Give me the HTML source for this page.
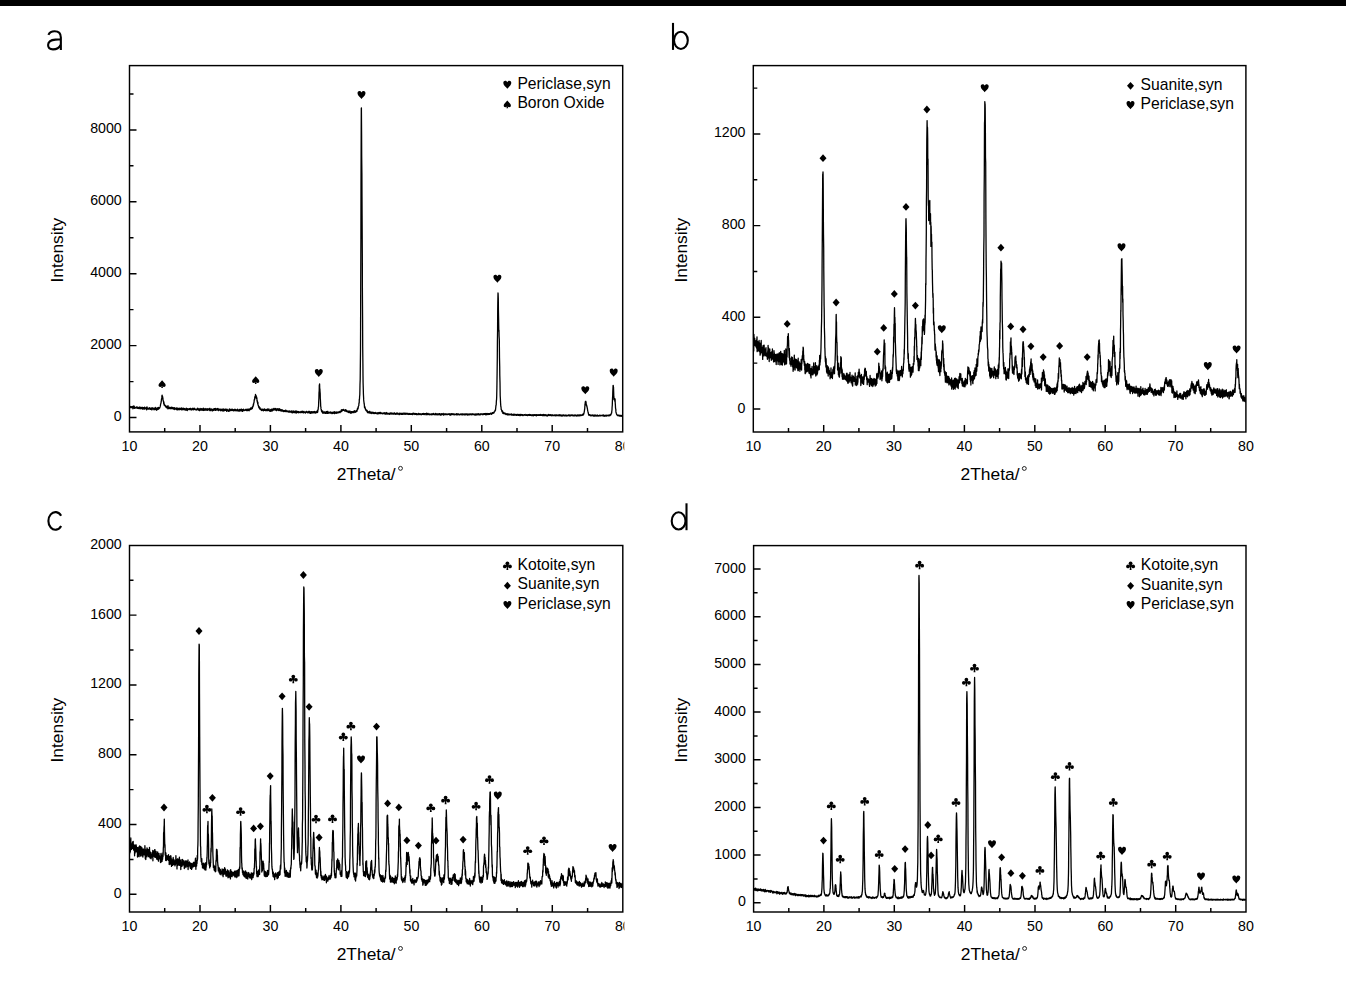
<!DOCTYPE html><html><head><meta charset="utf-8"><style>html,body{margin:0;padding:0;background:#fff;overflow:hidden}svg{display:block}text{font-family:'Liberation Sans', sans-serif;fill:#000}.t{font-size:14.2px}.ax{font-size:17.4px}.lg{font-size:15.7px}</style></head><body>
<svg width="1346" height="997" viewBox="0 0 1346 997">
<defs><path id="s_heart" d="M0,4.05C-0.9,2.6-4,0.6-4,-1.7C-4,-3.2-3.1,-4.05-2,-4.05C-1,-4.05-0.3,-3.4 0,-2.6C0.3,-3.4 1,-4.05 2,-4.05C3.1,-4.05 4,-3.2 4,-1.7C4,0.6 0.9,2.6 0,4.05Z"/><path id="s_spade" d="M0,-3.9L-3.1,-0.4C-3.9,0.5-3.8,2.8-2,2.8C-1.2,2.8-0.6,2.4-0.35,1.9L-0.9,3.9L0.9,3.9L0.35,1.9C0.6,2.4 1.2,2.8 2,2.8C3.8,2.8 3.9,0.5 3.1,-0.4Z"/><path id="s_diamond" d="M0,-3.9L3.5,0L0,3.9L-3.5,0Z"/><g id="s_club"><circle cx="0" cy="-2.4" r="1.85"/><circle cx="-2.6" cy="0.75" r="1.85"/><circle cx="2.6" cy="0.75" r="1.85"/><circle cx="0" cy="0.1" r="1.5"/><path d="M-0.4,0.5L0.4,0.5L0.95,4.25L-0.95,4.25Z"/></g></defs>
<rect x="0" y="0" width="1346" height="997" fill="#fff"/>
<rect x="0" y="0" width="1346" height="6" fill="#000"/>

<g fill="none" stroke="#000" stroke-width="2.1" stroke-linecap="butt">
<path d="M48.4,34.9C49.6,32.3 51.8,31.3 54.6,31.3C58.6,31.3 60.85,33.3 60.85,37.5L60.85,50.1M60.85,39.3L55.5,39.6C51,39.9 48.1,41.5 48.1,45.1C48.1,47.9 50.2,49.4 53,49.4C56.5,49.4 59.5,47.4 60.85,44.5"/>
<path d="M673,22.9V49.9"/><ellipse cx="680.9" cy="40.35" rx="6.9" ry="8.65"/>
<path d="M61.13,515.85A7,8.8 0 1 0 61.13,525.95"/>
<path d="M686.5,503.3V530.2"/><ellipse cx="678.6" cy="520.9" rx="6.9" ry="8.6"/>
</g>

<clipPath id="clipa"><rect x="129.5" y="65.6" width="493.2" height="366.3"/></clipPath>
<polyline clip-path="url(#clipa)" fill="none" stroke="#000" stroke-width="1.3" stroke-linejoin="round" points="129.5,406.8 129.6,406.5 129.8,406.8 129.9,407.8 130.1,406.4 130.2,406.7 130.3,407.4 130.5,406.7 130.6,406.8 130.8,406.9 130.9,407 131.1,406.7 131.2,407.5 131.3,407.2 131.5,407.4 131.6,406.7 131.8,407.1 131.9,407.3 132,407.6 132.2,407.3 132.3,407.2 132.5,407.3 132.6,406.4 132.7,406.6 132.9,408.8 133,408.4 133.2,407.3 133.3,407.5 133.4,407.1 133.6,407.1 133.7,406 133.9,408 134,407.5 134.2,406.1 134.3,406.9 134.4,406.9 134.6,407.7 134.7,408.4 134.9,407.3 135,407.3 135.1,408.1 135.3,407.8 135.4,407.5 135.6,408 135.7,407.5 135.8,407.4 136,407.5 136.1,407.8 136.3,407.1 136.4,407 136.5,407.3 136.7,408 136.8,407.1 137,407.9 137.1,407 137.3,408.2 137.4,407.1 137.5,407.6 137.7,408.4 137.8,407.8 138,407.6 138.1,407.5 138.2,408.3 138.4,408.3 138.5,407.6 138.7,408 138.8,407.6 138.9,407.3 139.1,408.7 139.2,407.6 139.4,407 139.5,408 139.6,408.3 139.8,407.4 139.9,407.7 140.1,407.3 140.2,408 140.4,408.7 140.5,407.9 140.6,408.1 140.8,407.4 140.9,407.8 141.1,408.9 141.2,408.6 141.3,407.4 141.5,407.6 141.6,408.3 141.8,408 141.9,407.7 142,407.7 142.2,407.5 142.3,407.9 142.5,408.1 142.6,408.2 142.7,407.4 142.9,409.4 143,408.2 143.2,408.1 143.3,408.9 143.5,407.9 143.6,408.5 143.7,407.6 143.9,408.2 144,407.8 144.2,407.5 144.3,408 144.4,408.7 144.6,409.1 144.7,407.2 144.9,408.3 145,408.6 145.1,408.2 145.3,408.4 145.4,407.8 145.6,408.3 145.7,408.3 145.8,408.7 146,408 146.1,408.9 146.3,407.9 146.4,407.5 146.6,409.2 146.7,409.8 146.8,408 147,406.9 147.1,409 147.3,409.1 147.4,408.1 147.5,408.9 147.7,408.7 147.8,408.6 148,408.1 148.1,408.7 148.2,408.3 148.4,408.6 148.5,409 148.7,408.7 148.8,409.1 148.9,408.5 149.1,409.2 149.2,409.2 149.4,407.7 149.5,408.6 149.7,408.6 149.8,408.3 149.9,408.8 150.1,408.7 150.2,408.4 150.4,408.5 150.5,409.3 150.6,408.2 150.8,409 150.9,409.3 151.1,409.2 151.2,408.9 151.3,407.8 151.5,409.4 151.6,408.6 151.8,409.9 151.9,408.7 152,408.2 152.2,408.9 152.3,409.1 152.5,408.6 152.6,408.4 152.8,408.4 152.9,407.7 153,408.7 153.2,409.1 153.3,408.9 153.5,408.8 153.6,408.8 153.7,408.8 153.9,408.7 154,409.8 154.2,408.4 154.3,409.2 154.4,409.5 154.6,408.5 154.7,408.1 154.9,408.6 155,408.8 155.1,409.4 155.3,407.4 155.4,408.4 155.6,409.5 155.7,409.3 155.9,408.8 156,409.7 156.1,408.8 156.3,409.1 156.4,408.2 156.6,408.3 156.7,410.3 156.8,408.8 157,409.7 157.1,408.2 157.3,408.7 157.4,408.5 157.5,409.4 157.7,407.7 157.8,407.6 158,409.3 158.1,408.4 158.2,409 158.4,408.6 158.5,409.2 158.7,407.3 158.8,408.9 159,408.4 159.1,407.9 159.2,408.4 159.4,408 159.5,408 159.7,407.6 159.8,407.9 159.9,407.2 160.1,406.7 160.2,406.4 160.4,405.6 160.5,405.3 160.6,404 160.8,404 160.9,403.1 161.1,402.6 161.2,401.6 161.3,401.2 161.5,398.8 161.6,399.2 161.8,397.9 161.9,396 162.1,395.2 162.2,396 162.3,397.7 162.5,396.1 162.6,396.8 162.8,398.9 162.9,397.8 163,399.8 163.2,400.9 163.3,400.7 163.5,401.6 163.6,401.9 163.7,403.8 163.9,401.9 164,404.1 164.2,405.1 164.3,404 164.4,404.9 164.6,404.7 164.7,405.4 164.9,405.4 165,405.4 165.2,406.2 165.3,405.4 165.4,406.3 165.6,406.7 165.7,406.2 165.9,406 166,406.6 166.1,407.1 166.3,406.2 166.4,407.8 166.6,407.4 166.7,406.8 166.8,407.7 167,406.9 167.1,407 167.3,406.5 167.4,407.7 167.5,407.6 167.7,407 167.8,408.8 168,405.7 168.1,407.8 168.3,407.9 168.4,406.9 168.5,407.5 168.7,408.6 168.8,407.2 169,407.1 169.1,407.9 169.2,407.9 169.4,407.4 169.5,408.3 169.7,407.5 169.8,407.7 169.9,408.3 170.1,408.7 170.2,408.1 170.4,408.5 170.5,407.4 170.6,407.9 170.8,407.6 170.9,408 171.1,407.9 171.2,408.6 171.4,407.7 171.5,407.1 171.6,408.4 171.8,408.5 171.9,408.3 172.1,408.5 172.2,408.7 172.3,408.2 172.5,408.5 172.6,407.5 172.8,408.3 172.9,408.2 173,407.8 173.2,408.6 173.3,407.6 173.5,408.8 173.6,408.9 173.7,408.7 173.9,408.5 174,409.3 174.2,408.5 174.3,409.5 174.5,407.7 174.6,408.6 174.7,408.9 174.9,409.1 175,408.8 175.2,408.7 175.3,409.2 175.4,409.1 175.6,408.7 175.7,408.9 175.9,408.1 176,408 176.1,408.7 176.3,408.4 176.4,409.4 176.6,408.3 176.7,408.7 176.8,408.4 177,407.8 177.1,410 177.3,408.6 177.4,409.4 177.6,408.4 177.7,409.5 177.8,409.1 178,408.7 178.1,408.5 178.3,408.8 178.4,409.3 178.5,409.1 178.7,408.3 178.8,408.8 179,409.8 179.1,408.4 179.2,408.6 179.4,408.4 179.5,409.1 179.7,408.4 179.8,409.5 179.9,408.6 180.1,409.2 180.2,408.5 180.4,408.4 180.5,409.3 180.7,409 180.8,408.9 180.9,408.3 181.1,408.6 181.2,409.7 181.4,408.7 181.5,408.6 181.6,407.8 181.8,409.9 181.9,409.3 182.1,408.3 182.2,409.8 182.3,409.7 182.5,408.7 182.6,408.5 182.8,409.4 182.9,408.8 183,409 183.2,408.2 183.3,409.1 183.5,408.5 183.6,409.6 183.8,409.2 183.9,409.1 184,408.5 184.2,408.8 184.3,409.5 184.5,408.7 184.6,408.7 184.7,409.2 184.9,409.3 185,409.2 185.2,410.1 185.3,409 185.4,409 185.6,409.6 185.7,408.8 185.9,409.9 186,409.5 186.1,409.4 186.3,408.1 186.4,410.1 186.6,408.9 186.7,408.7 186.9,409 187,408.6 187.1,409.8 187.3,410.5 187.4,408.8 187.6,409.9 187.7,409.4 187.8,409.9 188,408.7 188.1,408.8 188.3,409.6 188.4,408.8 188.5,409.2 188.7,409.3 188.8,409.2 189,409.4 189.1,408.9 189.2,409.1 189.4,409.5 189.5,408.7 189.7,409.6 189.8,409.1 190,409.1 190.1,408.5 190.2,409.6 190.4,408.4 190.5,409.2 190.7,409.4 190.8,409.7 190.9,409 191.1,409.3 191.2,409.9 191.4,410 191.5,409.6 191.6,409.7 191.8,408.8 191.9,408.6 192.1,408.9 192.2,409.2 192.3,409.6 192.5,409.3 192.6,408.9 192.8,408.2 192.9,408.9 193.1,409.5 193.2,409.4 193.3,409.6 193.5,409.8 193.6,409.5 193.8,409.3 193.9,408.4 194,409.4 194.2,408.7 194.3,408.4 194.5,409.4 194.6,408.5 194.7,409 194.9,409.6 195,409.3 195.2,409.4 195.3,409.5 195.4,409.5 195.6,409.3 195.7,409.2 195.9,409.9 196,409.4 196.2,410.2 196.3,409.3 196.4,409.1 196.6,409.3 196.7,409.3 196.9,409.1 197,409.8 197.1,409.6 197.3,409.2 197.4,408.9 197.6,409.2 197.7,408.1 197.8,409.5 198,408.9 198.1,408.8 198.3,409.5 198.4,409.9 198.5,410.1 198.7,409.4 198.8,408.8 199,409.3 199.1,409.4 199.3,409.7 199.4,409.1 199.5,410.6 199.7,409.3 199.8,409.4 200,410.2 200.1,408.3 200.2,410.2 200.4,410 200.5,410.1 200.7,408.9 200.8,409.9 200.9,409.1 201.1,409.1 201.2,409.3 201.4,410.2 201.5,409.8 201.6,408.6 201.8,410.2 201.9,409.9 202.1,409.6 202.2,409 202.4,409.3 202.5,409.1 202.6,410 202.8,409 202.9,409.2 203.1,410.3 203.2,408.6 203.3,408.2 203.5,409.9 203.6,409.4 203.8,408.7 203.9,410.3 204,410.5 204.2,410.2 204.3,409.8 204.5,409.8 204.6,409.2 204.7,409.3 204.9,410.2 205,409.2 205.2,408.5 205.3,408.8 205.5,408.9 205.6,409.5 205.7,409 205.9,410 206,409.1 206.2,409.5 206.3,408.9 206.4,409.2 206.6,410.1 206.7,409.4 206.9,408.8 207,410.1 207.1,409.8 207.3,409.9 207.4,410.3 207.6,409 207.7,408.8 207.8,409.1 208,409.4 208.1,409.5 208.3,409.4 208.4,409.9 208.6,409 208.7,408.9 208.8,409 209,409.8 209.1,409.5 209.3,409.6 209.4,408.5 209.5,409.4 209.7,410.5 209.8,409.3 210,408.5 210.1,409.1 210.2,409 210.4,409.5 210.5,410.6 210.7,410.5 210.8,410.2 210.9,409.6 211.1,409.3 211.2,409.1 211.4,409.7 211.5,409 211.7,409.7 211.8,409.9 211.9,409.1 212.1,410 212.2,410.9 212.4,410.1 212.5,409.5 212.6,410.9 212.8,409.7 212.9,409.7 213.1,410.3 213.2,410.3 213.3,409.8 213.5,409.8 213.6,408.9 213.8,409.4 213.9,410.4 214,410 214.2,409.2 214.3,408.6 214.5,409.4 214.6,409.4 214.8,408.6 214.9,409.6 215,409.8 215.2,410.4 215.3,409.9 215.5,408.4 215.6,410.4 215.7,409.6 215.9,410.4 216,409.6 216.2,409.1 216.3,409.8 216.4,409.2 216.6,409.2 216.7,409.4 216.9,408.7 217,409.2 217.1,409.8 217.3,410 217.4,410.1 217.6,409.4 217.7,409.8 217.9,408.3 218,408.7 218.1,409.8 218.3,409.9 218.4,408.8 218.6,410.7 218.7,409.9 218.8,409.2 219,410.2 219.1,410 219.3,409.9 219.4,409.4 219.5,409.6 219.7,409.5 219.8,409.4 220,409.7 220.1,409.1 220.2,410.1 220.4,410.5 220.5,410.7 220.7,410.6 220.8,410 221,409.2 221.1,409.7 221.2,410.1 221.4,410.3 221.5,410 221.7,410 221.8,410.1 221.9,410.5 222.1,410 222.2,409.2 222.4,410.9 222.5,409.9 222.6,410.9 222.8,409.7 222.9,410.2 223.1,410.9 223.2,409.8 223.3,408.9 223.5,409.8 223.6,409.2 223.8,409.9 223.9,411 224.1,409.6 224.2,410.1 224.3,410.6 224.5,409.4 224.6,409.7 224.8,410.1 224.9,409.4 225,410.3 225.2,409.5 225.3,410.4 225.5,409.6 225.6,410.4 225.7,409.1 225.9,409.7 226,409.1 226.2,410.3 226.3,410.1 226.4,409.5 226.6,411.3 226.7,410.5 226.9,409.4 227,409.7 227.2,409.4 227.3,410.1 227.4,409.6 227.6,410.3 227.7,410.6 227.9,410.8 228,410.2 228.1,410.2 228.3,410.3 228.4,411.3 228.6,411 228.7,410.2 228.8,409.8 229,410.2 229.1,410.4 229.3,411.2 229.4,408.9 229.5,410.5 229.7,409.1 229.8,409.1 230,409.8 230.1,410.3 230.3,409.9 230.4,410.6 230.5,409.8 230.7,410 230.8,409.7 231,409.5 231.1,409.1 231.2,410.2 231.4,409.4 231.5,410.4 231.7,410.5 231.8,410.3 231.9,410.5 232.1,409.5 232.2,409.5 232.4,409.3 232.5,410 232.6,409.9 232.8,410.3 232.9,410.6 233.1,409.8 233.2,409.9 233.4,410.6 233.5,409.7 233.6,410.9 233.8,410.1 233.9,410.3 234.1,410.3 234.2,410.6 234.3,409.5 234.5,409.7 234.6,409.4 234.8,410 234.9,410.7 235,410.2 235.2,410.7 235.3,409.8 235.5,409.4 235.6,409.9 235.7,410.4 235.9,410.2 236,409.9 236.2,410.8 236.3,410 236.5,410 236.6,410.3 236.7,410.3 236.9,410 237,410.5 237.2,410.5 237.3,409.7 237.4,410 237.6,409.2 237.7,410.6 237.9,411 238,409.6 238.1,409.6 238.3,410.5 238.4,410.8 238.6,410.1 238.7,411 238.8,410.3 239,411.2 239.1,410.2 239.3,411.2 239.4,410.2 239.6,409.3 239.7,410.2 239.8,409.7 240,410.4 240.1,410.6 240.3,410.9 240.4,409.6 240.5,410.1 240.7,409.3 240.8,410.7 241,410.2 241.1,410.1 241.2,409.4 241.4,409.2 241.5,410.4 241.7,410.7 241.8,411 241.9,409.4 242.1,410.1 242.2,410.4 242.4,410.1 242.5,411.4 242.7,411 242.8,409.6 242.9,409.9 243.1,410 243.2,410.6 243.4,409.8 243.5,409.2 243.6,410.7 243.8,410.1 243.9,410.3 244.1,409.9 244.2,410.1 244.3,410.1 244.5,410.5 244.6,410.1 244.8,410.4 244.9,410.1 245,410.1 245.2,409.7 245.3,410.3 245.5,410.2 245.6,409.5 245.8,410.1 245.9,410.1 246,409.5 246.2,409.8 246.3,409.9 246.5,409.9 246.6,410.6 246.7,409.7 246.9,409.2 247,409.6 247.2,410.7 247.3,409.8 247.4,410.4 247.6,410 247.7,409.8 247.9,410.5 248,409.1 248.1,409.9 248.3,409.4 248.4,409.5 248.6,409.1 248.7,409.1 248.9,410.5 249,409.7 249.1,410.8 249.3,409.9 249.4,409.3 249.6,409.1 249.7,408.9 249.8,409.8 250,409.4 250.1,409.4 250.3,408.8 250.4,408.5 250.5,409.5 250.7,407.8 250.8,409.2 251,409.3 251.1,408.7 251.2,408.5 251.4,408.6 251.5,409.1 251.7,407.8 251.8,408.4 252,407.4 252.1,407.3 252.2,408.6 252.4,408.2 252.5,407.9 252.7,406.9 252.8,406.6 252.9,406.1 253.1,406.4 253.2,405.1 253.4,404 253.5,405.3 253.6,403.9 253.8,403 253.9,402.7 254.1,402.1 254.2,399.9 254.4,399.6 254.5,399.2 254.6,399.8 254.8,396.7 254.9,397.6 255.1,397.9 255.2,397.2 255.3,396.9 255.5,394.3 255.6,395.8 255.8,395.8 255.9,397.8 256,395.4 256.2,397.3 256.3,397.7 256.5,396.7 256.6,398.5 256.7,397.6 256.9,398.1 257,401.1 257.2,400.4 257.3,402.2 257.5,401.7 257.6,401.7 257.7,404 257.9,402.3 258,404.4 258.2,405.5 258.3,405.3 258.4,405.2 258.6,407 258.7,406.5 258.9,407.7 259,406.5 259.1,407.4 259.3,408 259.4,407.4 259.6,408.9 259.7,408.6 259.8,407.5 260,408.8 260.1,408 260.3,408.8 260.4,409.4 260.6,409.2 260.7,409.1 260.8,409.5 261,409.8 261.1,409.8 261.3,410.2 261.4,409.4 261.5,409.3 261.7,409.1 261.8,410.5 262,409.2 262.1,409.6 262.2,410.4 262.4,409.6 262.5,409.3 262.7,409.4 262.8,409.3 262.9,409.2 263.1,409.3 263.2,409.8 263.4,410.9 263.5,410.2 263.7,409.6 263.8,410.1 263.9,409.5 264.1,409.4 264.2,409.8 264.4,408.9 264.5,410.4 264.6,409.4 264.8,410.2 264.9,410.3 265.1,409.6 265.2,410.3 265.3,409.5 265.5,410.6 265.6,409.9 265.8,410.4 265.9,410.1 266,410.2 266.2,410.6 266.3,409.6 266.5,410.6 266.6,410.5 266.8,409.5 266.9,409.5 267,409.6 267.2,409.8 267.3,408.8 267.5,410.6 267.6,410.4 267.7,410.5 267.9,409.5 268,409.9 268.2,409.4 268.3,409.5 268.4,410.1 268.6,410.5 268.7,410.5 268.9,408.9 269,409.5 269.1,409.7 269.3,410.2 269.4,410.1 269.6,410.2 269.7,410.2 269.9,411.3 270,410.1 270.1,410.2 270.3,409.9 270.4,409.9 270.6,409.6 270.7,410 270.8,409.6 271,411.3 271.1,410.5 271.3,409.1 271.4,410.6 271.5,410.1 271.7,409.6 271.8,410.4 272,409.5 272.1,410.6 272.2,410.9 272.4,410.6 272.5,410.7 272.7,409.8 272.8,410 273,409.6 273.1,410.3 273.2,408.4 273.4,409.7 273.5,409.7 273.7,409.4 273.8,409.7 273.9,409.9 274.1,409.5 274.2,409 274.4,409.1 274.5,409 274.6,409.7 274.8,409.8 274.9,408.3 275.1,409.5 275.2,409.1 275.3,408.9 275.5,408.5 275.6,410 275.8,409.5 275.9,409.5 276.1,409.4 276.2,410.5 276.3,409.2 276.5,410.6 276.6,409 276.8,408.9 276.9,408.9 277,409.9 277.2,408.7 277.3,409.7 277.5,409.9 277.6,409.8 277.7,409.8 277.9,409.2 278,408.9 278.2,410.5 278.3,409.7 278.4,409 278.6,409.4 278.7,409.3 278.9,410.4 279,409.1 279.2,410.5 279.3,409.6 279.4,409.1 279.6,408.8 279.7,409.6 279.9,409.5 280,410.3 280.1,410.3 280.3,409.5 280.4,410.1 280.6,410.2 280.7,410.9 280.8,410.2 281,410 281.1,410.7 281.3,410.6 281.4,409.6 281.5,410.4 281.7,410.6 281.8,411.1 282,410.9 282.1,410.7 282.3,409.9 282.4,411 282.5,409.8 282.7,411.2 282.8,410.9 283,410.4 283.1,410.9 283.2,411.2 283.4,410.9 283.5,410.7 283.7,411.7 283.8,411.1 283.9,411 284.1,411.2 284.2,410.6 284.4,411.3 284.5,411.2 284.6,411 284.8,410.7 284.9,411.2 285.1,410.4 285.2,411.6 285.4,410.5 285.5,411.6 285.6,411.3 285.8,411 285.9,410.2 286.1,410.8 286.2,411.4 286.3,410.6 286.5,411.4 286.6,411.7 286.8,411.1 286.9,411.3 287,410.9 287.2,411.6 287.3,411.2 287.5,411.1 287.6,411.3 287.7,411.4 287.9,411.8 288,411 288.2,411.4 288.3,411.2 288.5,411.7 288.6,411.5 288.7,412 288.9,411.5 289,411.2 289.2,411.5 289.3,411.2 289.4,411.4 289.6,411 289.7,411.7 289.9,412.4 290,411.4 290.1,411.7 290.3,412.1 290.4,411.4 290.6,411.6 290.7,411.5 290.8,411.9 291,411.6 291.1,411.6 291.3,411 291.4,412.1 291.6,411.8 291.7,411.6 291.8,412.6 292,412.5 292.1,410.9 292.3,412.6 292.4,411.6 292.5,412.2 292.7,412.2 292.8,412.8 293,412.3 293.1,411.6 293.2,412.5 293.4,411.7 293.5,411.8 293.7,411 293.8,412.2 293.9,411.4 294.1,411.6 294.2,412.1 294.4,412.7 294.5,411.3 294.7,412.6 294.8,412.2 294.9,411.6 295.1,411.5 295.2,412.4 295.4,412 295.5,412.1 295.6,411.5 295.8,410.9 295.9,412.9 296.1,411.6 296.2,413.2 296.3,412 296.5,412.6 296.6,411.2 296.8,412 296.9,412.4 297,412.3 297.2,412.3 297.3,412 297.5,412.2 297.6,411.8 297.8,411.4 297.9,411.8 298,412.6 298.2,412.8 298.3,412.4 298.5,411.6 298.6,412.3 298.7,412.4 298.9,412.1 299,412.7 299.2,412.6 299.3,411.9 299.4,412.3 299.6,412.3 299.7,412 299.9,412.4 300,412.4 300.1,412.3 300.3,411.9 300.4,412.1 300.6,412.7 300.7,412.3 300.9,411.9 301,411.3 301.1,412.7 301.3,412 301.4,412.3 301.6,411.8 301.7,412 301.8,411.5 302,412 302.1,412.4 302.3,412.4 302.4,412 302.5,412 302.7,411.1 302.8,411.5 303,412.7 303.1,412.1 303.2,412.8 303.4,412.9 303.5,411.9 303.7,412 303.8,412.7 304,411.5 304.1,412.7 304.2,412.7 304.4,411.9 304.5,412.1 304.7,412.3 304.8,412.3 304.9,412.1 305.1,412.3 305.2,412.3 305.4,413.1 305.5,412.8 305.6,412 305.8,412.6 305.9,412 306.1,411.7 306.2,412.4 306.3,412.1 306.5,411.4 306.6,412 306.8,411.5 306.9,411.6 307.1,412 307.2,412.3 307.3,412.7 307.5,412.8 307.6,412.1 307.8,412.1 307.9,412.4 308,411.9 308.2,412.6 308.3,411.8 308.5,412.3 308.6,412.3 308.7,412.3 308.9,412.4 309,411.2 309.2,413 309.3,412.2 309.4,411.8 309.6,412 309.7,412.5 309.9,411.6 310,412.8 310.2,412.9 310.3,412.1 310.4,413 310.6,413.4 310.7,412 310.9,412 311,412 311.1,412.5 311.3,412.3 311.4,412.8 311.6,411.6 311.7,412 311.8,412 312,413.2 312.1,412 312.3,411.7 312.4,411.8 312.5,412 312.7,412.3 312.8,412.5 313,412.1 313.1,412.2 313.3,412.2 313.4,412.4 313.5,411.6 313.7,412.8 313.8,412.3 314,412.5 314.1,411.8 314.2,411.7 314.4,411.7 314.5,411.9 314.7,412.9 314.8,411.3 314.9,412 315.1,412.3 315.2,412.2 315.4,412.3 315.5,412 315.6,412 315.8,412.3 315.9,413.2 316.1,412.1 316.2,411.8 316.4,411.8 316.5,412 316.6,411.7 316.8,411.4 316.9,412 317.1,411 317.2,412.5 317.3,412.1 317.5,411.8 317.6,412.3 317.8,411.4 317.9,410 318,409.5 318.2,409.4 318.3,407.4 318.5,406.7 318.6,405 318.7,401.5 318.9,398 319,392.9 319.2,390.8 319.3,384.9 319.5,385 319.6,384 319.7,388.2 319.9,389.1 320,391.2 320.2,393.5 320.3,398.7 320.4,399.6 320.6,403.4 320.7,406.4 320.9,407 321,408.9 321.1,409.2 321.3,409.3 321.4,410.5 321.6,411.4 321.7,411.5 321.8,411.2 322,411.5 322.1,412.1 322.3,412.1 322.4,411.6 322.6,410.9 322.7,413.2 322.8,411.8 323,412.2 323.1,411.8 323.3,411.8 323.4,412.2 323.5,412.7 323.7,412.9 323.8,413.1 324,411.8 324.1,412.5 324.2,412.6 324.4,412.5 324.5,413 324.7,412.3 324.8,411.9 324.9,412 325.1,413.1 325.2,411.9 325.4,412.8 325.5,413.3 325.7,413 325.8,412.9 325.9,412.5 326.1,413 326.2,413.2 326.4,412.7 326.5,411.7 326.6,412.8 326.8,412.4 326.9,412.5 327.1,411.5 327.2,413.4 327.3,412.1 327.5,413.1 327.6,412.8 327.8,412.6 327.9,411.5 328,412.9 328.2,413.4 328.3,412.1 328.5,413 328.6,412.7 328.8,412.6 328.9,412.6 329,412.7 329.2,412.5 329.3,412.5 329.5,412.3 329.6,412.8 329.7,413 329.9,413.1 330,412.4 330.2,412.7 330.3,412.4 330.4,412.4 330.6,411.9 330.7,412.6 330.9,412.3 331,413.2 331.1,413.1 331.3,412.8 331.4,413.2 331.6,412.4 331.7,413.2 331.9,412.6 332,413.7 332.1,413.1 332.3,412.8 332.4,412.8 332.6,413.4 332.7,412.6 332.8,412.2 333,412.4 333.1,412.9 333.3,412.9 333.4,413.1 333.5,412.4 333.7,412 333.8,412.9 334,413.4 334.1,412.6 334.2,412.3 334.4,413.7 334.5,412.6 334.7,411.7 334.8,412.3 335,412.4 335.1,412.4 335.2,412.2 335.4,413 335.5,413 335.7,412.4 335.8,412.9 335.9,412.5 336.1,413.4 336.2,412.2 336.4,412.2 336.5,412.5 336.6,412.5 336.8,411.8 336.9,413 337.1,412.9 337.2,412.9 337.3,412.6 337.5,412.9 337.6,412.4 337.8,412.7 337.9,413 338.1,413 338.2,411.8 338.3,412.3 338.5,412.4 338.6,412.2 338.8,412.2 338.9,411.8 339,411.9 339.2,412.3 339.3,412.4 339.5,412.5 339.6,412.5 339.7,411.3 339.9,412.2 340,412.7 340.2,412.1 340.3,412 340.4,411.4 340.6,411.9 340.7,411.2 340.9,411.2 341,410.7 341.2,410.2 341.3,409.9 341.4,410.4 341.6,411.6 341.7,411.1 341.9,410.7 342,409.7 342.1,410.3 342.3,410 342.4,410.6 342.6,410.2 342.7,410 342.8,410.6 343,409.9 343.1,409.7 343.3,410.3 343.4,409.6 343.5,409.3 343.7,410.1 343.8,410.1 344,410.2 344.1,410.4 344.3,410 344.4,410.3 344.5,410.3 344.7,410.6 344.8,411 345,410.8 345.1,410.2 345.2,411 345.4,410.8 345.5,409.7 345.7,410 345.8,411 345.9,410.4 346.1,411.1 346.2,410.1 346.4,411.3 346.5,411 346.6,410.4 346.8,411.6 346.9,410.6 347.1,411.7 347.2,411.3 347.4,411.6 347.5,411.6 347.6,411.5 347.8,411.7 347.9,412.2 348.1,411.3 348.2,411.5 348.3,411.2 348.5,411.3 348.6,412.5 348.8,411.4 348.9,411.4 349,412.3 349.2,411.6 349.3,411.4 349.5,412.3 349.6,412.7 349.7,412.3 349.9,411 350,412.1 350.2,412.7 350.3,412.3 350.5,412.6 350.6,412.4 350.7,412.2 350.9,413.3 351,412.1 351.2,411.6 351.3,412.3 351.4,412.4 351.6,411.7 351.7,412.8 351.9,412.7 352,412.8 352.1,412.2 352.3,412 352.4,412.2 352.6,411.9 352.7,411.7 352.8,411.9 353,412.4 353.1,412.2 353.3,411.5 353.4,412.5 353.6,412.1 353.7,412.1 353.8,412 354,412.4 354.1,412.5 354.3,410.7 354.4,411.3 354.5,412.1 354.7,411.7 354.8,411.3 355,411.7 355.1,411.2 355.2,411.8 355.4,411.6 355.5,411.4 355.7,411.5 355.8,412.3 355.9,411.1 356.1,410.9 356.2,410.6 356.4,411.3 356.5,410.5 356.7,410.4 356.8,411.3 356.9,411.3 357.1,409.8 357.2,410.3 357.4,409.1 357.5,408.2 357.6,409.4 357.8,409.2 357.9,408.5 358.1,407.7 358.2,408.3 358.3,406.4 358.5,406 358.6,405.6 358.8,405.6 358.9,403.8 359,402.8 359.2,403.1 359.3,399.2 359.5,399.3 359.6,396.6 359.8,394.7 359.9,390.3 360,384.5 360.2,379.4 360.3,369.4 360.5,350.5 360.6,326.1 360.7,288.5 360.9,239.2 361,184.1 361.2,129 361.3,108.3 361.4,107.9 361.6,135.6 361.7,156.6 361.9,173.4 362,196.8 362.1,216 362.3,253.7 362.4,290.9 362.6,321.4 362.7,346.7 362.9,364.1 363,375.9 363.1,383.1 363.3,389.5 363.4,393.8 363.6,397.5 363.7,399.9 363.8,401 364,402.4 364.1,403.5 364.3,404.4 364.4,405.6 364.5,407.5 364.7,407.6 364.8,407.9 365,406.9 365.1,408.6 365.2,408.3 365.4,408.2 365.5,409.2 365.7,409.8 365.8,410 366,410.6 366.1,410.1 366.2,409.9 366.4,410.3 366.5,410.4 366.7,410.6 366.8,410.1 366.9,411.5 367.1,411.2 367.2,411 367.4,410.9 367.5,412.7 367.6,411.9 367.8,411.8 367.9,412.2 368.1,411.5 368.2,411.8 368.3,412.1 368.5,412.7 368.6,412.7 368.8,412.6 368.9,412 369.1,412.7 369.2,413.2 369.3,412.9 369.5,412.6 369.6,411.7 369.8,411.3 369.9,412.6 370,412.1 370.2,411.9 370.3,412 370.5,412.6 370.6,413.1 370.7,412.8 370.9,413.4 371,412.6 371.2,412.4 371.3,413.5 371.4,412.7 371.6,412.6 371.7,412.2 371.9,412.2 372,412.5 372.2,413.1 372.3,413 372.4,412.4 372.6,413.1 372.7,412.9 372.9,412.3 373,412.9 373.1,413.5 373.3,413.1 373.4,412.7 373.6,413 373.7,412.5 373.8,412.5 374,413.3 374.1,413.2 374.3,413.1 374.4,413.5 374.5,412.9 374.7,413.1 374.8,412.7 375,413.3 375.1,413.4 375.3,412.4 375.4,413.4 375.5,413.3 375.7,413.4 375.8,413.2 376,413.5 376.1,413.2 376.2,413.4 376.4,413.3 376.5,413 376.7,412.9 376.8,413 376.9,413.5 377.1,413 377.2,413.2 377.4,413.2 377.5,413.9 377.7,413 377.8,413.3 377.9,412.6 378.1,413 378.2,413.7 378.4,413.8 378.5,412.8 378.6,413.6 378.8,413 378.9,413.4 379.1,412.5 379.2,413.3 379.3,412.7 379.5,412.8 379.6,413.5 379.8,413.4 379.9,412.7 380,413.3 380.2,413.7 380.3,412.9 380.5,412.3 380.6,413.3 380.8,412.8 380.9,413.4 381,412.8 381.2,413.4 381.3,412.8 381.5,413.1 381.6,413.4 381.7,413.3 381.9,413.6 382,413.8 382.2,413.8 382.3,413.4 382.4,413.8 382.6,413.2 382.7,413.2 382.9,413.2 383,413.6 383.1,413.4 383.3,413.4 383.4,412.9 383.6,413.7 383.7,413.6 383.9,413.5 384,413.5 384.1,413.7 384.3,413.7 384.4,413 384.6,413.7 384.7,413.1 384.8,412.7 385,413 385.1,414.1 385.3,413.2 385.4,413.3 385.5,413.3 385.7,414.1 385.8,413.2 386,413.9 386.1,413 386.2,413.1 386.4,412.5 386.5,413.6 386.7,414.1 386.8,413.1 387,413.2 387.1,413.7 387.2,413 387.4,413.3 387.5,414 387.7,413.7 387.8,413.7 387.9,413.6 388.1,413.5 388.2,413.8 388.4,413.6 388.5,413.3 388.6,413.6 388.8,413.6 388.9,413.7 389.1,413.6 389.2,414.3 389.3,413.5 389.5,414 389.6,413.5 389.8,414.1 389.9,413.2 390.1,413.5 390.2,414.1 390.3,413.5 390.5,413.9 390.6,412.9 390.8,413.4 390.9,413.9 391,413.5 391.2,413.6 391.3,413.2 391.5,413.5 391.6,413.4 391.7,414 391.9,413.3 392,412.8 392.2,413.4 392.3,413.6 392.4,413.6 392.6,414 392.7,413.6 392.9,414 393,413.6 393.2,413.8 393.3,414 393.4,413.4 393.6,414.2 393.7,413.7 393.9,414.2 394,413 394.1,412.9 394.3,413.4 394.4,413 394.6,413.5 394.7,413.5 394.8,413.8 395,414 395.1,413.6 395.3,413.9 395.4,413.9 395.5,413.4 395.7,413.7 395.8,414.3 396,413.8 396.1,414 396.3,413.8 396.4,414.1 396.5,413.3 396.7,413 396.8,414.1 397,413.5 397.1,413.5 397.2,414.1 397.4,413.7 397.5,413.2 397.7,413.4 397.8,413.1 397.9,414.2 398.1,414 398.2,413.6 398.4,413.6 398.5,413.7 398.6,413.9 398.8,413.9 398.9,414 399.1,413.6 399.2,414.7 399.4,413.2 399.5,414 399.6,414.3 399.8,413.6 399.9,414.3 400.1,413.7 400.2,413.9 400.3,413.6 400.5,413.5 400.6,413.3 400.8,414 400.9,413.9 401,413.8 401.2,414.3 401.3,413.6 401.5,413.8 401.6,414.3 401.7,413.4 401.9,413.3 402,414.3 402.2,413.6 402.3,413.4 402.5,413.5 402.6,414.2 402.7,414.4 402.9,413.9 403,414 403.2,413.9 403.3,413.9 403.4,413.7 403.6,414.1 403.7,413.9 403.9,412.9 404,413.9 404.1,413.6 404.3,413.8 404.4,413.8 404.6,414.2 404.7,413.7 404.8,413.9 405,413.6 405.1,413.2 405.3,413.8 405.4,413.6 405.6,414.3 405.7,413.9 405.8,413.4 406,413.9 406.1,414.1 406.3,413.8 406.4,414 406.5,414 406.7,414.1 406.8,413.2 407,414.2 407.1,414.1 407.2,414.1 407.4,413.5 407.5,414 407.7,413.5 407.8,413.9 407.9,414 408.1,414.5 408.2,413.5 408.4,413.8 408.5,413.8 408.7,414 408.8,414.1 408.9,414.4 409.1,413.6 409.2,413.9 409.4,414.1 409.5,414.2 409.6,413.9 409.8,414 409.9,413.4 410.1,413.7 410.2,414.2 410.3,414.4 410.5,414.1 410.6,414.3 410.8,414 410.9,413.9 411,413.8 411.2,413.9 411.3,414.1 411.5,413.8 411.6,414.3 411.8,414 411.9,413.7 412,413.9 412.2,414.5 412.3,414.4 412.5,414.6 412.6,413.4 412.7,414.6 412.9,414.1 413,413.4 413.2,413.6 413.3,413.6 413.4,414.2 413.6,413.8 413.7,413.1 413.9,414 414,413.9 414.1,414.1 414.3,414 414.4,413.9 414.6,413.5 414.7,414.4 414.9,414.5 415,414 415.1,414 415.3,413.5 415.4,413.8 415.6,414.3 415.7,413.8 415.8,413.7 416,413.9 416.1,414.2 416.3,413.8 416.4,414.2 416.5,414.7 416.7,413.6 416.8,414.5 417,414.2 417.1,414.2 417.2,414.2 417.4,414.2 417.5,414.6 417.7,413.9 417.8,414.1 418,414.1 418.1,413.7 418.2,413.7 418.4,413.6 418.5,413.4 418.7,413.9 418.8,414.6 418.9,414 419.1,414.1 419.2,414.1 419.4,414.3 419.5,414.4 419.6,413.8 419.8,413.7 419.9,414.5 420.1,413.9 420.2,414.1 420.3,414.2 420.5,413.8 420.6,414.1 420.8,414.3 420.9,414.1 421.1,414.8 421.2,414.3 421.3,414.2 421.5,414.6 421.6,414 421.8,414 421.9,414.3 422,414.2 422.2,413.9 422.3,413.7 422.5,414.4 422.6,414 422.7,413.7 422.9,414.1 423,414.4 423.2,414.4 423.3,414.2 423.4,414.5 423.6,413.4 423.7,414.3 423.9,414 424,414.1 424.2,413.9 424.3,414.3 424.4,414.6 424.6,413.6 424.7,414.2 424.9,414.1 425,414.1 425.1,413.7 425.3,413.9 425.4,413.7 425.6,413.8 425.7,414.1 425.8,414 426,414.4 426.1,414.8 426.3,414.2 426.4,414.5 426.5,413.2 426.7,413.6 426.8,413.7 427,414.3 427.1,413.4 427.3,414.7 427.4,414.6 427.5,414.4 427.7,414.5 427.8,414.1 428,414.1 428.1,413.5 428.2,413.8 428.4,413.7 428.5,414 428.7,414.2 428.8,414.4 428.9,414.7 429.1,414.5 429.2,414.3 429.4,413.9 429.5,414.8 429.6,414.6 429.8,414.1 429.9,414.5 430.1,414.1 430.2,414.3 430.4,414.4 430.5,414.6 430.6,414.2 430.8,414.4 430.9,414.4 431.1,414.4 431.2,414.1 431.3,414.1 431.5,414.8 431.6,414.2 431.8,414 431.9,413.8 432,413.9 432.2,414.1 432.3,414.6 432.5,414.5 432.6,413.9 432.7,414.4 432.9,413.8 433,413.7 433.2,414.6 433.3,414 433.5,414.2 433.6,413.5 433.7,413.9 433.9,414.4 434,414.1 434.2,414.5 434.3,414.3 434.4,414.1 434.6,414.2 434.7,414.1 434.9,414.5 435,414.8 435.1,414.3 435.3,414.5 435.4,414.4 435.6,413.5 435.7,413.8 435.8,414.3 436,414.7 436.1,414.7 436.3,414.1 436.4,413.8 436.6,414.3 436.7,414.2 436.8,414.1 437,413.9 437.1,414.9 437.3,414.2 437.4,414.1 437.5,413.9 437.7,414.1 437.8,414.6 438,414.4 438.1,414.8 438.2,414.2 438.4,414.2 438.5,414.1 438.7,414.6 438.8,414.6 438.9,413.7 439.1,414.2 439.2,413.6 439.4,414.1 439.5,414.7 439.7,414 439.8,413.8 439.9,414.4 440.1,414.9 440.2,414 440.4,414.3 440.5,414.1 440.6,415.1 440.8,414.1 440.9,415.1 441.1,414.5 441.2,413.9 441.3,414.9 441.5,414.9 441.6,414.4 441.8,413.7 441.9,413.7 442,414.5 442.2,413.9 442.3,414.1 442.5,414.2 442.6,414.1 442.8,414.5 442.9,414 443,413.9 443.2,413.4 443.3,414 443.5,415.1 443.6,414.7 443.7,414.2 443.9,414.2 444,414.9 444.2,414.3 444.3,414.4 444.4,414.3 444.6,414.3 444.7,414 444.9,413.8 445,414 445.1,414.7 445.3,414.6 445.4,414.5 445.6,414.3 445.7,414.4 445.9,414.4 446,414.6 446.1,414 446.3,414 446.4,414 446.6,414.3 446.7,414.1 446.8,414.6 447,414.6 447.1,414.5 447.3,414.1 447.4,414.3 447.5,414.7 447.7,414.3 447.8,414.1 448,414.2 448.1,414.5 448.2,414.3 448.4,414.4 448.5,414.4 448.7,414.3 448.8,414 449,413.7 449.1,413.8 449.2,414.1 449.4,414.4 449.5,414.4 449.7,414.4 449.8,413.9 449.9,415.2 450.1,414.2 450.2,415 450.4,414.3 450.5,413.8 450.6,414.6 450.8,415.1 450.9,413.9 451.1,413.8 451.2,414.1 451.3,413.9 451.5,414.6 451.6,413.9 451.8,413.7 451.9,414.1 452.1,414.2 452.2,413.9 452.3,413.9 452.5,414.6 452.6,413.8 452.8,414.1 452.9,414.3 453,413.9 453.2,414 453.3,414.1 453.5,414.5 453.6,414 453.7,414.7 453.9,414.4 454,414.9 454.2,414.9 454.3,414.2 454.4,414.3 454.6,414.3 454.7,414.1 454.9,414.2 455,414.6 455.2,414.3 455.3,414.3 455.4,414.5 455.6,414.4 455.7,414.4 455.9,414.5 456,414.4 456.1,414.2 456.3,413.6 456.4,414.6 456.6,414.1 456.7,414.8 456.8,413.8 457,414.4 457.1,414.3 457.3,413.9 457.4,414 457.5,414.8 457.7,414.1 457.8,414.4 458,414.1 458.1,414.3 458.3,414.1 458.4,414.2 458.5,414.4 458.7,413.9 458.8,414.8 459,414.5 459.1,414.7 459.2,414.4 459.4,414.5 459.5,414.4 459.7,414.5 459.8,414.5 459.9,414.9 460.1,414.3 460.2,414.2 460.4,414.5 460.5,414.6 460.6,414.5 460.8,413.8 460.9,414.3 461.1,414.2 461.2,414.4 461.4,414.5 461.5,414.6 461.6,413.8 461.8,414.9 461.9,414.2 462.1,414.3 462.2,414.4 462.3,414.9 462.5,414.8 462.6,414 462.8,414.6 462.9,414 463,414.1 463.2,414.1 463.3,414.1 463.5,414.7 463.6,414.5 463.7,414.1 463.9,414.8 464,413.8 464.2,414.5 464.3,414.4 464.5,414.7 464.6,414.2 464.7,414.6 464.9,414.4 465,414.7 465.2,413.9 465.3,414.9 465.4,414.2 465.6,414.3 465.7,414.2 465.9,414.7 466,414 466.1,414 466.3,414.3 466.4,414.2 466.6,414.4 466.7,414.1 466.8,414.6 467,414.2 467.1,414.2 467.3,414.8 467.4,415.2 467.6,414.4 467.7,414.4 467.8,413.9 468,414.3 468.1,414.5 468.3,414.8 468.4,414.4 468.5,414.5 468.7,414.7 468.8,414.4 469,414 469.1,414.3 469.2,414.7 469.4,414.2 469.5,414.7 469.7,414.9 469.8,414.2 469.9,414.5 470.1,414 470.2,414.2 470.4,414.6 470.5,414.3 470.7,413.9 470.8,414.4 470.9,414.7 471.1,414.6 471.2,414.6 471.4,414.7 471.5,414.8 471.6,414.2 471.8,414 471.9,414.5 472.1,414.1 472.2,414 472.3,413.8 472.5,414.4 472.6,414.5 472.8,414.2 472.9,414.3 473,414.2 473.2,413.9 473.3,414.5 473.5,414.3 473.6,414.7 473.8,414.4 473.9,414.6 474,414.6 474.2,414.4 474.3,414.5 474.5,414.2 474.6,414.1 474.7,414.8 474.9,414 475,415.1 475.2,414.3 475.3,414.1 475.4,414.6 475.6,414.4 475.7,414.6 475.9,414 476,415.2 476.1,414.7 476.3,415 476.4,414.3 476.6,413.9 476.7,413.9 476.9,414.1 477,414.2 477.1,414.6 477.3,413.9 477.4,414.1 477.6,414.6 477.7,414.8 477.8,414.5 478,414 478.1,413.9 478.3,413.8 478.4,414.6 478.5,414.4 478.7,413.9 478.8,414.2 479,414.1 479.1,414.8 479.2,414.4 479.4,414.3 479.5,414.4 479.7,414.5 479.8,414.9 480,413.8 480.1,414.3 480.2,414.8 480.4,413.9 480.5,414.3 480.7,414.1 480.8,414.4 480.9,414.6 481.1,414.6 481.2,414.2 481.4,414 481.5,414.1 481.6,414.1 481.8,413.9 481.9,414.2 482.1,413.9 482.2,413.9 482.3,414.2 482.5,414.3 482.6,414.4 482.8,414.7 482.9,414.8 483.1,413.8 483.2,414.3 483.3,414.5 483.5,413.7 483.6,413.9 483.8,414.2 483.9,413.9 484,414.3 484.2,414.1 484.3,413.6 484.5,413.9 484.6,414.3 484.7,414 484.9,413.8 485,414.3 485.2,414.4 485.3,413.6 485.4,414.3 485.6,414.7 485.7,414.2 485.9,413.4 486,414 486.2,413.9 486.3,414.9 486.4,414.4 486.6,413.7 486.7,414.3 486.9,413.7 487,414 487.1,414 487.3,413.5 487.4,414.3 487.6,414.3 487.7,414.1 487.8,414 488,414.7 488.1,413.6 488.3,414 488.4,414.1 488.5,413.8 488.7,414.2 488.8,413.6 489,414 489.1,413.7 489.3,414.3 489.4,414.1 489.5,413.8 489.7,414.3 489.8,414.1 490,413.9 490.1,413.5 490.2,413.6 490.4,413.5 490.5,413.7 490.7,413.4 490.8,413.2 490.9,413.7 491.1,413.5 491.2,413.4 491.4,414.4 491.5,413.6 491.6,413.4 491.8,413.2 491.9,413.6 492.1,413 492.2,413.6 492.4,413.4 492.5,412.6 492.6,413.7 492.8,413.1 492.9,413.1 493.1,413 493.2,413.1 493.3,412.5 493.5,413.1 493.6,413.1 493.8,412.2 493.9,412.8 494,412 494.2,412 494.3,412.1 494.5,411.8 494.6,411.4 494.7,410.9 494.9,411.1 495,410.6 495.2,410.9 495.3,409.8 495.5,410.2 495.6,408.7 495.7,408.2 495.9,405.9 496,405.3 496.2,405 496.3,402.6 496.4,400.9 496.6,399.1 496.7,396.2 496.9,387.2 497,380.2 497.1,373.2 497.3,357.3 497.4,342.1 497.6,328.7 497.7,310.1 497.8,302.5 498,293 498.1,293.6 498.3,299.1 498.4,309.4 498.6,318.6 498.7,324.8 498.8,331.2 499,330.2 499.1,336.3 499.3,339.3 499.4,348.1 499.5,357.7 499.7,366.2 499.8,375.4 500,382.2 500.1,389 500.2,395.7 500.4,398.7 500.5,401.9 500.7,404.7 500.8,406.4 501,406.8 501.1,408.2 501.2,409.4 501.4,409.3 501.5,409.7 501.7,410.2 501.8,411.2 501.9,411.2 502.1,410.6 502.2,411.9 502.4,411.9 502.5,410.9 502.6,412 502.8,412.5 502.9,413.3 503.1,412.5 503.2,413.3 503.3,412.9 503.5,413.3 503.6,413.7 503.8,412.5 503.9,413.3 504.1,413 504.2,413.1 504.3,413.7 504.5,413.5 504.6,413.7 504.8,413.3 504.9,413.5 505,413.9 505.2,413.2 505.3,413.6 505.5,413.7 505.6,414.2 505.7,413.8 505.9,414.5 506,413.9 506.2,414.4 506.3,414 506.4,414.2 506.6,414 506.7,414 506.9,414.2 507,414.2 507.2,414.7 507.3,414.9 507.4,413.8 507.6,414.1 507.7,414.8 507.9,413.7 508,414.6 508.1,414.2 508.3,414.2 508.4,414.3 508.6,414.2 508.7,414.9 508.8,414.4 509,414.5 509.1,414.4 509.3,414.6 509.4,414.7 509.5,414.7 509.7,414.2 509.8,414.8 510,414.4 510.1,414.4 510.3,414.6 510.4,414.4 510.5,414.4 510.7,414.7 510.8,414.5 511,414 511.1,414.9 511.2,414.7 511.4,414.9 511.5,414 511.7,415.1 511.8,414.6 511.9,414.3 512.1,414.9 512.2,414.7 512.4,414.9 512.5,415.1 512.6,414.7 512.8,414.5 512.9,414.8 513.1,414.6 513.2,414.5 513.4,414.3 513.5,415.1 513.6,414.5 513.8,414.9 513.9,415.3 514.1,415 514.2,414.5 514.3,414.6 514.5,415.1 514.6,414.2 514.8,414.6 514.9,414.8 515,414.9 515.2,414.6 515.3,414.9 515.5,414.4 515.6,414.7 515.7,414.6 515.9,414.9 516,415.3 516.2,414.6 516.3,415.1 516.5,414.8 516.6,414.8 516.7,415.1 516.9,414.5 517,415.3 517.2,414.4 517.3,415 517.4,414.5 517.6,414.4 517.7,415.1 517.9,415.1 518,414.6 518.1,414.8 518.3,414.8 518.4,415.4 518.6,415.4 518.7,414.7 518.8,414.4 519,415.1 519.1,415.1 519.3,414.8 519.4,414.7 519.6,414.7 519.7,415 519.8,415.5 520,414.4 520.1,415 520.3,414.5 520.4,415.5 520.5,414.8 520.7,415.1 520.8,415.2 521,414.6 521.1,414.5 521.2,415.1 521.4,414.7 521.5,415.2 521.7,415.1 521.8,415 521.9,415 522.1,414.7 522.2,415.3 522.4,414.6 522.5,414.6 522.7,415 522.8,415.3 522.9,415.7 523.1,415 523.2,415.2 523.4,414.9 523.5,415.3 523.6,415 523.8,415 523.9,415 524.1,414.9 524.2,414.9 524.3,414.7 524.5,415.2 524.6,414.8 524.8,414.9 524.9,415.1 525,415.3 525.2,414.5 525.3,414.9 525.5,415.1 525.6,415 525.8,415 525.9,415.1 526,415.4 526.2,414.9 526.3,415 526.5,415.1 526.6,414.7 526.7,415.4 526.9,415.3 527,415 527.2,414.8 527.3,414.8 527.4,414.8 527.6,415.7 527.7,414.9 527.9,414.9 528,414.8 528.1,415.2 528.3,414.9 528.4,414.7 528.6,414.6 528.7,415 528.9,415.4 529,415 529.1,414.8 529.3,414.9 529.4,414.5 529.6,415.1 529.7,415.3 529.8,415.2 530,414.9 530.1,415.3 530.3,415.4 530.4,415.3 530.5,414.7 530.7,415 530.8,415.2 531,414.8 531.1,414.9 531.2,415.3 531.4,414.8 531.5,415 531.7,415.7 531.8,415.4 532,415 532.1,414.9 532.2,415.2 532.4,415.4 532.5,415 532.7,415.6 532.8,414.9 532.9,415.1 533.1,415.1 533.2,415.3 533.4,414.8 533.5,415.8 533.6,415.3 533.8,414.9 533.9,415.3 534.1,414.7 534.2,415 534.3,415.3 534.5,414.8 534.6,415.1 534.8,414.9 534.9,415.3 535.1,415.3 535.2,414.9 535.3,415.1 535.5,415.3 535.6,415.4 535.8,414.9 535.9,414.6 536,415.4 536.2,414.9 536.3,415.9 536.5,415.5 536.6,414.9 536.7,414.7 536.9,415.1 537,415 537.2,415 537.3,414.8 537.4,415.4 537.6,414.9 537.7,415.3 537.9,415.2 538,415.1 538.2,415.2 538.3,415.4 538.4,415.2 538.6,415.4 538.7,414.7 538.9,414.9 539,415.3 539.1,414.7 539.3,414.8 539.4,415 539.6,415.3 539.7,415.1 539.8,415 540,414.8 540.1,415.2 540.3,415.3 540.4,414.5 540.5,414.8 540.7,415.1 540.8,415.4 541,415 541.1,414.8 541.3,415 541.4,414.9 541.5,415.2 541.7,414.8 541.8,415.3 542,415.3 542.1,415.3 542.2,415.4 542.4,414.6 542.5,415.7 542.7,415.1 542.8,415.5 542.9,415.5 543.1,415.2 543.2,415.6 543.4,415.2 543.5,414.5 543.6,415.2 543.8,415.1 543.9,415.4 544.1,415.1 544.2,415.6 544.4,415.2 544.5,415.2 544.6,414.6 544.8,415.2 544.9,415.3 545.1,415.4 545.2,415.6 545.3,415 545.5,414.8 545.6,415.3 545.8,415 545.9,415.3 546,415.1 546.2,415.1 546.3,415.6 546.5,415.5 546.6,415 546.7,415.8 546.9,415.2 547,415.3 547.2,415.5 547.3,415.2 547.5,415.2 547.6,415.1 547.7,416 547.9,414.8 548,415.4 548.2,415 548.3,415.3 548.4,415.4 548.6,415.3 548.7,414.5 548.9,414.8 549,415.4 549.1,415.2 549.3,414.9 549.4,415.1 549.6,415.2 549.7,415.3 549.8,415.6 550,415.1 550.1,415 550.3,414.6 550.4,415.4 550.6,415.1 550.7,415.3 550.8,414.9 551,415.3 551.1,415.5 551.3,415.8 551.4,415.1 551.5,415.2 551.7,415 551.8,415.5 552,414.6 552.1,415.5 552.2,415.2 552.4,415.2 552.5,415 552.7,415.4 552.8,415.6 552.9,415.6 553.1,415.1 553.2,415.3 553.4,415.2 553.5,415.5 553.7,415.3 553.8,415.3 553.9,415.1 554.1,415.7 554.2,415.5 554.4,414.8 554.5,415.4 554.6,415.3 554.8,415.4 554.9,415.7 555.1,415.6 555.2,415.2 555.3,415.5 555.5,414.8 555.6,415.8 555.8,415.9 555.9,415.4 556,415.7 556.2,415 556.3,415.5 556.5,415.2 556.6,415.7 556.8,415.2 556.9,415.2 557,415 557.2,415.3 557.3,415.2 557.5,415.3 557.6,415.1 557.7,415.5 557.9,415.2 558,415.5 558.2,415.2 558.3,415.4 558.4,415.5 558.6,415.6 558.7,415 558.9,415.8 559,415.8 559.1,415.2 559.3,415.7 559.4,415.5 559.6,415.5 559.7,414.7 559.9,415.6 560,415.6 560.1,415.5 560.3,415.3 560.4,415.2 560.6,415.8 560.7,415.3 560.8,414.8 561,415.9 561.1,415.2 561.3,415.2 561.4,415.4 561.5,415.4 561.7,416 561.8,415.1 562,415.5 562.1,415.5 562.2,415.1 562.4,416 562.5,415.4 562.7,415.2 562.8,415.2 563,415.2 563.1,414.8 563.2,415.3 563.4,415.1 563.5,415.2 563.7,415.8 563.8,415.6 563.9,414.8 564.1,415.5 564.2,415.4 564.4,415.8 564.5,415.5 564.6,415.8 564.8,415.6 564.9,415.3 565.1,415.7 565.2,415.6 565.3,415.1 565.5,415.3 565.6,415.3 565.8,415.2 565.9,415.6 566.1,415.5 566.2,416 566.3,415.2 566.5,415.5 566.6,415.4 566.8,415.7 566.9,415.3 567,415.3 567.2,415.4 567.3,415.9 567.5,415.7 567.6,415.5 567.7,415.7 567.9,415.3 568,415.2 568.2,415.7 568.3,415.5 568.4,415.6 568.6,415.2 568.7,415.2 568.9,414.8 569,415.5 569.2,415.7 569.3,415.3 569.4,415.5 569.6,415.4 569.7,415.1 569.9,415.5 570,415.3 570.1,416 570.3,415.2 570.4,415.4 570.6,415.5 570.7,415.6 570.8,415.1 571,415.6 571.1,415.1 571.3,415.6 571.4,415.5 571.5,415.4 571.7,414.9 571.8,415.4 572,415.4 572.1,415.5 572.3,415.6 572.4,415.6 572.5,415 572.7,415.1 572.8,415.7 573,415.4 573.1,415.8 573.2,415.2 573.4,415.3 573.5,415.4 573.7,415.7 573.8,415.3 573.9,415.3 574.1,415.5 574.2,415.3 574.4,415.8 574.5,415.6 574.6,415.7 574.8,415.5 574.9,415 575.1,415.5 575.2,415.2 575.4,415.5 575.5,415.6 575.6,415.2 575.8,415.3 575.9,415.1 576.1,415.2 576.2,415.7 576.3,416.2 576.5,415.4 576.6,415.8 576.8,415.9 576.9,415.9 577,415.6 577.2,415.5 577.3,415.5 577.5,414.9 577.6,415.8 577.7,415.5 577.9,415.8 578,415.7 578.2,415.4 578.3,415.3 578.5,415.8 578.6,415.1 578.7,415.7 578.9,415.2 579,415.4 579.2,415.2 579.3,415.3 579.4,415.5 579.6,415.3 579.7,415.8 579.9,415.8 580,415.5 580.1,415 580.3,415.6 580.4,415.5 580.6,414.9 580.7,415.3 580.8,415.3 581,415.6 581.1,415.3 581.3,415.1 581.4,415.3 581.6,415 581.7,415.1 581.8,414.9 582,414.9 582.1,415.2 582.3,414.8 582.4,414.5 582.5,414.9 582.7,415.3 582.8,414.8 583,414.9 583.1,413.9 583.2,414.3 583.4,414.8 583.5,414.3 583.7,413.5 583.8,414.1 583.9,413.4 584.1,412.6 584.2,411.9 584.4,411.2 584.5,409.8 584.7,409.3 584.8,407.4 584.9,405.9 585.1,404.2 585.2,402.9 585.4,401.6 585.5,401.3 585.6,401.4 585.8,401.3 585.9,401.7 586.1,402.6 586.2,404.9 586.3,404.6 586.5,404.8 586.6,405.9 586.8,405.7 586.9,406.4 587,406.5 587.2,408.3 587.3,407.9 587.5,409.3 587.6,410.3 587.8,411 587.9,411.2 588,411.9 588.2,412.8 588.3,413.1 588.5,414 588.6,414.6 588.7,415 588.9,414.6 589,414.8 589.2,414.8 589.3,414.9 589.4,414.6 589.6,415.3 589.7,415.4 589.9,414.6 590,415 590.1,415.3 590.3,415.9 590.4,415.5 590.6,415.4 590.7,415.4 590.9,415.3 591,415.5 591.1,415.1 591.3,415.8 591.4,415.5 591.6,415.6 591.7,415.3 591.8,415.4 592,415.3 592.1,415.5 592.3,414.8 592.4,415.3 592.5,415.7 592.7,415.5 592.8,415.7 593,415.4 593.1,415.3 593.2,415.5 593.4,415.6 593.5,415.8 593.7,415.2 593.8,415.3 594,416.3 594.1,415.6 594.2,415.8 594.4,415.7 594.5,415.2 594.7,415.9 594.8,415.9 594.9,415 595.1,415.8 595.2,415.7 595.4,415.3 595.5,415.8 595.6,415.6 595.8,415.6 595.9,415.3 596.1,416.1 596.2,415.9 596.3,415.7 596.5,415.4 596.6,415.8 596.8,415.5 596.9,415.8 597.1,415.8 597.2,415.3 597.3,415.7 597.5,415 597.6,415.6 597.8,415.4 597.9,415.5 598,416.1 598.2,416.1 598.3,415.6 598.5,416 598.6,415.8 598.7,415.8 598.9,415.9 599,415.4 599.2,415.5 599.3,415.6 599.4,415.5 599.6,415.9 599.7,415.5 599.9,415.9 600,415.3 600.2,415.9 600.3,415.8 600.4,415.4 600.6,415.5 600.7,415.9 600.9,415.5 601,415.7 601.1,415.7 601.3,415.5 601.4,415.5 601.6,415.4 601.7,415.6 601.8,415.6 602,415.7 602.1,415.3 602.3,415.9 602.4,415.2 602.5,415.1 602.7,415.1 602.8,415.7 603,415.2 603.1,415.4 603.3,415.4 603.4,415 603.5,415.6 603.7,415.5 603.8,416 604,416.2 604.1,415.6 604.2,415.6 604.4,415.5 604.5,415.6 604.7,416.2 604.8,415.6 604.9,415.4 605.1,415.3 605.2,415.9 605.4,415.9 605.5,415.8 605.6,415.8 605.8,416.1 605.9,415.8 606.1,415.2 606.2,415.9 606.4,416.1 606.5,415.7 606.6,415.7 606.8,415.4 606.9,415.8 607.1,415.6 607.2,415.8 607.3,415.8 607.5,415.4 607.6,415.5 607.8,415.5 607.9,415.4 608,415.7 608.2,415.5 608.3,415.4 608.5,415.1 608.6,415.9 608.7,415.5 608.9,415.2 609,415.5 609.2,415.3 609.3,415.1 609.5,415.1 609.6,415.7 609.7,415.5 609.9,415.8 610,414.8 610.2,414.9 610.3,414.5 610.4,414.8 610.6,415 610.7,414.2 610.9,414.8 611,414.2 611.1,414.1 611.3,413.4 611.4,413 611.6,413 611.7,412.5 611.8,411.1 612,410 612.1,407.3 612.3,405.1 612.4,401.3 612.6,396.7 612.7,395.7 612.8,391.6 613,387.3 613.1,385.3 613.3,385.8 613.4,388.7 613.5,387 613.7,392.5 613.8,396.4 614,399.6 614.1,397.8 614.2,399.3 614.4,399.4 614.5,399.8 614.7,398.6 614.8,398.9 614.9,401.4 615.1,398.9 615.2,402.6 615.4,405.2 615.5,407.6 615.7,409.2 615.8,409.1 615.9,411.4 616.1,413 616.2,412.8 616.4,413.5 616.5,413.8 616.6,414.3 616.8,414.6 616.9,414.6 617.1,414.9 617.2,415.3 617.3,415.3 617.5,415.1 617.6,415.6 617.8,415.2 617.9,415.3 618,415.1 618.2,415.3 618.3,415.5 618.5,415.5 618.6,415.3 618.8,415.2 618.9,415.8 619,415.9 619.2,415.8 619.3,416.2 619.5,415.8 619.6,415.4 619.7,415.4 619.9,415.2 620,415.6 620.2,415.6 620.3,415.8 620.4,415.8 620.6,415.6 620.7,415.5 620.9,415.6 621,416.3 621.1,415.6 621.3,415.8 621.4,415.9 621.6,415.7 621.7,415.6 621.9,415.8 622,416 622.1,415.2 622.3,416 622.4,415.7 622.6,415.5 622.7,416"/>
<rect x="129.5" y="65.6" width="493.2" height="366.3" fill="none" stroke="#000" stroke-width="1.45"/>
<path d="M129.5,417.5h7M129.5,345.6h7M129.5,273.7h7M129.5,201.8h7M129.5,129.9h7M129.5,381.6h4M129.5,309.6h4M129.5,237.8h4M129.5,165.8h4M129.5,93.9h4M164.7,431.9v-4M200.0,431.9v-7M235.2,431.9v-4M270.4,431.9v-7M305.6,431.9v-4M340.9,431.9v-7M376.1,431.9v-4M411.3,431.9v-7M446.6,431.9v-4M481.8,431.9v-7M517.0,431.9v-4M552.2,431.9v-7M587.5,431.9v-4" stroke="#000" stroke-width="1.45" fill="none"/>
<text x="121.7" y="421.0" text-anchor="end" class="t">0</text>
<text x="121.7" y="349.1" text-anchor="end" class="t">2000</text>
<text x="121.7" y="277.2" text-anchor="end" class="t">4000</text>
<text x="121.7" y="205.3" text-anchor="end" class="t">6000</text>
<text x="121.7" y="133.4" text-anchor="end" class="t">8000</text>
<clipPath id="clipal"><rect x="0" y="0" width="624.3" height="997"/></clipPath>
<g clip-path="url(#clipal)"><text x="129.5" y="450.8" text-anchor="middle" class="t">10</text><text x="200.0" y="450.8" text-anchor="middle" class="t">20</text><text x="270.4" y="450.8" text-anchor="middle" class="t">30</text><text x="340.9" y="450.8" text-anchor="middle" class="t">40</text><text x="411.3" y="450.8" text-anchor="middle" class="t">50</text><text x="481.8" y="450.8" text-anchor="middle" class="t">60</text><text x="552.2" y="450.8" text-anchor="middle" class="t">70</text><text x="622.7" y="450.8" text-anchor="middle" class="t">80</text></g>
<text x="336.7" y="479.9" class="ax">2Theta/</text>
<circle cx="400.5" cy="468.35" r="1.95" fill="none" stroke="#000" stroke-width="0.85"/>
<text transform="translate(63.0,250.2) rotate(-90)" text-anchor="middle" class="ax">Intensity</text>
<use href="#s_heart" x="507.3" y="84.8"/>
<text x="517.4" y="88.8" class="lg">Periclase,syn</text>
<use href="#s_spade" x="507.3" y="104.4"/>
<text x="517.4" y="108.4" class="lg">Boron Oxide</text>
<use href="#s_spade" x="162.1" y="384.2"/>
<use href="#s_spade" x="255.7" y="380.2"/>
<use href="#s_heart" x="318.8" y="373.0"/>
<use href="#s_heart" x="361.5" y="95.0"/>
<use href="#s_heart" x="497.4" y="278.7"/>
<use href="#s_heart" x="585.3" y="390.2"/>
<use href="#s_heart" x="613.7" y="372.6"/>
<clipPath id="clipb"><rect x="753.3" y="65.6" width="492.6" height="366.4"/></clipPath>
<polyline clip-path="url(#clipb)" fill="none" stroke="#000" stroke-width="1.3" stroke-linejoin="round" points="753.3,340.3 753.4,343.2 753.6,342.8 753.7,350.9 753.9,334.3 754,337 754.1,342.9 754.3,338.7 754.4,340.8 754.6,344.1 754.7,338.3 754.8,343.5 755,343.7 755.1,345.6 755.3,340.9 755.4,343.2 755.6,340.8 755.7,345.5 755.8,342.8 756,346.9 756.1,340.4 756.3,343.1 756.4,342.7 756.5,342.6 756.7,348.2 756.8,341.5 757,336.8 757.1,351.1 757.2,351.6 757.4,350.9 757.5,342.1 757.7,345 757.8,341.6 757.9,343.1 758.1,345.2 758.2,345.1 758.4,347 758.5,343.2 758.6,350.9 758.8,348.4 758.9,346.1 759.1,340.4 759.2,350.2 759.4,351.5 759.5,349.7 759.6,344.1 759.8,348.8 759.9,343.1 760.1,355.2 760.2,344.1 760.3,344.6 760.5,353.9 760.6,348.2 760.8,344.3 760.9,348.7 761,345.4 761.2,340.5 761.3,348.4 761.5,350.5 761.6,352.5 761.7,347.3 761.9,350.6 762,350.6 762.2,350.5 762.3,347.8 762.4,354.2 762.6,356 762.7,359.4 762.9,346.2 763,350.5 763.2,345.3 763.3,351 763.4,353.7 763.6,349.4 763.7,351.5 763.9,355.9 764,354.7 764.1,345.1 764.3,350.4 764.4,350.2 764.6,352.8 764.7,354.4 764.8,348.8 765,352.5 765.1,355 765.3,352.8 765.4,355.7 765.5,351.8 765.7,348.6 765.8,355.7 766,347.7 766.1,355.3 766.2,352.4 766.4,356.1 766.5,353.9 766.7,353.1 766.8,354.9 767,355.9 767.1,355.9 767.2,356.5 767.4,359.3 767.5,354.7 767.7,352.4 767.8,350.7 767.9,351.7 768.1,345.3 768.2,353 768.4,355.8 768.5,347.7 768.6,358.1 768.8,351 768.9,357.9 769.1,353.3 769.2,361.6 769.3,351.5 769.5,355.3 769.6,358.3 769.8,349 769.9,352.3 770,354.9 770.2,357.7 770.3,355.3 770.5,355.8 770.6,352.8 770.8,352.6 770.9,357.8 771,357.4 771.2,357.4 771.3,360.3 771.5,357.8 771.6,356.1 771.7,353.4 771.9,351.3 772,358.7 772.2,354.1 772.3,357.6 772.4,348.9 772.6,356.3 772.7,354.5 772.9,359.5 773,359.1 773.1,355.7 773.3,357.8 773.4,355.3 773.6,361.9 773.7,354.3 773.8,359.7 774,350.7 774.1,357.7 774.3,353 774.4,361.6 774.6,355.4 774.7,360 774.8,358.6 775,356.9 775.1,358.1 775.3,356.1 775.4,354.5 775.5,354.9 775.7,357.5 775.8,361.9 776,360 776.1,357.9 776.2,364.6 776.4,354.7 776.5,358.2 776.7,358.2 776.8,354.1 776.9,355.1 777.1,356.7 777.2,360.9 777.4,356.4 777.5,356.3 777.6,360.6 777.8,354 777.9,355.9 778.1,364.4 778.2,357.2 778.4,362 778.5,353.8 778.6,354.9 778.8,361.5 778.9,360.8 779.1,357.4 779.2,358.6 779.3,352.6 779.5,355.3 779.6,358.8 779.8,355.9 779.9,364.9 780,356.9 780.2,355 780.3,358.6 780.5,360.4 780.6,356.1 780.7,351.3 780.9,357.3 781,361.9 781.2,353.1 781.3,364.5 781.4,356.4 781.6,360.1 781.7,355 781.9,361 782,353.6 782.2,357.2 782.3,364.1 782.4,365 782.6,359.3 782.7,353.8 782.9,357.8 783,358.1 783.1,359.1 783.3,355.8 783.4,357 783.6,357.4 783.7,361.7 783.8,354.3 784,353.7 784.1,362.8 784.3,350.5 784.4,355.9 784.5,360 784.7,364.8 784.8,356.1 785,356.4 785.1,360.3 785.2,364.3 785.4,354.3 785.5,360 785.7,359.5 785.8,348.9 786,350.3 786.1,354 786.2,358.6 786.4,354.3 786.5,363.9 786.7,354.8 786.8,356.8 786.9,357.3 787.1,356.6 787.2,346.7 787.4,345.6 787.5,342.3 787.6,336.5 787.8,340.4 787.9,339.9 788.1,341.3 788.2,336 788.3,333.6 788.5,340.1 788.6,340.3 788.8,350.5 788.9,350.6 789,354.1 789.2,357.8 789.3,348.4 789.5,353.3 789.6,359.9 789.8,360.7 789.9,358.9 790,364 790.2,358.1 790.3,364.2 790.5,361.4 790.6,363.9 790.7,362.3 790.9,365.3 791,366.3 791.2,364.4 791.3,363.6 791.4,362.5 791.6,361.4 791.7,356.8 791.9,359.2 792,362.9 792.1,359.8 792.3,364.5 792.4,357.6 792.6,360.7 792.7,367 792.8,360.2 793,360.1 793.1,371.3 793.3,365.4 793.4,364.6 793.6,369.4 793.7,366.6 793.8,366.3 794,361.7 794.1,362.5 794.3,355.1 794.4,364.8 794.5,359.9 794.7,363.5 794.8,362.9 795,367.6 795.1,370.1 795.2,366.5 795.4,361.6 795.5,359.1 795.7,362.3 795.8,362.7 795.9,367 796.1,359.5 796.2,360.2 796.4,366.2 796.5,364.7 796.6,367.8 796.8,360 796.9,363.5 797.1,365.1 797.2,363.6 797.4,363.5 797.5,366.3 797.6,369 797.8,369.2 797.9,370.7 798.1,363.7 798.2,358.2 798.3,370.7 798.5,364.9 798.6,364.1 798.8,368.5 798.9,364.8 799,369 799.2,361.8 799.3,367.5 799.5,365.3 799.6,363.5 799.7,367 799.9,371.3 800,367.4 800.2,363.3 800.3,366 800.4,365 800.6,369.1 800.7,365.2 800.9,363.3 801,365.4 801.2,359.4 801.3,365.9 801.4,368.4 801.6,370 801.7,360.7 801.9,364.1 802,360 802.1,360.8 802.3,355.8 802.4,355.6 802.6,359.5 802.7,355.5 802.8,350.9 803,357.6 803.1,347.1 803.3,347.9 803.4,349.5 803.5,355.1 803.7,355.1 803.8,361.8 804,359.6 804.1,363.3 804.2,362.4 804.4,365.4 804.5,363.8 804.7,361.6 804.8,370 805,363.5 805.1,372.9 805.2,373.7 805.4,367.6 805.5,367.4 805.7,366.2 805.8,372.8 805.9,368 806.1,367.6 806.2,364.2 806.4,368.5 806.5,366.7 806.6,371.4 806.8,369.1 806.9,369.9 807.1,366.5 807.2,371.7 807.3,371.3 807.5,367.1 807.6,363.5 807.8,367.9 807.9,368.2 808,370.2 808.2,365.9 808.3,367.7 808.5,364.1 808.6,368.4 808.8,372.3 808.9,371.2 809,372.6 809.2,373.4 809.3,365.9 809.5,367.3 809.6,373.5 809.7,364.5 809.9,369.2 810,372.8 810.2,368.8 810.3,370.2 810.4,372.4 810.6,375.9 810.7,370.1 810.9,369.3 811,377.9 811.1,368.6 811.3,368.5 811.4,371.7 811.6,370 811.7,371.2 811.8,372.9 812,371.5 812.1,366.5 812.3,374.8 812.4,369.8 812.6,370 812.7,372.7 812.8,371.9 813,374.7 813.1,373.1 813.3,370.6 813.4,369.7 813.5,373.3 813.7,362.9 813.8,372.3 814,370.3 814.1,371.3 814.2,371.8 814.4,366.8 814.5,372 814.7,366.6 814.8,367.2 814.9,373.7 815.1,367.5 815.2,372.4 815.4,362.7 815.5,371.6 815.6,373.2 815.8,376 815.9,374.2 816.1,372 816.2,373.2 816.4,373.8 816.5,372.1 816.6,370.6 816.8,365.6 816.9,374.9 817.1,371.4 817.2,372.5 817.3,374 817.5,373.2 817.6,371.9 817.8,366.9 817.9,369.5 818,370.3 818.2,366.6 818.3,367.4 818.5,368.6 818.6,366.5 818.7,369.9 818.9,365 819,365.1 819.2,367.4 819.3,369.5 819.4,360.2 819.6,364.1 819.7,355.3 819.9,365 820,359.2 820.2,362.3 820.3,358.8 820.4,355.3 820.6,359.1 820.7,354.5 820.9,350.8 821,347.6 821.1,341.4 821.3,334 821.4,327.6 821.6,321 821.7,312.7 821.8,303.1 822,285 822.1,265.1 822.3,236.7 822.4,221.1 822.5,206.1 822.7,175.2 822.8,174.7 823,172 823.1,174.3 823.2,183.2 823.4,222.1 823.5,234.4 823.7,247.8 823.8,271.2 824,291.7 824.1,305.3 824.2,309 824.4,327.8 824.5,331.2 824.7,337.6 824.8,347.6 824.9,348.3 825.1,354.8 825.2,357.9 825.4,361.8 825.5,356.7 825.6,362.4 825.8,364.2 825.9,367.1 826.1,358.6 826.2,362.9 826.3,366.4 826.5,368.8 826.6,372 826.8,366.9 826.9,367.4 827,373 827.2,365.6 827.3,367.2 827.5,372.7 827.6,371.8 827.8,371.7 827.9,370.2 828,371.3 828.2,376 828.3,367 828.5,370.6 828.6,368 828.7,368.2 828.9,372.6 829,371.2 829.2,370.2 829.3,370.2 829.4,373 829.6,374.4 829.7,372.6 829.9,375.1 830,374.5 830.1,378.8 830.3,372.8 830.4,376.1 830.6,374.8 830.7,373.4 830.8,372.4 831,367.9 831.1,372.8 831.3,377.4 831.4,373 831.6,375.1 831.7,372.3 831.8,375.4 832,375.5 832.1,374.9 832.3,375.2 832.4,378.6 832.5,375.2 832.7,373.3 832.8,369.7 833,373.9 833.1,374 833.2,371.1 833.4,371 833.5,367.7 833.7,370.4 833.8,371.9 833.9,367.5 834.1,366.4 834.2,371.8 834.4,369.1 834.5,373.7 834.6,368.4 834.8,368.4 834.9,364 835.1,362 835.2,357.2 835.4,352.4 835.5,344.6 835.6,339.4 835.8,336.1 835.9,333.2 836.1,317.5 836.2,314.3 836.3,323.3 836.5,321.8 836.6,335.8 836.8,341.8 836.9,342.9 837,342.3 837.2,356.9 837.3,360.5 837.5,355.9 837.6,370.1 837.7,364.2 837.9,366.4 838,369.8 838.2,369.6 838.3,363.2 838.4,374.8 838.6,372.8 838.7,372.9 838.9,374.4 839,376.4 839.2,367.9 839.3,371.8 839.4,377.2 839.6,373.7 839.7,369.9 839.9,369 840,373.5 840.1,368.1 840.3,365.5 840.4,363.6 840.6,362.4 840.7,368.8 840.8,356.7 841,362.6 841.1,358.6 841.3,357.6 841.4,367.9 841.5,372.7 841.7,367.9 841.8,372.3 842,374.1 842.1,376.6 842.2,369.6 842.4,376.1 842.5,379.2 842.7,376.9 842.8,379.1 843,375.7 843.1,377.4 843.2,379.3 843.4,375 843.5,378.5 843.7,374.9 843.8,373.5 843.9,378 844.1,378.9 844.2,376.7 844.4,374.9 844.5,377.3 844.6,377 844.8,377.5 844.9,376.7 845.1,375.9 845.2,379.5 845.3,379 845.5,377.6 845.6,379.6 845.8,377.5 845.9,376.4 846,378 846.2,379.6 846.3,380.1 846.5,373.4 846.6,375.7 846.8,381.1 846.9,380.4 847,373.2 847.2,374.2 847.3,377.9 847.5,375.2 847.6,382.3 847.7,378.4 847.9,376.4 848,383.4 848.2,380.5 848.3,376.4 848.4,375.5 848.6,380.1 848.7,377.8 848.9,374.4 849,379.6 849.1,382.2 849.3,378.9 849.4,379.8 849.6,375.3 849.7,378.4 849.8,380.9 850,372.5 850.1,380.2 850.3,377.6 850.4,377.1 850.6,376.9 850.7,378.5 850.8,377.5 851,379.2 851.1,382.8 851.3,379.6 851.4,379.6 851.5,379.6 851.7,378.8 851.8,380.8 852,375.7 852.1,375.1 852.2,385 852.4,379.2 852.5,381.1 852.7,386.1 852.8,378.2 852.9,381 853.1,380.3 853.2,381.1 853.4,376.6 853.5,376.2 853.6,378.7 853.8,377.6 853.9,379.8 854.1,379.1 854.2,381.4 854.4,379.4 854.5,381.4 854.6,378.6 854.8,377.4 854.9,378.8 855.1,376.5 855.2,372.8 855.3,385 855.5,379.5 855.6,381.1 855.8,380.8 855.9,383.1 856,379.4 856.2,380.2 856.3,381.2 856.5,380.1 856.6,381 856.7,385.5 856.9,376.5 857,380 857.2,381.6 857.3,378.1 857.4,380.4 857.6,384.2 857.7,375.7 857.9,382.2 858,377.8 858.2,376.3 858.3,372.4 858.4,372.2 858.6,374.4 858.7,376.6 858.9,375.3 859,370.9 859.1,369.1 859.3,373 859.4,376.8 859.6,372.7 859.7,377.2 859.8,377.9 860,378.1 860.1,376.3 860.3,377.6 860.4,376.1 860.5,375.6 860.7,377.9 860.8,385.5 861,384 861.1,379.3 861.2,380 861.4,374.3 861.5,380 861.7,380.4 861.8,377.6 862,377.3 862.1,380.6 862.2,378.8 862.4,382.9 862.5,382.4 862.7,376.8 862.8,383.5 862.9,377.4 863.1,377.9 863.2,377.5 863.4,377 863.5,377.6 863.6,384.4 863.8,381 863.9,379.4 864.1,374.7 864.2,379.5 864.3,377.4 864.5,375.4 864.6,369.5 864.8,376.3 864.9,375 865,368.2 865.2,375.9 865.3,368.3 865.5,370.9 865.6,374.9 865.8,372.3 865.9,375.1 866,372.9 866.2,373.5 866.3,371.5 866.5,376.7 866.6,377.2 866.7,379.7 866.9,378.9 867,376.6 867.2,384.7 867.3,378.3 867.4,381.7 867.6,380.3 867.7,379.8 867.9,378.7 868,380.3 868.1,382.1 868.3,380.4 868.4,381.2 868.6,381.8 868.7,380.9 868.8,379.3 869,381.2 869.1,381.2 869.3,384.9 869.4,382 869.6,386.4 869.7,380 869.8,384.1 870,378.6 870.1,375.4 870.3,382.9 870.4,378.6 870.5,380.9 870.7,383.4 870.8,384.1 871,380.6 871.1,378.5 871.2,381.2 871.4,385.8 871.5,384.6 871.7,382.6 871.8,378.7 871.9,381.4 872.1,381.3 872.2,379.1 872.4,382.6 872.5,382.3 872.6,382.5 872.8,386.5 872.9,380.9 873.1,381 873.2,379.6 873.4,385 873.5,384 873.6,379.6 873.8,381.1 873.9,378.5 874.1,384 874.2,381.4 874.3,383.5 874.5,381 874.6,383 874.8,380.4 874.9,378.9 875,379.9 875.2,386.1 875.3,379.1 875.5,380.3 875.6,384 875.7,383.5 875.9,381.1 876,379.6 876.2,382.1 876.3,385 876.4,380 876.6,380.1 876.7,374.1 876.9,383.4 877,373.3 877.2,375 877.3,378.3 877.4,374.2 877.6,377.7 877.7,374.5 877.9,378.2 878,374.9 878.1,376.7 878.3,377 878.4,371.7 878.6,371.4 878.7,366.4 878.8,363.2 879,367 879.1,366.3 879.3,366.3 879.4,372.8 879.5,368 879.7,370 879.8,371.5 880,375.9 880.1,379.5 880.3,375.6 880.4,374.9 880.5,372.8 880.7,373.9 880.8,373.4 881,376.7 881.1,374.7 881.2,378.5 881.4,376.3 881.5,375.4 881.7,370.8 881.8,377 881.9,380.8 882.1,373.3 882.2,378.7 882.4,376.1 882.5,376 882.6,376.6 882.8,368.8 882.9,369 883.1,370.3 883.2,365.2 883.3,363.2 883.5,355.5 883.6,354.4 883.8,351.2 883.9,346.9 884.1,343.5 884.2,339.8 884.3,345.4 884.5,344.4 884.6,345.8 884.8,343.1 884.9,352.9 885,368.8 885.2,365.5 885.3,368.2 885.5,368.6 885.6,367 885.7,371.1 885.9,380.9 886,374.5 886.2,375.8 886.3,375.5 886.4,373.4 886.6,380.3 886.7,374.7 886.9,382.3 887,377.9 887.1,377.2 887.3,372.2 887.4,380.2 887.6,382.9 887.7,376.7 887.9,380.3 888,374.4 888.1,380.5 888.3,380.9 888.4,375.3 888.6,378.3 888.7,375.9 888.8,382.3 889,374.1 889.1,380 889.3,376.2 889.4,380.9 889.5,382.3 889.7,378.8 889.8,377.5 890,373.7 890.1,376.8 890.2,375.7 890.4,375.7 890.5,370.3 890.7,379.3 890.8,373.5 890.9,377.1 891.1,375.7 891.2,377.6 891.4,372.6 891.5,378.9 891.7,378.7 891.8,375.1 891.9,377.2 892.1,371.2 892.2,369.7 892.4,373.5 892.5,367.7 892.6,370.5 892.8,366.6 892.9,363.9 893.1,354.7 893.2,357.2 893.3,356 893.5,351 893.6,337 893.8,342.2 893.9,330.7 894,324.1 894.2,328.5 894.3,315.9 894.5,307.7 894.6,312.2 894.7,320.2 894.9,317.3 895,323.6 895.2,323.4 895.3,341.1 895.5,345.5 895.6,349.2 895.7,354.5 895.9,357.7 896,361.7 896.2,366.3 896.3,371.2 896.4,369.7 896.6,373.5 896.7,373.6 896.9,372.9 897,370.6 897.1,370.1 897.3,376.1 897.4,372.6 897.6,371.5 897.7,374.2 897.8,378.9 898,380.5 898.1,372.4 898.3,372.2 898.4,374.1 898.5,377.9 898.7,371 898.8,371.7 899,375.2 899.1,375.7 899.3,380.6 899.4,373 899.5,379.6 899.7,373.1 899.8,373 900,374.7 900.1,370.4 900.2,375.7 900.4,373 900.5,372.3 900.7,373.7 900.8,375.5 900.9,370.6 901.1,372.8 901.2,374.3 901.4,374 901.5,372.9 901.6,366.5 901.8,372.5 901.9,373.2 902.1,375.2 902.2,375.3 902.3,376.9 902.5,370.2 902.6,370.2 902.8,372.8 902.9,373.6 903.1,369.3 903.2,369.1 903.3,370.6 903.5,364.3 903.6,363.4 903.8,362.4 903.9,357.6 904,359.8 904.2,349.5 904.3,353.9 904.5,342.9 904.6,335.8 904.7,331.2 904.9,318.5 905,314.2 905.2,301.9 905.3,279.7 905.4,266.5 905.6,242.8 905.7,232.9 905.9,220.1 906,218.7 906.1,221.7 906.3,229.3 906.4,242.8 906.6,256.6 906.7,257.2 906.9,293.3 907,299.1 907.1,306.3 907.3,320.2 907.4,325.4 907.6,336.7 907.7,349.8 907.8,351 908,358.6 908.1,353.2 908.3,354.1 908.4,362.3 908.5,360.6 908.7,365 908.8,369.3 909,366.9 909.1,371.2 909.2,368.6 909.4,366.7 909.5,365.6 909.7,364.3 909.8,369.6 909.9,368.1 910.1,367.8 910.2,367.6 910.4,377.2 910.5,372 910.7,367.3 910.8,373.2 910.9,369.1 911.1,367.4 911.2,375.6 911.4,370.4 911.5,369.1 911.6,369.7 911.8,374.3 911.9,368.5 912.1,371.1 912.2,366.7 912.3,367.7 912.5,370.4 912.6,367.9 912.8,370.2 912.9,369.9 913,372.1 913.2,367.4 913.3,363.4 913.5,364.6 913.6,364 913.7,364.6 913.9,362.6 914,356.3 914.2,361.6 914.3,346.1 914.5,350.3 914.6,337.9 914.7,337.2 914.9,338.9 915,329.4 915.2,327 915.3,322.5 915.4,318.4 915.6,323.4 915.7,324.1 915.9,324.8 916,331.6 916.1,330.2 916.3,332.2 916.4,336.4 916.6,340.8 916.7,347 916.8,346.1 917,359.5 917.1,356.1 917.3,358 917.4,355.5 917.5,357.7 917.7,358.4 917.8,361.9 918,359.5 918.1,366.3 918.3,363.2 918.4,370.5 918.5,358.3 918.7,358.8 918.8,365.9 919,366.7 919.1,370.6 919.2,368.7 919.4,363.1 919.5,363.8 919.7,367.9 919.8,364.4 919.9,364.6 920.1,360.4 920.2,359.1 920.4,361.7 920.5,359.9 920.6,359.5 920.8,365.7 920.9,356.9 921.1,356.4 921.2,352 921.3,359.4 921.5,347.8 921.6,350.4 921.8,344 921.9,336.9 922.1,344 922.2,339.7 922.3,326.3 922.5,332.3 922.6,329.1 922.8,320.7 922.9,323.7 923,319.6 923.2,322.6 923.3,325.4 923.5,322.6 923.6,319 923.7,330.3 923.9,324.7 924,326.9 924.2,331.3 924.3,329.4 924.4,334.4 924.6,331.6 924.7,325.7 924.9,324.5 925,315.1 925.1,322.9 925.3,313.4 925.4,309.1 925.6,299.4 925.7,283.4 925.9,285.1 926,260.2 926.1,252.6 926.3,232.2 926.4,201.7 926.6,187 926.7,156.3 926.8,139.6 927,126.8 927.1,120.6 927.3,130.9 927.4,127 927.5,127.6 927.7,138.3 927.8,164.3 928,158.9 928.1,174.8 928.2,199 928.4,205.4 928.5,200.9 928.7,220.6 928.8,216.4 928.9,213.3 929.1,214.5 929.2,214.3 929.4,211.2 929.5,219.1 929.7,217.1 929.8,200.4 929.9,224.2 930.1,218.9 930.2,216.6 930.4,223.6 930.5,213.7 930.6,223.9 930.8,222.4 930.9,246.4 931.1,226 931.2,229.3 931.3,244.2 931.5,234.2 931.6,243.6 931.8,243 931.9,242.1 932,257.6 932.2,269.7 932.3,269.8 932.5,282.8 932.6,286.2 932.7,292 932.9,297.5 933,293.5 933.2,300.3 933.3,313.3 933.5,307.9 933.6,324.8 933.7,323.6 933.9,324.6 934,321.9 934.2,326.8 934.3,330.7 934.4,329.7 934.6,334.5 934.7,334.2 934.9,344.8 935,350.1 935.1,346.9 935.3,343.8 935.4,347.6 935.6,346.7 935.7,348.7 935.8,350.7 936,350.8 936.1,357.3 936.3,351.9 936.4,360.2 936.5,358 936.7,363.2 936.8,357.4 937,365.1 937.1,355.8 937.3,365.6 937.4,360.9 937.5,362.7 937.7,365.7 937.8,359.2 938,365.1 938.1,359.5 938.2,367.9 938.4,367.5 938.5,371.7 938.7,363.9 938.8,363.1 938.9,365.6 939.1,367.1 939.2,369.7 939.4,359.8 939.5,365 939.6,373.2 939.8,368.6 939.9,375.6 940.1,363 940.2,361.8 940.3,363.4 940.5,368 940.6,369.5 940.8,371.7 940.9,365.2 941.1,368.5 941.2,366.3 941.3,365.8 941.5,363 941.6,356.6 941.8,351.1 941.9,353.3 942,350.5 942.2,351.7 942.3,349.9 942.5,348.3 942.6,340.9 942.7,344.6 942.9,343.7 943,348.2 943.2,354.1 943.3,360.2 943.4,360.3 943.6,366.8 943.7,358.3 943.9,366.1 944,369.9 944.1,364.3 944.3,372.6 944.4,370.8 944.6,373.7 944.7,372.9 944.9,375.5 945,373.5 945.1,371.3 945.3,379.2 945.4,382.2 945.6,372.6 945.7,376.2 945.8,374.5 946,377.9 946.1,373.2 946.3,372.7 946.4,381 946.5,376.2 946.7,379.9 946.8,382.7 947,379.4 947.1,377.3 947.2,382.6 947.4,382.6 947.5,376.1 947.7,379.4 947.8,378.6 947.9,382.8 948.1,381.7 948.2,379.8 948.4,379.8 948.5,380.1 948.7,376.5 948.8,380.3 948.9,384.9 949.1,383.3 949.2,381.4 949.4,378.1 949.5,383.2 949.6,382.6 949.8,381.8 949.9,383.6 950.1,384.1 950.2,382.7 950.3,379.7 950.5,381.1 950.6,383.1 950.8,381.5 950.9,385.8 951,380.2 951.2,380.9 951.3,382.1 951.5,387 951.6,378 951.7,389.1 951.9,385.6 952,385.5 952.2,381.5 952.3,387 952.5,382.8 952.6,383.8 952.7,384.2 952.9,381.4 953,380.1 953.2,382.6 953.3,384.3 953.4,389.3 953.6,380.1 953.7,384.5 953.9,388.3 954,383.4 954.1,380.2 954.3,384.1 954.4,386.7 954.6,378.3 954.7,382.3 954.8,383 955,381.3 955.1,389.1 955.3,384 955.4,384.2 955.5,378.2 955.7,385.2 955.8,385.1 956,387.2 956.1,385.8 956.3,384.2 956.4,383.1 956.5,384.2 956.7,378.8 956.8,382.4 957,382.1 957.1,380.2 957.2,382 957.4,384.8 957.5,387.3 957.7,382.5 957.8,385.4 957.9,380 958.1,385 958.2,388.5 958.4,382.7 958.5,379.9 958.6,382.9 958.8,381.6 958.9,381.2 959.1,376.7 959.2,379.8 959.3,380 959.5,380.8 959.6,382.8 959.8,373.6 959.9,373.5 960.1,378.7 960.2,373.8 960.3,374.4 960.5,376.5 960.6,376.5 960.8,374 960.9,380 961,378.8 961.2,378.3 961.3,378.8 961.5,380.1 961.6,379.6 961.7,379.4 961.9,383.6 962,381.5 962.2,383.4 962.3,378.5 962.4,386 962.6,383.3 962.7,381 962.9,383.6 963,383.8 963.1,384.4 963.3,382.3 963.4,386 963.6,383.3 963.7,383.3 963.9,386.7 964,382.4 964.1,384.2 964.3,382.3 964.4,380.8 964.6,382.1 964.7,385.8 964.8,382 965,386.8 965.1,384.6 965.3,378.5 965.4,382.6 965.5,378.6 965.7,382.8 965.8,382.2 966,384.9 966.1,379.6 966.2,382.3 966.4,380 966.5,380.2 966.7,379.6 966.8,379.8 966.9,380.3 967.1,379.6 967.2,380.8 967.4,383.8 967.5,375.8 967.7,370.3 967.8,371.8 967.9,366.8 968.1,370.9 968.2,374 968.4,373.2 968.5,367.5 968.6,368.5 968.8,370.3 968.9,367.9 969.1,373.4 969.2,370.1 969.3,373.4 969.5,373.1 969.6,371.2 969.8,375.9 969.9,372.5 970,373.4 970.2,379.7 970.3,371.8 970.5,381.7 970.6,379 970.7,377 970.9,385.1 971,376.4 971.2,376.2 971.3,379.5 971.5,378.5 971.6,378.6 971.7,379.7 971.9,376.2 972,380 972.2,379 972.3,377.8 972.4,376.4 972.6,375.6 972.7,382.3 972.9,383.7 973,378.4 973.1,378 973.3,380.6 973.4,376.6 973.6,375.5 973.7,375.9 973.8,372.2 974,379.3 974.1,376.1 974.3,370.5 974.4,373.6 974.5,378.4 974.7,374.3 974.8,371.1 975,368 975.1,371.7 975.3,369.7 975.4,375.9 975.5,372.8 975.7,367.9 975.8,373.8 976,370.5 976.1,375.3 976.2,364.3 976.4,368.6 976.5,365.6 976.7,371.3 976.8,369.9 976.9,358.9 977.1,364.9 977.2,364.6 977.4,360.1 977.5,358.8 977.6,366.3 977.8,361.8 977.9,357 978.1,355.9 978.2,353.4 978.3,354.9 978.5,353.1 978.6,349.9 978.8,351.9 978.9,351.1 979.1,348.6 979.2,345.1 979.3,344.3 979.5,344.3 979.6,342.1 979.8,340 979.9,337.3 980,335.9 980.2,341.6 980.3,331.3 980.5,341.1 980.6,331.2 980.7,335.8 980.9,329.6 981,327 981.2,339 981.3,327.9 981.4,328.8 981.6,331.5 981.7,327.4 981.9,330.6 982,327.3 982.1,331.6 982.3,322.4 982.4,321.8 982.6,319.2 982.7,322.9 982.9,308 983,302.5 983.1,306.4 983.3,300.3 983.4,290.5 983.6,272.2 983.7,254.9 983.8,247.6 984,235.5 984.1,195.6 984.3,174.2 984.4,147.9 984.5,123.1 984.7,120.2 984.8,101.6 985,103.8 985.1,104 985.2,108 985.4,132.9 985.5,157.6 985.7,162.5 985.8,189.5 985.9,219 986.1,251.2 986.2,265.4 986.4,277.4 986.5,290.8 986.7,309.2 986.8,315.4 986.9,329.1 987.1,335.4 987.2,337.3 987.4,345.3 987.5,347.7 987.6,348.3 987.8,350.1 987.9,358.5 988.1,359.3 988.2,364.6 988.3,365.9 988.5,361.9 988.6,365.7 988.8,371 988.9,364.4 989,369.5 989.2,368.6 989.3,367 989.5,367.7 989.6,369.7 989.7,376 989.9,368.8 990,372.7 990.2,375.5 990.3,378.2 990.5,368.1 990.6,371.9 990.7,372.3 990.9,371.1 991,373.3 991.2,377.5 991.3,371.5 991.4,370.7 991.6,372.3 991.7,369.5 991.9,368.5 992,376.3 992.1,375.3 992.3,371.5 992.4,373.5 992.6,373.3 992.7,371.1 992.8,371.5 993,374.7 993.1,372.9 993.3,375 993.4,373.2 993.5,375.6 993.7,377.8 993.8,373.3 994,373.4 994.1,369 994.3,367 994.4,371.7 994.5,370.5 994.7,374 994.8,375 995,373.4 995.1,373.7 995.2,372.3 995.4,373.1 995.5,368.9 995.7,374.4 995.8,378.7 995.9,373.7 996.1,376 996.2,373.6 996.4,370.9 996.5,375.9 996.6,374.2 996.8,372.4 996.9,376.4 997.1,372.9 997.2,371.7 997.3,370.6 997.5,369.4 997.6,370.6 997.8,370.7 997.9,375.4 998.1,378.4 998.2,372.9 998.3,365 998.5,368 998.6,374.2 998.8,367.1 998.9,363 999,368.1 999.2,357.5 999.3,360.1 999.5,348.3 999.6,346.9 999.7,330.5 999.9,339 1000,323.4 1000.2,321.5 1000.3,297.8 1000.4,290.9 1000.6,274.9 1000.7,268.9 1000.9,268.4 1001,261.1 1001.1,263.9 1001.3,265.1 1001.4,262.6 1001.6,263.5 1001.7,272.3 1001.9,283 1002,298.4 1002.1,303.2 1002.3,319.6 1002.4,324 1002.6,329.6 1002.7,341 1002.8,348.1 1003,352.9 1003.1,353.4 1003.3,359.9 1003.4,366.3 1003.5,365.1 1003.7,369 1003.8,362.4 1004,368.2 1004.1,373.7 1004.2,369.3 1004.4,368.7 1004.5,370.3 1004.7,373 1004.8,372 1004.9,372 1005.1,370.3 1005.2,372.5 1005.4,367.4 1005.5,374.6 1005.7,370 1005.8,374.4 1005.9,379.4 1006.1,378.1 1006.2,380 1006.4,379.8 1006.5,371.8 1006.6,377 1006.8,373.6 1006.9,377.8 1007.1,375.3 1007.2,378.2 1007.3,372.9 1007.5,376 1007.6,376.4 1007.8,375.6 1007.9,368.9 1008,373.6 1008.2,372.3 1008.3,377.9 1008.5,375.9 1008.6,372.8 1008.7,378.5 1008.9,368.7 1009,370.9 1009.2,370.7 1009.3,369.9 1009.5,368.4 1009.6,367.3 1009.7,358.8 1009.9,358.3 1010,353.1 1010.2,355 1010.3,353.6 1010.4,342 1010.6,349 1010.7,344.9 1010.9,339.1 1011,337.9 1011.1,348.3 1011.3,345.8 1011.4,346.6 1011.6,349.5 1011.7,354.8 1011.8,352.2 1012,359.3 1012.1,361.1 1012.3,370.2 1012.4,365.6 1012.5,373.1 1012.7,366.6 1012.8,368.6 1013,372.5 1013.1,371.3 1013.3,372 1013.4,373.1 1013.5,371.8 1013.7,373.2 1013.8,374 1014,374.5 1014.1,366.7 1014.2,370.1 1014.4,369.6 1014.5,366 1014.7,367.8 1014.8,365.9 1014.9,360.6 1015.1,357.4 1015.2,356.8 1015.4,362.8 1015.5,356.9 1015.6,357.2 1015.8,356 1015.9,361.4 1016.1,363 1016.2,361.2 1016.3,365.2 1016.5,367.4 1016.6,366 1016.8,364.7 1016.9,368.8 1017.1,367.5 1017.2,374.9 1017.3,371.2 1017.5,374.2 1017.6,377.4 1017.8,376.7 1017.9,378.4 1018,377.1 1018.2,378.8 1018.3,373.7 1018.5,378.2 1018.6,381.2 1018.7,378.1 1018.9,376.6 1019,378.6 1019.2,375.5 1019.3,380.2 1019.4,380.1 1019.6,373.5 1019.7,377.8 1019.9,376.3 1020,376.3 1020.1,376 1020.3,377.3 1020.4,377.7 1020.6,374.1 1020.7,378 1020.9,376 1021,374 1021.1,376.3 1021.3,378.8 1021.4,372.3 1021.6,369.2 1021.7,370.1 1021.8,374 1022,364.8 1022.1,357.9 1022.3,366.1 1022.4,366.5 1022.5,354.9 1022.7,350.2 1022.8,344.5 1023,341.9 1023.1,343.4 1023.2,341.6 1023.4,343.2 1023.5,345.4 1023.7,347.8 1023.8,350.3 1023.9,349.7 1024.1,353.6 1024.2,359.4 1024.4,357.5 1024.5,366.2 1024.7,367.3 1024.8,368.5 1024.9,376.4 1025.1,373.6 1025.2,371.6 1025.4,372.9 1025.5,379.2 1025.6,379 1025.8,380.2 1025.9,378.4 1026.1,378.4 1026.2,382.6 1026.3,378 1026.5,378.8 1026.6,379.3 1026.8,381 1026.9,379.8 1027,383.9 1027.2,378.8 1027.3,378.9 1027.5,379.6 1027.6,382.3 1027.7,375.9 1027.9,376 1028,383.5 1028.2,377.4 1028.3,377.7 1028.5,384.4 1028.6,375.9 1028.7,375 1028.9,374.3 1029,375.1 1029.2,376.6 1029.3,375.4 1029.4,371.7 1029.6,368.9 1029.7,372.6 1029.9,370.9 1030,367 1030.1,374.4 1030.3,365.6 1030.4,366.7 1030.6,371.9 1030.7,362 1030.8,366.7 1031,361 1031.1,359 1031.3,367.4 1031.4,367.5 1031.5,364.3 1031.7,370.3 1031.8,363.5 1032,366.1 1032.1,364.7 1032.3,374.2 1032.4,369.3 1032.5,369.8 1032.7,377.3 1032.8,370.9 1033,378.2 1033.1,375 1033.2,379.9 1033.4,375.2 1033.5,373.7 1033.7,378.7 1033.8,379.5 1033.9,376.9 1034.1,381.9 1034.2,381.1 1034.4,379.7 1034.5,381.1 1034.6,378.7 1034.8,380 1034.9,378.6 1035.1,383.4 1035.2,381 1035.3,385.7 1035.5,381.9 1035.6,380.1 1035.8,378.9 1035.9,387.4 1036.1,385.1 1036.2,383.2 1036.3,386.9 1036.5,383.8 1036.6,383.9 1036.8,386.3 1036.9,386.6 1037,387.5 1037.2,384.8 1037.3,382.7 1037.5,385 1037.6,380 1037.7,389.1 1037.9,387.2 1038,384.4 1038.2,388.5 1038.3,385.3 1038.4,384.3 1038.6,385.7 1038.7,386.7 1038.9,384.1 1039,385.3 1039.1,384.6 1039.3,385 1039.4,387.7 1039.6,388.7 1039.7,387.1 1039.9,385.8 1040,386.6 1040.1,384 1040.3,385.5 1040.4,383.8 1040.6,385.6 1040.7,387.3 1040.8,383.6 1041,384.1 1041.1,386.9 1041.3,385.5 1041.4,378.2 1041.5,390.1 1041.7,380.4 1041.8,382.2 1042,381.8 1042.1,381.4 1042.2,381 1042.4,372.5 1042.5,378.7 1042.7,377.2 1042.8,373.2 1042.9,373.3 1043.1,374.1 1043.2,373.9 1043.4,376.6 1043.5,369.8 1043.7,376.1 1043.8,380.4 1043.9,371.3 1044.1,372.9 1044.2,375 1044.4,378.3 1044.5,374.8 1044.6,381.9 1044.8,385.7 1044.9,380.8 1045.1,380.2 1045.2,381.6 1045.3,379 1045.5,382.7 1045.6,385.8 1045.8,386.3 1045.9,384.3 1046,386.9 1046.2,387.4 1046.3,391.4 1046.5,388.4 1046.6,390.8 1046.7,387.7 1046.9,388.1 1047,387 1047.2,384.9 1047.3,389.2 1047.5,385.9 1047.6,391.5 1047.7,388.9 1047.9,387.3 1048,385.3 1048.2,391.8 1048.3,390.1 1048.4,389.4 1048.6,389.9 1048.7,391.8 1048.9,393.3 1049,392.5 1049.1,390.2 1049.3,392.8 1049.4,386.5 1049.6,387.6 1049.7,394.2 1049.8,391.3 1050,387.6 1050.1,387.4 1050.3,388.1 1050.4,393.4 1050.5,391.3 1050.7,388 1050.8,390.4 1051,391.6 1051.1,389.6 1051.3,388.7 1051.4,390.4 1051.5,390.2 1051.7,388.6 1051.8,391.9 1052,392.7 1052.1,389.2 1052.2,393.3 1052.4,389.8 1052.5,392.3 1052.7,389.1 1052.8,393.2 1052.9,388.5 1053.1,390.2 1053.2,391.4 1053.4,392.5 1053.5,391 1053.6,392.6 1053.8,393.1 1053.9,388.4 1054.1,389.4 1054.2,388 1054.3,393.3 1054.5,394.4 1054.6,393.6 1054.8,389 1054.9,388.6 1055.1,394 1055.2,387.9 1055.3,390.9 1055.5,392.3 1055.6,389.9 1055.8,388.4 1055.9,389.9 1056,389.6 1056.2,390.9 1056.3,391.9 1056.5,389.4 1056.6,391.9 1056.7,386.7 1056.9,389.6 1057,384.4 1057.2,390.4 1057.3,383 1057.4,387.6 1057.6,386.9 1057.7,383.2 1057.9,380.6 1058,381.7 1058.1,381.1 1058.3,373.3 1058.4,375.4 1058.6,378.2 1058.7,373.5 1058.9,365.6 1059,367.4 1059.1,363.7 1059.3,357.9 1059.4,364.8 1059.6,360.5 1059.7,363.4 1059.8,361.1 1060,359.7 1060.1,366.5 1060.3,362.7 1060.4,363.9 1060.5,362.6 1060.7,369.4 1060.8,373.2 1061,370.1 1061.1,376.4 1061.2,374.5 1061.4,375.2 1061.5,380.7 1061.7,380.1 1061.8,383.7 1061.9,388.7 1062.1,386.8 1062.2,389.1 1062.4,384.8 1062.5,387.9 1062.7,386.3 1062.8,386.6 1062.9,384.4 1063.1,387.9 1063.2,388.3 1063.4,386.6 1063.5,384.3 1063.6,388.3 1063.8,387.5 1063.9,388.8 1064.1,390 1064.2,392 1064.3,388.9 1064.5,389.4 1064.6,389.5 1064.8,384.7 1064.9,389.8 1065,388.4 1065.2,390 1065.3,386.8 1065.5,390 1065.6,385.4 1065.7,390 1065.9,387.8 1066,387.4 1066.2,390.1 1066.3,387.8 1066.5,389.5 1066.6,391.3 1066.7,391.2 1066.9,389.1 1067,386.1 1067.2,390.9 1067.3,388.7 1067.4,391.6 1067.6,389.4 1067.7,392.7 1067.9,391.6 1068,390 1068.1,391.6 1068.3,390.6 1068.4,388 1068.6,390.4 1068.7,391.6 1068.8,392.7 1069,391.3 1069.1,387.8 1069.3,390.4 1069.4,390.5 1069.5,388.7 1069.7,388.5 1069.8,388.2 1070,391 1070.1,392.2 1070.3,393.7 1070.4,391.7 1070.5,391.1 1070.7,388.8 1070.8,389.6 1071,391.5 1071.1,388.5 1071.2,392.9 1071.4,392.5 1071.5,392.8 1071.7,392.6 1071.8,390.9 1071.9,392.1 1072.1,391.9 1072.2,387.5 1072.4,393.4 1072.5,392.5 1072.6,390.8 1072.8,389.4 1072.9,389.3 1073.1,390.8 1073.2,391 1073.3,390.8 1073.5,388.7 1073.6,392.2 1073.8,395.1 1073.9,389.8 1074.1,392.6 1074.2,390.3 1074.3,387.3 1074.5,389.9 1074.6,386.3 1074.8,393.4 1074.9,389.6 1075,389.3 1075.2,388.3 1075.3,391.6 1075.5,389.7 1075.6,389.7 1075.7,389.8 1075.9,392.8 1076,393.5 1076.2,388.8 1076.3,389.1 1076.4,389.8 1076.6,388.5 1076.7,387.5 1076.9,392.2 1077,388.1 1077.1,386.6 1077.3,387.5 1077.4,388.4 1077.6,388.1 1077.7,392.6 1077.9,390.6 1078,387.4 1078.1,386.4 1078.3,388.5 1078.4,390.4 1078.6,389.7 1078.7,387.6 1078.8,385.1 1079,387.6 1079.1,390.4 1079.3,387.9 1079.4,388.3 1079.5,384.1 1079.7,387.9 1079.8,389 1080,389.2 1080.1,391.6 1080.2,391.2 1080.4,390 1080.5,390.6 1080.7,388.5 1080.8,388.6 1080.9,386.8 1081.1,385.5 1081.2,388.4 1081.4,389.1 1081.5,392.6 1081.7,387.7 1081.8,387.1 1081.9,390.1 1082.1,389.2 1082.2,389.8 1082.4,385.9 1082.5,386.8 1082.6,385.5 1082.8,390.7 1082.9,382.4 1083.1,389.7 1083.2,390 1083.3,387.3 1083.5,388.8 1083.6,383.4 1083.8,388.2 1083.9,388.7 1084,384.8 1084.2,384.1 1084.3,388.5 1084.5,387.4 1084.6,386.9 1084.7,386.2 1084.9,381.5 1085,382.1 1085.2,382.1 1085.3,381.1 1085.5,383.5 1085.6,380.8 1085.7,382.5 1085.9,383.4 1086,376.5 1086.2,384.5 1086.3,379 1086.4,379.7 1086.6,381.8 1086.7,377.4 1086.9,375.4 1087,373.6 1087.1,376.6 1087.3,371.7 1087.4,372.7 1087.6,371.2 1087.7,379 1087.8,375 1088,375.8 1088.1,372.9 1088.3,377.1 1088.4,377.1 1088.5,379.5 1088.7,380.3 1088.8,380.4 1089,376.1 1089.1,382.2 1089.3,386.4 1089.4,380.1 1089.5,382.7 1089.7,380.8 1089.8,381.4 1090,384 1090.1,384.7 1090.2,385.4 1090.4,384.4 1090.5,386.6 1090.7,384.5 1090.8,382 1090.9,387 1091.1,387 1091.2,387.2 1091.4,384.4 1091.5,384.4 1091.6,382.7 1091.8,384.4 1091.9,385.8 1092.1,385.1 1092.2,389.2 1092.3,384.9 1092.5,385.8 1092.6,381.4 1092.8,383 1092.9,388 1093.1,387.4 1093.2,384.1 1093.3,390.8 1093.5,388.1 1093.6,385.1 1093.8,384.4 1093.9,385.4 1094,383.1 1094.2,386.3 1094.3,385.4 1094.5,385.9 1094.6,387.9 1094.7,385.1 1094.9,386.4 1095,384.8 1095.2,390.9 1095.3,384.3 1095.4,385.7 1095.6,385.6 1095.7,383.8 1095.9,384.7 1096,380.9 1096.1,379.7 1096.3,380.1 1096.4,379.2 1096.6,380 1096.7,380 1096.9,382.3 1097,378.7 1097.1,372.9 1097.3,372.2 1097.4,373.6 1097.6,369.4 1097.7,363.6 1097.8,364.2 1098,354.8 1098.1,359.2 1098.3,350 1098.4,346.7 1098.5,345.6 1098.7,342.9 1098.8,340.7 1099,351.3 1099.1,341.2 1099.2,339.8 1099.4,344.1 1099.5,343.1 1099.7,353.6 1099.8,351.7 1099.9,352.7 1100.1,357.5 1100.2,355.5 1100.4,360.8 1100.5,366.8 1100.7,365.4 1100.8,367.9 1100.9,373.7 1101.1,372.6 1101.2,374.9 1101.4,376.3 1101.5,381.7 1101.6,376.1 1101.8,378.5 1101.9,380.9 1102.1,380.5 1102.2,381 1102.3,383 1102.5,384 1102.6,382.6 1102.8,384.5 1102.9,384.4 1103,386.2 1103.2,384.2 1103.3,381.2 1103.5,383.2 1103.6,383.7 1103.7,384.6 1103.9,385 1104,387.6 1104.2,380.1 1104.3,385.8 1104.5,387.6 1104.6,383.1 1104.7,383.4 1104.9,385.3 1105,387.5 1105.2,387.3 1105.3,380.2 1105.4,384.1 1105.6,385.4 1105.7,379.2 1105.9,384.9 1106,385.7 1106.1,382 1106.3,382.2 1106.4,379 1106.6,386.4 1106.7,381.5 1106.8,386 1107,380.1 1107.1,382.4 1107.3,381.1 1107.4,381 1107.5,375.8 1107.7,372.5 1107.8,375.8 1108,374.8 1108.1,373.9 1108.3,369.3 1108.4,372.3 1108.5,359.7 1108.7,367.2 1108.8,360.3 1109,364.8 1109.1,369.6 1109.2,370.5 1109.4,367.3 1109.5,368.8 1109.7,368 1109.8,371.4 1109.9,361.5 1110.1,363 1110.2,375.8 1110.4,369.9 1110.5,368.7 1110.6,374 1110.8,374.3 1110.9,370.9 1111.1,372.7 1111.2,377.5 1111.3,370.2 1111.5,374.4 1111.6,366.5 1111.8,373.3 1111.9,375.6 1112.1,366.1 1112.2,359.8 1112.3,359 1112.5,356.8 1112.6,357 1112.8,346.6 1112.9,353.6 1113,340.5 1113.2,346.2 1113.3,342.6 1113.5,345.4 1113.6,344.4 1113.7,336.1 1113.9,348.1 1114,344.5 1114.2,350.2 1114.3,345.3 1114.4,356.5 1114.6,354.1 1114.7,353.7 1114.9,352.1 1115,366.6 1115.1,368.2 1115.3,368 1115.4,365.6 1115.6,375 1115.7,371.3 1115.9,376.8 1116,379.1 1116.1,381.5 1116.3,377.5 1116.4,375.8 1116.6,379.2 1116.7,384.9 1116.8,381 1117,377.1 1117.1,377.4 1117.3,379 1117.4,375.8 1117.5,382.9 1117.7,382.6 1117.8,372.7 1118,377 1118.1,378.9 1118.2,379.2 1118.4,384.2 1118.5,374.4 1118.7,381.7 1118.8,380.6 1118.9,374.2 1119.1,368.4 1119.2,372.6 1119.4,368.6 1119.5,369.1 1119.7,364.2 1119.8,368.2 1119.9,352 1120.1,358.7 1120.2,348.2 1120.4,352.5 1120.5,330.1 1120.6,327.1 1120.8,310 1120.9,311.4 1121.1,290.8 1121.2,285.3 1121.3,274.2 1121.5,259.3 1121.6,269.3 1121.8,261.1 1121.9,258.6 1122,265.6 1122.2,275.1 1122.3,283.9 1122.5,294.9 1122.6,286.2 1122.7,302.2 1122.9,299 1123,314.2 1123.2,321 1123.3,329.4 1123.5,334.7 1123.6,346 1123.7,349.6 1123.9,357.3 1124,357.9 1124.2,362.5 1124.3,365.1 1124.4,371.7 1124.6,370.3 1124.7,373 1124.9,373.1 1125,376 1125.1,380 1125.3,376.5 1125.4,381.2 1125.6,379.5 1125.7,386.3 1125.8,380.3 1126,380.6 1126.1,385.1 1126.3,381.8 1126.4,384.6 1126.6,380.8 1126.7,382.9 1126.8,387.9 1127,385.7 1127.1,389.7 1127.3,386.5 1127.4,384.7 1127.5,384.3 1127.7,386.7 1127.8,387.2 1128,386.5 1128.1,388.5 1128.2,386.5 1128.4,384.9 1128.5,387.1 1128.7,385.8 1128.8,389.6 1128.9,389.1 1129.1,387.4 1129.2,383.8 1129.4,386.1 1129.5,384.7 1129.6,388.5 1129.8,386 1129.9,392.5 1130.1,387.7 1130.2,393.5 1130.4,386.4 1130.5,388.1 1130.6,386.7 1130.8,388.4 1130.9,390.5 1131.1,391.1 1131.2,389.1 1131.3,386.4 1131.5,388.3 1131.6,390.9 1131.8,391 1131.9,391.4 1132,390.4 1132.2,390.2 1132.3,391.1 1132.5,390.1 1132.6,393.5 1132.7,387 1132.9,389.8 1133,387.2 1133.2,389.8 1133.3,390.9 1133.4,390.3 1133.6,390.1 1133.7,392 1133.9,391.5 1134,386.8 1134.2,388.8 1134.3,391.9 1134.4,389.8 1134.6,392.6 1134.7,388.1 1134.9,393.1 1135,389.2 1135.1,391 1135.3,391 1135.4,392.8 1135.6,391.7 1135.7,392.8 1135.8,393 1136,390.3 1136.1,386.2 1136.3,392 1136.4,389.3 1136.5,391.4 1136.7,392.9 1136.8,388.7 1137,390.2 1137.1,389.2 1137.2,391.3 1137.4,391.2 1137.5,393.2 1137.7,392.1 1137.8,388.2 1138,396.2 1138.1,390.9 1138.2,388.7 1138.4,390.1 1138.5,389.9 1138.7,392.2 1138.8,389.4 1138.9,389.4 1139.1,391.8 1139.2,388.4 1139.4,392.7 1139.5,396.7 1139.6,391.8 1139.8,392 1139.9,393.4 1140.1,392.7 1140.2,392.8 1140.3,395.4 1140.5,389.3 1140.6,391.8 1140.8,386.7 1140.9,391.8 1141,391 1141.2,394.8 1141.3,389.8 1141.5,394 1141.6,390.7 1141.8,389.9 1141.9,390.3 1142,393.5 1142.2,393.4 1142.3,390.3 1142.5,389.4 1142.6,388.9 1142.7,391.9 1142.9,392 1143,388.2 1143.2,393 1143.3,390.3 1143.4,392.4 1143.6,394.6 1143.7,394 1143.9,390.9 1144,391.4 1144.1,390.8 1144.3,392.5 1144.4,392.8 1144.6,391.2 1144.7,392.1 1144.8,395 1145,392.6 1145.1,388.4 1145.3,393.3 1145.4,390.6 1145.6,391.9 1145.7,390.2 1145.8,393.4 1146,394.2 1146.1,390.7 1146.3,393 1146.4,391.6 1146.5,392.1 1146.7,389.5 1146.8,390.9 1147,391.1 1147.1,393.2 1147.2,394.4 1147.4,392.8 1147.5,389.3 1147.7,389.4 1147.8,389.5 1147.9,391.4 1148.1,392.5 1148.2,387.9 1148.4,389.7 1148.5,388.8 1148.6,391.7 1148.8,390.9 1148.9,387.9 1149.1,387.5 1149.2,391.1 1149.4,388.2 1149.5,391.3 1149.6,386.1 1149.8,387.2 1149.9,383.8 1150.1,385.5 1150.2,390.2 1150.3,388.5 1150.5,390 1150.6,388.8 1150.8,387.6 1150.9,389.4 1151,389.4 1151.2,392.5 1151.3,388.7 1151.5,390.1 1151.6,389 1151.7,388.3 1151.9,390.5 1152,389.3 1152.2,392.1 1152.3,389 1152.4,391.1 1152.6,392.4 1152.7,391.7 1152.9,394.2 1153,392.7 1153.2,392.3 1153.3,391.5 1153.4,391.7 1153.6,392.9 1153.7,392 1153.9,395.9 1154,391.5 1154.1,390.6 1154.3,390.2 1154.4,389.6 1154.6,392.2 1154.7,392 1154.8,392.8 1155,392.8 1155.1,391.6 1155.3,389.2 1155.4,395.2 1155.5,392.9 1155.7,391.4 1155.8,393.9 1156,391.1 1156.1,394.6 1156.2,392.6 1156.4,395.2 1156.5,391.4 1156.7,393.5 1156.8,390.7 1157,392.6 1157.1,393.9 1157.2,392.8 1157.4,391.7 1157.5,392 1157.7,392.5 1157.8,392.7 1157.9,392 1158.1,390.3 1158.2,393.1 1158.4,391.1 1158.5,394.6 1158.6,390.2 1158.8,391.3 1158.9,392.7 1159.1,392.6 1159.2,395.3 1159.3,391.8 1159.5,392.4 1159.6,394.7 1159.8,392.8 1159.9,390.7 1160,391.5 1160.2,391.3 1160.3,392.9 1160.5,390.1 1160.6,391.8 1160.8,390 1160.9,387.3 1161,395.6 1161.2,392.6 1161.3,391.5 1161.5,393 1161.6,389.4 1161.7,392.1 1161.9,388 1162,389.7 1162.2,390.3 1162.3,391 1162.4,389.2 1162.6,389.7 1162.7,387.6 1162.9,389.5 1163,388 1163.1,389.1 1163.3,388.9 1163.4,392.6 1163.6,388.9 1163.7,387.7 1163.8,390.6 1164,390.6 1164.1,387.7 1164.3,385.8 1164.4,389.7 1164.6,384.4 1164.7,382.2 1164.8,384.3 1165,382.4 1165.1,381.1 1165.3,383.2 1165.4,379.5 1165.5,379.4 1165.7,383.3 1165.8,378.6 1166,377.6 1166.1,382.6 1166.2,377.7 1166.4,380.8 1166.5,383.8 1166.7,383.3 1166.8,383.2 1166.9,380 1167.1,382.9 1167.2,383.1 1167.4,385.6 1167.5,382.9 1167.6,386.3 1167.8,385.3 1167.9,382.5 1168.1,382.7 1168.2,385.6 1168.4,384.6 1168.5,383.3 1168.6,384.5 1168.8,381.5 1168.9,381 1169.1,384.1 1169.2,386.6 1169.3,383.7 1169.5,379.9 1169.6,380.1 1169.8,379.8 1169.9,379.9 1170,383.9 1170.2,382 1170.3,380.2 1170.5,382.4 1170.6,381.2 1170.7,386.1 1170.9,386.9 1171,379.7 1171.2,383 1171.3,383.9 1171.4,382.4 1171.6,381.2 1171.7,380.9 1171.9,392.6 1172,387 1172.2,386.1 1172.3,392.9 1172.4,393 1172.6,390 1172.7,386.2 1172.9,388.5 1173,386.4 1173.1,390.5 1173.3,389.2 1173.4,388.6 1173.6,391 1173.7,392.1 1173.8,392.1 1174,397.6 1174.1,392.1 1174.3,396.4 1174.4,394.6 1174.5,391.8 1174.7,392.5 1174.8,397.2 1175,392.6 1175.1,392.3 1175.2,393.4 1175.4,392.6 1175.5,393 1175.7,397.3 1175.8,394.6 1176,394.9 1176.1,396.6 1176.2,394.6 1176.4,396.1 1176.5,394.8 1176.7,396.4 1176.8,393 1176.9,391 1177.1,396.1 1177.2,395.1 1177.4,395.1 1177.5,394.5 1177.6,395.7 1177.8,399.4 1177.9,394.9 1178.1,395.8 1178.2,397.6 1178.3,396.1 1178.5,396.7 1178.6,395.5 1178.8,396.5 1178.9,396.5 1179,395.9 1179.2,395.7 1179.3,396.1 1179.5,394.2 1179.6,395.8 1179.8,397.6 1179.9,393.3 1180,396.1 1180.2,393.6 1180.3,398.1 1180.5,395.4 1180.6,393.4 1180.7,394.2 1180.9,396.2 1181,397.3 1181.2,397.4 1181.3,396.6 1181.4,398 1181.6,397.6 1181.7,398 1181.9,398 1182,395.8 1182.1,399.2 1182.3,395.9 1182.4,394.9 1182.6,397.7 1182.7,397.6 1182.8,395.9 1183,396 1183.1,394.2 1183.3,399.3 1183.4,395.8 1183.6,393.2 1183.7,395.4 1183.8,392.4 1184,391.6 1184.1,396.3 1184.3,392.6 1184.4,394.3 1184.5,395.2 1184.7,395.6 1184.8,395.4 1185,396.6 1185.1,395.2 1185.2,393.1 1185.4,392.5 1185.5,395.4 1185.7,393.6 1185.8,393.7 1185.9,398.8 1186.1,393.1 1186.2,396.6 1186.4,396.4 1186.5,392.7 1186.6,391.1 1186.8,396.2 1186.9,395.7 1187.1,395.7 1187.2,394.9 1187.4,394.6 1187.5,395.3 1187.6,396.8 1187.8,390.3 1187.9,394.5 1188.1,394.9 1188.2,391.7 1188.3,394 1188.5,391.2 1188.6,391.6 1188.8,391.1 1188.9,393.7 1189,391.5 1189.2,395.6 1189.3,395.1 1189.5,392.1 1189.6,392.6 1189.7,389 1189.9,391.9 1190,394.6 1190.2,390.4 1190.3,390.7 1190.4,389.1 1190.6,391.4 1190.7,390 1190.9,387.4 1191,385.2 1191.2,385.2 1191.3,383.7 1191.4,388.2 1191.6,384.8 1191.7,383.5 1191.9,381.5 1192,383.2 1192.1,384.5 1192.3,384.4 1192.4,384.6 1192.6,388 1192.7,384.8 1192.8,383.3 1193,383.8 1193.1,390.1 1193.3,386.1 1193.4,389.9 1193.5,384.5 1193.7,386.2 1193.8,386.3 1194,389.7 1194.1,392.8 1194.2,391.2 1194.4,390 1194.5,392.7 1194.7,391.8 1194.8,386.1 1195,392.6 1195.1,388.7 1195.2,393.7 1195.4,389.2 1195.5,387.8 1195.7,388.4 1195.8,386.4 1195.9,384.8 1196.1,391.3 1196.2,387.2 1196.4,386 1196.5,385.6 1196.6,382.3 1196.8,384.7 1196.9,381.9 1197.1,381.5 1197.2,383.5 1197.3,382.3 1197.5,385.3 1197.6,382.8 1197.8,383.2 1197.9,384.3 1198,385.3 1198.2,382.2 1198.3,385.1 1198.5,379.8 1198.6,382.4 1198.8,384 1198.9,387.5 1199,384.6 1199.2,386.8 1199.3,387.4 1199.5,390.5 1199.6,387.3 1199.7,388.5 1199.9,390.4 1200,391.2 1200.2,390.7 1200.3,393.1 1200.4,391.8 1200.6,388.1 1200.7,392.4 1200.9,386.6 1201,394.1 1201.1,389.4 1201.3,389.5 1201.4,389.4 1201.6,390.7 1201.7,395.1 1201.8,389.7 1202,389.9 1202.1,392 1202.3,396.7 1202.4,390 1202.6,394 1202.7,392.7 1202.8,389.8 1203,389.6 1203.1,391.5 1203.3,393.4 1203.4,388.9 1203.5,390 1203.7,392.6 1203.8,394.2 1204,391.7 1204.1,394.9 1204.2,388.8 1204.4,391.2 1204.5,392.9 1204.7,391.4 1204.8,395.4 1204.9,392.2 1205.1,393.3 1205.2,395.1 1205.4,393.1 1205.5,391.1 1205.6,394.5 1205.8,391.8 1205.9,394.2 1206.1,390.6 1206.2,394.3 1206.4,388.8 1206.5,388.4 1206.6,387.5 1206.8,384.7 1206.9,387.5 1207.1,386.9 1207.2,384.9 1207.3,386.5 1207.5,389.1 1207.6,386.8 1207.8,386.3 1207.9,382.5 1208,384.5 1208.2,384 1208.3,382 1208.5,383.3 1208.6,379.4 1208.7,384.7 1208.9,387.2 1209,382.3 1209.2,386.6 1209.3,386.1 1209.4,384.1 1209.6,386.4 1209.7,385.8 1209.9,389.3 1210,389.2 1210.2,387.7 1210.3,390.7 1210.4,390.9 1210.6,390.6 1210.7,387.6 1210.9,388.2 1211,391 1211.1,391.6 1211.3,393.3 1211.4,389.5 1211.6,391.4 1211.7,390.4 1211.8,395.1 1212,390.8 1212.1,392.1 1212.3,391 1212.4,390.4 1212.5,392.4 1212.7,393.1 1212.8,391 1213,394.6 1213.1,389.3 1213.2,391.3 1213.4,393.9 1213.5,388.9 1213.7,389.3 1213.8,387.9 1214,388.7 1214.1,389.6 1214.2,390.6 1214.4,392.7 1214.5,389.1 1214.7,389.6 1214.8,391.8 1214.9,389.9 1215.1,393.1 1215.2,389.2 1215.4,391.1 1215.5,391 1215.6,393 1215.8,389.8 1215.9,391.5 1216.1,393.1 1216.2,391.4 1216.3,392.7 1216.5,390.4 1216.6,395.6 1216.8,395 1216.9,389 1217,393.9 1217.2,392.1 1217.3,393.9 1217.5,392.8 1217.6,388.6 1217.8,397.1 1217.9,392.3 1218,393.3 1218.2,393.4 1218.3,394.9 1218.5,395.3 1218.6,390.9 1218.7,392.6 1218.9,395.8 1219,393.5 1219.2,396.1 1219.3,388.9 1219.4,392.9 1219.6,397 1219.7,391.9 1219.9,392.5 1220,393.1 1220.1,393.3 1220.3,394.7 1220.4,394 1220.6,397.5 1220.7,391.3 1220.8,390 1221,392.8 1221.1,392.6 1221.3,396.3 1221.4,394.5 1221.6,396.4 1221.7,396.2 1221.8,392.8 1222,391.1 1222.1,393.9 1222.3,389.2 1222.4,392.3 1222.5,398 1222.7,394.6 1222.8,391.4 1223,393.5 1223.1,391.9 1223.2,397 1223.4,391.5 1223.5,396.1 1223.7,393.2 1223.8,389.9 1223.9,393.7 1224.1,394.3 1224.2,392.5 1224.4,395.4 1224.5,395.7 1224.6,392.1 1224.8,396.7 1224.9,396.2 1225.1,390.6 1225.2,396.2 1225.4,393.1 1225.5,391.9 1225.6,394 1225.8,395.9 1225.9,392.4 1226.1,395.7 1226.2,390 1226.3,389.8 1226.5,395.9 1226.6,392.9 1226.8,395.3 1226.9,393.3 1227,394.4 1227.2,395.8 1227.3,393 1227.5,397 1227.6,393.4 1227.7,394.3 1227.9,395.4 1228,392.3 1228.2,393.9 1228.3,394.6 1228.4,394.3 1228.6,394.4 1228.7,392.2 1228.9,394.5 1229,398.8 1229.2,398.8 1229.3,395.9 1229.4,396.3 1229.6,394.5 1229.7,396.5 1229.9,395.4 1230,391.5 1230.1,396.4 1230.3,392.3 1230.4,394.1 1230.6,391.4 1230.7,392.1 1230.8,393.7 1231,391.7 1231.1,393.3 1231.3,395.8 1231.4,392.7 1231.5,392.7 1231.7,393.8 1231.8,393 1232,394.3 1232.1,392.8 1232.2,393.9 1232.4,396.2 1232.5,393.7 1232.7,390.1 1232.8,391.5 1233,390.1 1233.1,392.8 1233.2,393.5 1233.4,394.7 1233.5,392.1 1233.7,390.3 1233.8,390.5 1233.9,390.4 1234.1,392.6 1234.2,391 1234.4,392.4 1234.5,388.7 1234.6,388.5 1234.8,390.5 1234.9,388 1235.1,392.3 1235.2,384.5 1235.3,386.6 1235.5,383.9 1235.6,379.5 1235.8,377.1 1235.9,378.4 1236,369.5 1236.2,365.5 1236.3,364.5 1236.5,362.7 1236.6,364.9 1236.8,359.7 1236.9,366.9 1237,368.2 1237.2,365.2 1237.3,366.2 1237.5,371 1237.6,364.3 1237.7,375.1 1237.9,377.7 1238,373.6 1238.2,368.5 1238.3,372 1238.4,374.3 1238.6,376.3 1238.7,376.7 1238.9,379.1 1239,381.5 1239.1,383.7 1239.3,388.8 1239.4,384.3 1239.6,388.8 1239.7,388.2 1239.8,389 1240,388.9 1240.1,393.3 1240.3,390.8 1240.4,391.4 1240.6,393.8 1240.7,394.1 1240.8,394.2 1241,396.6 1241.1,395.9 1241.3,397.4 1241.4,393.7 1241.5,397.3 1241.7,398.1 1241.8,396.2 1242,395.8 1242.1,397.6 1242.2,398.7 1242.4,396.7 1242.5,396.1 1242.7,400.3 1242.8,396.4 1242.9,400.9 1243.1,397.2 1243.2,399 1243.4,398.9 1243.5,397.5 1243.6,396.6 1243.8,395.7 1243.9,396.9 1244.1,398.1 1244.2,401.2 1244.4,399.9 1244.5,399.3 1244.6,400.4 1244.8,398.8 1244.9,400.1 1245.1,397.2 1245.2,400.1 1245.3,401.8 1245.5,400.7 1245.6,401.1 1245.8,399.1 1245.9,398.2"/>
<rect x="753.3" y="65.6" width="492.6" height="366.4" fill="none" stroke="#000" stroke-width="1.45"/>
<path d="M753.3,409.0h7M753.3,317.3h7M753.3,225.6h7M753.3,133.9h7M753.3,363.1h4M753.3,271.4h4M753.3,179.8h4M753.3,88.1h4M788.5,432.0v-4M823.7,432.0v-7M858.9,432.0v-4M894.0,432.0v-7M929.2,432.0v-4M964.4,432.0v-7M999.6,432.0v-4M1034.8,432.0v-7M1070.0,432.0v-4M1105.2,432.0v-7M1140.3,432.0v-4M1175.5,432.0v-7M1210.7,432.0v-4" stroke="#000" stroke-width="1.45" fill="none"/>
<text x="745.5" y="412.5" text-anchor="end" class="t">0</text>
<text x="745.5" y="320.8" text-anchor="end" class="t">400</text>
<text x="745.5" y="229.1" text-anchor="end" class="t">800</text>
<text x="745.5" y="137.4" text-anchor="end" class="t">1200</text>
<text x="753.3" y="450.9" text-anchor="middle" class="t">10</text>
<text x="823.7" y="450.9" text-anchor="middle" class="t">20</text>
<text x="894.0" y="450.9" text-anchor="middle" class="t">30</text>
<text x="964.4" y="450.9" text-anchor="middle" class="t">40</text>
<text x="1034.8" y="450.9" text-anchor="middle" class="t">50</text>
<text x="1105.2" y="450.9" text-anchor="middle" class="t">60</text>
<text x="1175.5" y="450.9" text-anchor="middle" class="t">70</text>
<text x="1245.9" y="450.9" text-anchor="middle" class="t">80</text>
<text x="960.5" y="480.0" class="ax">2Theta/</text>
<circle cx="1024.3" cy="468.45" r="1.95" fill="none" stroke="#000" stroke-width="0.85"/>
<text transform="translate(686.8,250.2) rotate(-90)" text-anchor="middle" class="ax">Intensity</text>
<use href="#s_diamond" x="1130.5" y="85.8"/>
<text x="1140.6" y="89.5" class="lg">Suanite,syn</text>
<use href="#s_heart" x="1130.5" y="105.1"/>
<text x="1140.6" y="109.2" class="lg">Periclase,syn</text>
<use href="#s_diamond" x="787.2" y="323.9"/>
<use href="#s_diamond" x="823.0" y="158.2"/>
<use href="#s_diamond" x="836.1" y="302.5"/>
<use href="#s_diamond" x="877.3" y="351.7"/>
<use href="#s_diamond" x="883.7" y="327.9"/>
<use href="#s_diamond" x="894.3" y="293.9"/>
<use href="#s_diamond" x="906.0" y="206.9"/>
<use href="#s_diamond" x="915.4" y="305.6"/>
<use href="#s_diamond" x="926.9" y="109.5"/>
<use href="#s_heart" x="941.8" y="329.2"/>
<use href="#s_heart" x="984.7" y="88.2"/>
<use href="#s_diamond" x="1000.9" y="247.7"/>
<use href="#s_diamond" x="1010.7" y="326.4"/>
<use href="#s_diamond" x="1023.0" y="329.3"/>
<use href="#s_diamond" x="1030.9" y="346.3"/>
<use href="#s_diamond" x="1043.2" y="357.1"/>
<use href="#s_diamond" x="1059.6" y="345.9"/>
<use href="#s_diamond" x="1087.2" y="357.1"/>
<use href="#s_heart" x="1121.5" y="247.4"/>
<use href="#s_heart" x="1207.8" y="366.1"/>
<use href="#s_heart" x="1236.6" y="349.5"/>
<clipPath id="clipc"><rect x="129.5" y="545.5" width="493.3" height="366.5"/></clipPath>
<polyline clip-path="url(#clipc)" fill="none" stroke="#000" stroke-width="1.3" stroke-linejoin="round" points="129.5,839.2 129.6,853.4 129.8,844.3 129.9,847.4 130.1,847.1 130.2,846.4 130.3,852 130.5,846.5 130.6,848.5 130.8,838 130.9,845.3 131.1,847.1 131.2,847 131.3,848.2 131.5,849.5 131.6,847.5 131.8,845 131.9,847.2 132,843.7 132.2,847.3 132.3,846.7 132.5,842.1 132.6,845.3 132.7,848.5 132.9,847.6 133,845.5 133.2,841.4 133.3,848.1 133.4,848.1 133.6,844.5 133.7,850.2 133.9,848.5 134,845.1 134.2,846.1 134.3,847.6 134.4,846 134.6,855.8 134.7,845.1 134.9,851.1 135,853.3 135.1,847.6 135.3,846.4 135.4,849.9 135.6,851.8 135.7,848.6 135.8,848.9 136,844.7 136.1,846.7 136.3,848.4 136.4,845.8 136.5,849.7 136.7,851.9 136.8,847.6 137,847.7 137.1,850.1 137.3,851.8 137.4,848.9 137.5,857 137.7,847.7 137.8,848.4 138,854.6 138.1,849.7 138.2,852.8 138.4,847.9 138.5,856.1 138.7,852.9 138.8,848.2 138.9,847 139.1,856.7 139.2,851.9 139.4,849.6 139.5,852.4 139.6,846 139.8,854.2 139.9,849.8 140.1,853.9 140.2,846.8 140.4,851 140.5,852.1 140.6,856 140.8,846.3 140.9,849.1 141.1,849.1 141.2,848.1 141.3,850.4 141.5,853.3 141.6,853.8 141.8,853.9 141.9,847.7 142,855.9 142.2,853.5 142.3,852.8 142.5,851.3 142.6,850.3 142.7,855.6 142.9,857 143,852.2 143.2,848.8 143.3,850.1 143.5,851.7 143.6,853.3 143.7,851.6 143.9,853.2 144,850.2 144.2,854.9 144.3,852.3 144.4,853 144.6,851.2 144.7,852.2 144.9,845.7 145,848.7 145.1,848.8 145.3,858.8 145.4,854 145.6,854.8 145.7,851.7 145.8,859.6 146,850 146.1,850.3 146.3,857 146.4,856.1 146.6,855.7 146.7,853.4 146.8,851.7 147,847.8 147.1,854.2 147.3,851.5 147.4,853.2 147.5,848.8 147.7,851.7 147.8,850 148,856.8 148.1,854.4 148.2,856.2 148.4,849.7 148.5,852.1 148.7,854.9 148.8,855.3 149,852.7 149.1,856.1 149.2,856.7 149.4,852.9 149.5,847.4 149.7,854.9 149.8,855.8 149.9,857.6 150.1,858.1 150.2,853 150.4,852.1 150.5,854.5 150.6,853.6 150.8,854.2 150.9,854.2 151.1,858.8 151.2,855.9 151.3,854.4 151.5,856.9 151.6,856.1 151.8,857.1 151.9,855.8 152.1,852.5 152.2,856 152.3,855.4 152.5,852.7 152.6,853.2 152.8,850.4 152.9,860.8 153,852.8 153.2,856.5 153.3,854.8 153.5,852.9 153.6,852.3 153.7,852.4 153.9,854.9 154,851 154.2,856.2 154.3,855.8 154.4,853.3 154.6,857 154.7,849.6 154.9,852.8 155,849.7 155.2,855.7 155.3,856.7 155.4,855.3 155.6,853.7 155.7,857.4 155.9,854.8 156,855.9 156.1,851.5 156.3,857.7 156.4,853.1 156.6,857.7 156.7,858.6 156.8,858 157,859.3 157.1,855.7 157.3,853.4 157.4,855.7 157.5,854.5 157.7,851.8 157.8,855.6 158,855.8 158.1,857.1 158.3,860.7 158.4,854.4 158.5,861.2 158.7,854.7 158.8,856.5 159,853.5 159.1,856.7 159.2,858.8 159.4,855.6 159.5,858.1 159.7,857.2 159.8,856.6 159.9,857.1 160.1,857.2 160.2,859 160.4,857.3 160.5,862.5 160.6,857.2 160.8,860 160.9,853.8 161.1,853.4 161.2,862.1 161.4,856.4 161.5,857.2 161.6,859.6 161.8,855.3 161.9,858 162.1,861.4 162.2,857.3 162.3,856.8 162.5,856 162.6,859.3 162.8,853.8 162.9,852.7 163,856.6 163.2,853.2 163.3,848.5 163.5,845.8 163.6,833.1 163.7,832.4 163.9,831.6 164,827.6 164.2,824.7 164.3,819.1 164.5,832.8 164.6,837.5 164.7,841.7 164.9,848 165,844.7 165.2,855.1 165.3,853.2 165.4,855.8 165.6,855.2 165.7,860.4 165.9,852.9 166,858.1 166.1,857.9 166.3,860.6 166.4,860.2 166.6,857 166.7,856 166.8,856.7 167,855.6 167.1,857 167.3,858.9 167.4,856.8 167.6,857.5 167.7,859.4 167.8,857.4 168,856 168.1,858.8 168.3,860.4 168.4,857.6 168.5,854.7 168.7,860.2 168.8,859.9 169,860.1 169.1,856.7 169.2,864.6 169.4,859 169.5,856.9 169.7,862.1 169.8,856.3 170,858.8 170.1,861.6 170.2,859.7 170.4,864.2 170.5,861.8 170.7,855.7 170.8,862.7 170.9,855.8 171.1,860.8 171.2,858.1 171.4,860.6 171.5,866.4 171.6,862.2 171.8,860.3 171.9,863.8 172.1,864.3 172.2,860 172.3,862.7 172.5,865.4 172.6,862.8 172.8,859 172.9,862.4 173.1,858.9 173.2,857.5 173.3,861.3 173.5,864.2 173.6,864.7 173.8,861.6 173.9,859.3 174,860.9 174.2,860.3 174.3,862.8 174.5,861 174.6,862.9 174.7,862.6 174.9,865.1 175,865.8 175.2,863.1 175.3,864.7 175.4,864.4 175.6,860.4 175.7,862.4 175.9,855.7 176,859.9 176.2,863.8 176.3,860.3 176.4,861.4 176.6,864 176.7,859.6 176.9,864.3 177,868.9 177.1,860.5 177.3,864 177.4,858.9 177.6,864.2 177.7,865.5 177.8,858.8 178,865.3 178.1,862.2 178.3,859.2 178.4,862.5 178.5,863 178.7,862.6 178.8,860.8 179,864.9 179.1,861.4 179.3,861.5 179.4,857.2 179.5,863.8 179.7,865.3 179.8,861.3 180,864.1 180.1,862.4 180.2,862.8 180.4,860.3 180.5,864.8 180.7,863.5 180.8,869.5 180.9,865.5 181.1,859.6 181.2,865 181.4,865.1 181.5,866.4 181.6,862.1 181.8,863.1 181.9,866.4 182.1,861.9 182.2,863 182.4,861.8 182.5,865.2 182.6,859.5 182.8,862.7 182.9,864 183.1,865 183.2,864.4 183.3,861.7 183.5,864.5 183.6,861.3 183.8,862.5 183.9,860.7 184,862 184.2,864.2 184.3,868.6 184.5,863.3 184.6,862.2 184.7,863.7 184.9,862.8 185,865.3 185.2,865.1 185.3,866.5 185.5,861 185.6,863.9 185.7,865.5 185.9,867.5 186,864.7 186.2,860.9 186.3,863.3 186.4,866.2 186.6,861.1 186.7,861.1 186.9,862.2 187,862.7 187.1,861.8 187.3,863.3 187.4,862.8 187.6,866.5 187.7,861.1 187.9,864.2 188,859.9 188.1,869.6 188.3,863.1 188.4,862.5 188.6,865.7 188.7,863.8 188.8,863.1 189,863.5 189.1,866.2 189.3,865.3 189.4,862.6 189.5,862 189.7,864.8 189.8,864.9 190,864.6 190.1,862.6 190.2,867.6 190.4,868.3 190.5,864.8 190.7,867.8 190.8,866.6 191,865 191.1,864.1 191.2,867.7 191.4,863.3 191.5,869.4 191.7,864 191.8,869 191.9,868.3 192.1,863.8 192.2,866.2 192.4,867.2 192.5,866.3 192.6,864.2 192.8,865.4 192.9,865.3 193.1,862.8 193.2,866.9 193.3,866.3 193.5,866.5 193.6,862.4 193.8,862.8 193.9,862.1 194.1,865.2 194.2,865.4 194.3,863 194.5,865.9 194.6,862.9 194.8,863.1 194.9,866.4 195,864.9 195.2,864.8 195.3,860.3 195.5,858.1 195.6,864.4 195.7,863.9 195.9,869.3 196,863 196.2,863.3 196.3,865.6 196.4,860.6 196.6,866 196.7,862.1 196.9,860.6 197,863.4 197.2,857.1 197.3,855.3 197.4,860.1 197.6,857.9 197.7,848.5 197.9,844.6 198,839.7 198.1,823.6 198.3,804.5 198.4,780.5 198.6,745.8 198.7,714.9 198.8,674 199,651.1 199.1,644.1 199.3,645.4 199.4,661.9 199.5,693.9 199.7,737.1 199.8,757.2 200,788.7 200.1,804.5 200.3,827 200.4,837.2 200.5,845.8 200.7,847.2 200.8,854.9 201,858.3 201.1,858.4 201.2,861.5 201.4,860.9 201.5,862.1 201.7,862.1 201.8,858.6 201.9,864.7 202.1,864 202.2,865 202.4,863.2 202.5,867.9 202.6,867 202.8,865.6 202.9,864.4 203.1,866 203.2,867.2 203.4,868.2 203.5,865.1 203.6,863.1 203.8,865.8 203.9,866.2 204.1,865.7 204.2,868.9 204.3,867.6 204.5,867.5 204.6,866.2 204.8,867 204.9,869.8 205,864.4 205.2,863.1 205.3,867.5 205.5,866 205.6,866.2 205.8,864.9 205.9,870 206,862.6 206.2,867.2 206.3,862.7 206.5,864.7 206.6,864.8 206.7,862.4 206.9,857.2 207,858.2 207.2,852.2 207.3,846.7 207.4,844.3 207.6,827.9 207.7,825.4 207.9,825.2 208,821.5 208.1,832.5 208.3,834.7 208.4,835.2 208.6,843.9 208.7,858.7 208.9,863.8 209,862.8 209.1,859.8 209.3,865.1 209.4,865.5 209.6,864.1 209.7,867.9 209.8,865.5 210,864.1 210.1,864.7 210.3,864.5 210.4,866.3 210.5,862.5 210.7,863 210.8,855.8 211,848.2 211.1,851.9 211.2,849.5 211.4,835.9 211.5,824.5 211.7,814.2 211.8,809 212,815.2 212.1,818 212.2,815.9 212.4,832.4 212.5,833.3 212.7,845.5 212.8,849.3 212.9,854.8 213.1,858.6 213.2,861.3 213.4,867.4 213.5,865.6 213.6,867 213.8,866.9 213.9,865.2 214.1,868.9 214.2,870.1 214.3,870.3 214.5,869.5 214.6,867.3 214.8,870.8 214.9,866.5 215.1,868.4 215.2,869.5 215.3,871.8 215.5,868 215.6,866.5 215.8,871.3 215.9,863.3 216,860.4 216.2,861.2 216.3,857.9 216.5,849.5 216.6,849.5 216.7,853.2 216.9,849.5 217,850.2 217.2,851.8 217.3,860.5 217.4,855 217.6,861.8 217.7,862.6 217.9,865.6 218,865 218.2,868.9 218.3,870.9 218.4,868.6 218.6,867.1 218.7,871.1 218.9,867.7 219,870.3 219.1,872.1 219.3,867.8 219.4,872.9 219.6,869.1 219.7,872.4 219.8,870.5 220,874.1 220.1,873.3 220.3,869.4 220.4,871.3 220.5,871.6 220.7,872.7 220.8,870.9 221,874.8 221.1,874.2 221.3,872.3 221.4,873.7 221.5,873.5 221.7,872.2 221.8,872.4 222,872.6 222.1,868.8 222.2,870.2 222.4,869.7 222.5,872.4 222.7,873.4 222.8,875.4 222.9,873.1 223.1,876.7 223.2,873.7 223.4,871 223.5,869.3 223.6,870.6 223.8,874.4 223.9,871.7 224.1,874.3 224.2,871.1 224.4,873 224.5,871.1 224.6,867.6 224.8,871 224.9,868.2 225.1,872.6 225.2,873.6 225.3,870.3 225.5,869.5 225.6,874.2 225.8,872.9 225.9,876 226,873.5 226.2,871.4 226.3,873.4 226.5,874.4 226.6,876.1 226.8,872.5 226.9,871.7 227,872.1 227.2,872.8 227.3,875.9 227.5,869.8 227.6,873.5 227.7,873.7 227.9,872 228,877.8 228.2,873.6 228.3,873.8 228.4,872.8 228.6,870.9 228.7,872.6 228.9,877.2 229,874.3 229.1,873.2 229.3,873.3 229.4,876.2 229.6,877 229.7,872.6 229.9,873 230,873.8 230.1,877.2 230.3,870.2 230.4,878.9 230.6,874.5 230.7,869.6 230.8,874.1 231,873.3 231.1,876.2 231.3,871.1 231.4,876.4 231.5,873.3 231.7,873.6 231.8,876 232,872.1 232.1,876.7 232.2,875.3 232.4,874 232.5,874.7 232.7,873 232.8,872.1 233,874.5 233.1,875 233.2,875 233.4,874.7 233.5,872.4 233.7,874.4 233.8,873.2 233.9,874.2 234.1,875.7 234.2,872.3 234.4,876.1 234.5,874 234.6,871.1 234.8,876.2 234.9,874.2 235.1,877.2 235.2,875.1 235.3,877 235.5,874.8 235.6,875.1 235.8,873.8 235.9,870.9 236.1,873.5 236.2,872.7 236.3,874.1 236.5,874.5 236.6,875.7 236.8,877.6 236.9,873.8 237,870.7 237.2,873 237.3,874.9 237.5,870.6 237.6,874.7 237.7,875 237.9,876.1 238,875.5 238.2,874 238.3,869.4 238.4,873.7 238.6,875.2 238.7,874.1 238.9,873.1 239,875.8 239.2,871.6 239.3,869.7 239.4,869.3 239.6,867 239.7,868.8 239.9,866.2 240,853.5 240.1,847.4 240.3,847.9 240.4,834.5 240.6,828.1 240.7,821.6 240.8,821.5 241,826.1 241.1,828.2 241.3,834.7 241.4,842.7 241.5,855.2 241.7,863.1 241.8,863.2 242,869 242.1,867.3 242.3,868.3 242.4,870.6 242.5,872.7 242.7,872.4 242.8,870.6 243,874.7 243.1,871.7 243.2,872.3 243.4,873.3 243.5,871.1 243.7,875.5 243.8,872.4 243.9,876.1 244.1,875.9 244.2,876.5 244.4,873.7 244.5,876.4 244.7,874.6 244.8,876.9 244.9,872.7 245.1,871.2 245.2,874.4 245.4,871.7 245.5,873.8 245.6,870.8 245.8,874.8 245.9,878 246.1,872.2 246.2,875.3 246.3,877.1 246.5,876.4 246.6,878.3 246.8,875.5 246.9,877.2 247,872.4 247.2,874 247.3,878.4 247.5,878.2 247.6,876.4 247.8,879 247.9,875.5 248,875.4 248.2,876.8 248.3,876.4 248.5,874.4 248.6,872.7 248.7,872.5 248.9,875.3 249,873.8 249.2,876.8 249.3,874.6 249.4,877.3 249.6,874.1 249.7,877.8 249.9,877.3 250,875.5 250.1,874.4 250.3,878.2 250.4,876.5 250.6,875.2 250.7,875 250.9,877.1 251,875.3 251.1,875.9 251.3,872.8 251.4,874.4 251.6,877.9 251.7,879.6 251.8,875.2 252,873.1 252.1,875 252.3,873.6 252.4,876.1 252.5,877.8 252.7,873.6 252.8,874.8 253,873.6 253.1,877.5 253.2,874.3 253.4,875.7 253.5,872.6 253.7,875 253.8,874.4 254,873.5 254.1,868.3 254.2,868.9 254.4,867.9 254.5,865 254.7,860.7 254.8,848.9 254.9,853.5 255.1,846.9 255.2,840.3 255.4,838.8 255.5,845 255.6,845.5 255.8,849.9 255.9,854 256.1,860.9 256.2,860.8 256.3,867.3 256.5,866.6 256.6,873.8 256.8,870.7 256.9,875.8 257.1,876.7 257.2,873.1 257.3,875.9 257.5,873.5 257.6,876.5 257.8,871.4 257.9,874.5 258,876.7 258.2,874.2 258.3,872.7 258.5,875.9 258.6,873.2 258.7,870 258.9,872.1 259,873.5 259.2,874 259.3,870.7 259.4,873.7 259.6,874.3 259.7,867 259.9,864.3 260,852.2 260.2,851.2 260.3,849.5 260.4,846.1 260.6,838.8 260.7,843.2 260.9,844.4 261,846.2 261.1,850 261.3,854.7 261.4,859.2 261.6,860.2 261.7,862.4 261.8,872.1 262,864.2 262.1,869.8 262.3,867.2 262.4,870.7 262.6,867 262.7,865.7 262.8,864.3 263,861.2 263.1,861.1 263.3,865.3 263.4,863.9 263.5,863.1 263.7,864.9 263.8,868.9 264,870.4 264.1,871.6 264.2,874.7 264.4,875.9 264.5,870.8 264.7,875.1 264.8,874.4 264.9,876.3 265.1,872.5 265.2,871.7 265.4,875.5 265.5,874.1 265.7,876.6 265.8,871.8 265.9,873.4 266.1,876.7 266.2,872.7 266.4,874.4 266.5,874.2 266.6,874.3 266.8,876.2 266.9,875.9 267.1,873.6 267.2,874.8 267.3,876.4 267.5,870.4 267.6,874.6 267.8,875.1 267.9,875.2 268,872.1 268.2,871.2 268.3,872.2 268.5,870.4 268.6,874.5 268.8,871 268.9,869.6 269,866 269.2,861.1 269.3,862.6 269.5,842.8 269.6,844 269.7,829.3 269.9,815.4 270,803 270.2,795 270.3,801 270.4,791.7 270.6,785.6 270.7,798.9 270.9,808 271,823.4 271.1,821 271.3,834.4 271.4,848.3 271.6,853.6 271.7,859.5 271.9,866.4 272,867.5 272.1,868.6 272.3,869.5 272.4,869.1 272.6,872.4 272.7,874 272.8,872.7 273,875.1 273.1,876.5 273.3,872.1 273.4,875.2 273.5,874.4 273.7,873.5 273.8,877.1 274,873.8 274.1,874.3 274.2,875.4 274.4,874.5 274.5,876.8 274.7,879.6 274.8,876 275,877.2 275.1,873.8 275.2,875 275.4,876.5 275.5,875.5 275.7,873 275.8,873.4 275.9,874.9 276.1,874.7 276.2,876.1 276.4,875.8 276.5,874.4 276.6,875.7 276.8,874.9 276.9,877.6 277.1,878.6 277.2,878.6 277.3,876.1 277.5,872.7 277.6,872.9 277.8,877 277.9,878 278.1,873.4 278.2,874 278.3,877.4 278.5,872.6 278.6,874.2 278.8,871.8 278.9,873.5 279,872.2 279.2,873.1 279.3,875.4 279.5,873.7 279.6,874.3 279.7,870.8 279.9,874.1 280,874.7 280.2,869.4 280.3,867.6 280.4,865.8 280.6,865 280.7,869 280.9,864 281,859.1 281.2,851.1 281.3,848.4 281.4,828.9 281.6,811.6 281.7,797.5 281.9,771.2 282,743.7 282.1,730.8 282.3,712.4 282.4,708.3 282.6,715.6 282.7,725.9 282.8,745 283,755.2 283.1,783.5 283.3,803.6 283.4,815.2 283.6,834.7 283.7,842.1 283.8,848.9 284,857.9 284.1,862.2 284.3,863.3 284.4,865.8 284.5,872.4 284.7,872.9 284.8,868 285,870.6 285.1,876.3 285.2,875.1 285.4,872.7 285.5,875 285.7,872.4 285.8,873.4 285.9,872.7 286.1,876.2 286.2,872.8 286.4,870.3 286.5,875.8 286.7,871.8 286.8,872.5 286.9,873.3 287.1,874.7 287.2,876.9 287.4,876.4 287.5,873.2 287.6,872.8 287.8,872.3 287.9,872.8 288.1,872.9 288.2,875.5 288.3,877 288.5,874.2 288.6,873.6 288.8,874.3 288.9,877.4 289,875.4 289.2,877.2 289.3,873.9 289.5,876.1 289.6,874.2 289.8,873.1 289.9,873.2 290,870.5 290.2,875.2 290.3,877.1 290.5,870.2 290.6,868.6 290.7,867.6 290.9,868.8 291,866.3 291.2,864.6 291.3,864.5 291.4,857.8 291.6,848.5 291.7,844.3 291.9,827.6 292,831.3 292.1,820 292.3,809 292.4,813.9 292.6,817 292.7,821.2 292.9,823.7 293,821.9 293.1,832.9 293.3,839.3 293.4,848.5 293.6,849.2 293.7,854.7 293.8,859.4 294,858.6 294.1,855.7 294.3,849.9 294.4,848 294.5,837.8 294.7,820.3 294.8,814.9 295,797.6 295.1,764.5 295.2,742.7 295.4,722.7 295.5,702.8 295.7,697 295.8,691.5 296,704.2 296.1,710.7 296.2,739.5 296.4,757.7 296.5,774.3 296.7,797 296.8,809.6 296.9,826.3 297.1,838.2 297.2,842.6 297.4,848.6 297.5,852.7 297.6,850.6 297.8,847.1 297.9,842.7 298.1,837.4 298.2,831.9 298.3,831.8 298.5,828 298.6,831.6 298.8,839.3 298.9,837.2 299.1,843 299.2,852.3 299.3,854.2 299.5,855.8 299.6,860.9 299.8,861.3 299.9,864.4 300,864.7 300.2,867.7 300.3,866.5 300.5,868.2 300.6,865.7 300.7,870.8 300.9,865.8 301,863.1 301.2,863.9 301.3,864.4 301.5,861.9 301.6,863.8 301.7,861.7 301.9,857.7 302,853.1 302.2,844 302.3,841.8 302.4,824 302.6,818.6 302.7,796.1 302.9,768.1 303,732 303.1,708.6 303.3,683.6 303.4,632.2 303.6,606.3 303.7,594.9 303.8,587 304,588.3 304.1,596 304.3,613.6 304.4,656.3 304.6,662.6 304.7,710 304.8,742.6 305,764.8 305.1,790.9 305.3,800.9 305.4,821.1 305.5,837.6 305.7,845.8 305.8,851.9 306,855.6 306.1,855.9 306.2,861.4 306.4,857 306.5,862.3 306.7,863.1 306.8,860.8 306.9,868 307.1,865.3 307.2,861 307.4,861.4 307.5,859.7 307.7,856 307.8,854.7 307.9,847.9 308.1,844 308.2,835.9 308.4,811.5 308.5,804.9 308.6,786.7 308.8,757.8 308.9,741 309.1,734.4 309.2,724.2 309.3,717.7 309.5,725 309.6,723.6 309.8,737.3 309.9,751.9 310,765.4 310.2,783 310.3,795 310.5,811.7 310.6,836.1 310.8,837.4 310.9,851.7 311,858.5 311.2,857.3 311.3,864.1 311.5,865.4 311.6,863.8 311.7,868.9 311.9,870 312,867.5 312.2,865.3 312.3,866.2 312.4,869.8 312.6,865.7 312.7,861.6 312.9,852.3 313,850.3 313.1,845.1 313.3,838.6 313.4,838.9 313.6,833.3 313.7,832.4 313.9,838.3 314,837.5 314.1,839.1 314.3,848.4 314.4,847.5 314.6,852.7 314.7,856.6 314.8,865.1 315,866.2 315.1,865.8 315.3,869.2 315.4,873.9 315.5,872.8 315.7,871.2 315.8,874.6 316,874.1 316.1,870.2 316.2,875.3 316.4,875.6 316.5,877.5 316.7,876.9 316.8,872.9 317,876 317.1,878 317.2,877.5 317.4,875.7 317.5,874.2 317.7,876.9 317.8,873.8 317.9,875.7 318.1,873.3 318.2,871.8 318.4,870 318.5,870.1 318.6,866.8 318.8,861.9 318.9,862.8 319.1,855.3 319.2,851.2 319.4,847.5 319.5,850 319.6,851 319.8,851.7 319.9,856.3 320.1,857.6 320.2,859.1 320.3,862.7 320.5,868.9 320.6,869.9 320.8,875.8 320.9,871.5 321,875.4 321.2,874.9 321.3,878.1 321.5,876.7 321.6,876.1 321.7,875.3 321.9,879.8 322,876 322.2,877.9 322.3,879.1 322.5,876.9 322.6,878.4 322.7,878.5 322.9,879.3 323,877.7 323.2,878.1 323.3,878.5 323.4,879.9 323.6,879.2 323.7,877.6 323.9,876.1 324,878.4 324.1,875.9 324.3,878.5 324.4,880.4 324.6,877.4 324.7,880.2 324.8,877.8 325,876.7 325.1,879.1 325.3,878.7 325.4,874.3 325.6,878.2 325.7,878.1 325.8,877.3 326,878.8 326.1,878.8 326.3,878 326.4,882.8 326.5,876.2 326.7,880.5 326.8,880.5 327,877.7 327.1,878.6 327.2,880.8 327.4,878.3 327.5,880.6 327.7,879.8 327.8,881.2 327.9,880 328.1,877.9 328.2,878.3 328.4,878 328.5,876.9 328.7,878.5 328.8,879.6 328.9,878.9 329.1,875.4 329.2,878.2 329.4,877.7 329.5,878.3 329.6,877.7 329.8,877.2 329.9,877.9 330.1,878.1 330.2,879.1 330.3,879 330.5,876.6 330.6,875.8 330.8,875.2 330.9,876.4 331,877.6 331.2,874.1 331.3,873.1 331.5,875.8 331.6,868.8 331.8,866.1 331.9,859.2 332,860.9 332.2,855.3 332.3,842.3 332.5,843.7 332.6,834.3 332.7,831.8 332.9,830.3 333,834.5 333.2,831.2 333.3,830.9 333.4,837.6 333.6,843.1 333.7,851.4 333.9,852 334,859.6 334.1,862.6 334.3,871.9 334.4,870.2 334.6,875.1 334.7,873.4 334.9,874.6 335,877.7 335.1,875.6 335.3,874 335.4,875.3 335.6,875.2 335.7,877.8 335.8,877.1 336,877.4 336.1,874.1 336.3,870.5 336.4,869.9 336.5,868.1 336.7,867.7 336.8,860.9 337,860.3 337.1,863.6 337.2,863.5 337.4,860.9 337.5,863.6 337.7,858.8 337.8,864.3 338,868.3 338.1,868.3 338.2,864.3 338.4,869.8 338.5,865 338.7,864.3 338.8,860.3 338.9,861.6 339.1,863.9 339.2,862.4 339.4,864.6 339.5,863.6 339.6,867.3 339.8,864.3 339.9,870.4 340.1,870.8 340.2,874.3 340.4,873.7 340.5,874.5 340.6,874.6 340.8,873.3 340.9,876.1 341.1,876.5 341.2,872.5 341.3,874.8 341.5,875.1 341.6,870.7 341.8,870.5 341.9,876.3 342,869.6 342.2,863.9 342.3,859.3 342.5,856.5 342.6,841.7 342.7,837.9 342.9,822.3 343,805 343.2,788.9 343.3,769.4 343.5,756.3 343.6,755.6 343.7,748.2 343.9,763.6 344,768.9 344.2,769.5 344.3,788.8 344.4,797.9 344.6,817.5 344.7,829.5 344.9,840.1 345,848.5 345.1,857.2 345.3,861.8 345.4,864.4 345.6,866.1 345.7,870.5 345.8,870.8 346,871.2 346.1,875.9 346.3,877.3 346.4,871.5 346.6,872.4 346.7,875.1 346.8,874.7 347,877.3 347.1,878.2 347.3,875.1 347.4,878.5 347.5,874 347.7,877 347.8,875.1 348,871.9 348.1,871.9 348.2,875.8 348.4,873 348.5,876.8 348.7,875.6 348.8,873.3 348.9,870.8 349.1,874.1 349.2,871 349.4,870.8 349.5,872.1 349.7,867.3 349.8,859.8 349.9,858.5 350.1,849.4 350.2,838 350.4,830 350.5,806.1 350.6,785.7 350.8,765 350.9,747.7 351.1,743.1 351.2,736.9 351.3,738.2 351.5,744.4 351.6,752.6 351.8,754.5 351.9,765.6 352,790.5 352.2,799.9 352.3,823.1 352.5,832.7 352.6,845.9 352.8,856.3 352.9,858.3 353,863.3 353.2,868 353.3,870.7 353.5,873.3 353.6,872.7 353.7,874.5 353.9,873.5 354,876.8 354.2,874.5 354.3,874.3 354.4,873.2 354.6,873.8 354.7,875.6 354.9,877.3 355,879.6 355.1,876.3 355.3,873.7 355.4,873.2 355.6,881 355.7,877.6 355.9,876.8 356,877.9 356.1,875.4 356.3,875.3 356.4,875.9 356.6,874.1 356.7,876.1 356.8,873.2 357,870.7 357.1,863.2 357.3,865 357.4,856 357.5,846.9 357.7,842.8 357.8,833.8 358,834.2 358.1,828 358.3,826.3 358.4,823.5 358.5,831.5 358.7,832.6 358.8,841.2 359,845.4 359.1,845.9 359.2,853.3 359.4,855 359.5,859.9 359.7,858.4 359.8,858.5 359.9,865.5 360.1,856.4 360.2,855.5 360.4,848.7 360.5,841.6 360.6,827.6 360.8,821.6 360.9,806.8 361.1,794.7 361.2,780.5 361.4,772.8 361.5,774.1 361.6,779.9 361.8,790.4 361.9,802.9 362.1,802.3 362.2,813.4 362.3,823.3 362.5,830.2 362.6,845 362.8,853 362.9,865 363,862.6 363.2,867.8 363.3,872 363.5,871.5 363.6,875.7 363.7,875.5 363.9,871.4 364,874.2 364.2,874.2 364.3,874.8 364.5,875.1 364.6,876 364.7,872 364.9,876.1 365,874.1 365.2,875 365.3,874 365.4,876.6 365.6,873.7 365.7,863.6 365.9,861.5 366,864.4 366.1,862.8 366.3,861.5 366.4,866.3 366.6,860.8 366.7,868.6 366.8,869.2 367,874.9 367.1,867.7 367.3,872.4 367.4,870.9 367.6,877.3 367.7,875.7 367.8,877 368,877.3 368.1,874.3 368.3,874.2 368.4,875.9 368.5,879.1 368.7,876.9 368.8,876.1 369,877.5 369.1,877.4 369.2,877.5 369.4,879.8 369.5,877.6 369.7,874.8 369.8,878.9 369.9,876.2 370.1,873.5 370.2,876.2 370.4,871.6 370.5,872.5 370.7,867.4 370.8,866.8 370.9,863.7 371.1,861.8 371.2,861.5 371.4,862.2 371.5,868.8 371.6,860.4 371.8,866.3 371.9,869.8 372.1,870.6 372.2,870.4 372.3,874.7 372.5,874.9 372.6,876.1 372.8,874.9 372.9,877.8 373,875.9 373.2,876.2 373.3,877.1 373.5,874.5 373.6,876.6 373.8,878.6 373.9,875.6 374,875.7 374.2,875.6 374.3,874.6 374.5,869.9 374.6,873.4 374.7,872 374.9,872.1 375,867 375.2,867.5 375.3,865.8 375.4,862.2 375.6,850.8 375.7,841.1 375.9,837.7 376,821.4 376.1,800.2 376.3,781.1 376.4,775.1 376.6,755.2 376.7,736.9 376.9,738.1 377,737 377.1,741.4 377.3,752.5 377.4,754.5 377.6,764.3 377.7,785.2 377.8,791.9 378,801.9 378.1,819 378.3,828.5 378.4,843.8 378.5,846.5 378.7,859.3 378.8,857.7 379,867.4 379.1,870.8 379.3,873.2 379.4,873.7 379.5,874.9 379.7,876.1 379.8,876.1 380,874.7 380.1,874.8 380.2,877.4 380.4,874.9 380.5,879.2 380.7,879.5 380.8,879.9 380.9,877 381.1,880.9 381.2,880.8 381.4,876.2 381.5,875.6 381.6,876.4 381.8,881.4 381.9,878.9 382.1,877.5 382.2,878.8 382.4,881.8 382.5,879.7 382.6,882 382.8,881.3 382.9,875.5 383.1,878 383.2,881.7 383.3,881.7 383.5,878.4 383.6,880.2 383.8,878.1 383.9,880.1 384,879.3 384.2,878.5 384.3,880.6 384.5,882 384.6,880.6 384.7,879.6 384.9,878.5 385,877.9 385.2,877.6 385.3,876.1 385.5,878 385.6,872.8 385.7,870.1 385.9,871.5 386,869.2 386.2,863.2 386.3,860 386.4,855.5 386.6,849.9 386.7,844.3 386.9,838.1 387,824.3 387.1,816 387.3,820.6 387.4,815.3 387.6,815.1 387.7,820.1 387.8,824.9 388,827.9 388.1,838.4 388.3,837.6 388.4,844.4 388.6,843.5 388.7,852.9 388.8,861.4 389,864.9 389.1,864.6 389.3,867.8 389.4,873 389.5,875.3 389.7,878.9 389.8,877.7 390,878 390.1,879.5 390.2,875.5 390.4,882 390.5,879.3 390.7,878.5 390.8,878.7 390.9,876.7 391.1,882 391.2,881 391.4,879.7 391.5,879.7 391.7,880.7 391.8,881.4 391.9,878.4 392.1,881.9 392.2,881.2 392.4,877.9 392.5,877.5 392.6,878.9 392.8,881.8 392.9,881.8 393.1,881.9 393.2,882.3 393.3,881.2 393.5,878.4 393.6,880.1 393.8,881.7 393.9,881.8 394,882.4 394.2,878.5 394.3,883.8 394.5,880 394.6,882.8 394.8,882.2 394.9,882.8 395,878.8 395.2,880.5 395.3,876 395.5,881.9 395.6,882 395.7,879.1 395.9,879.1 396,880.4 396.2,883.2 396.3,877.3 396.4,878.6 396.6,878.7 396.7,880.2 396.9,877.8 397,879.6 397.2,878.2 397.3,878 397.4,874.6 397.6,876.8 397.7,875 397.9,870 398,868.9 398.1,865.6 398.3,861.4 398.4,852.3 398.6,850.2 398.7,839.5 398.8,826.7 399,825.7 399.1,825.2 399.3,824.3 399.4,819.1 399.5,826 399.7,830.2 399.8,830.7 400,836 400.1,834.1 400.3,847 400.4,843.4 400.5,855.8 400.7,858.6 400.8,861.8 401,866.8 401.1,868.9 401.2,874.9 401.4,879.2 401.5,876.5 401.7,880.2 401.8,879 401.9,876.8 402.1,879.2 402.2,880.2 402.4,881.3 402.5,880.1 402.6,880 402.8,882.5 402.9,879.5 403.1,881.8 403.2,879.7 403.4,880.9 403.5,878.6 403.6,878.8 403.8,880.2 403.9,880.4 404.1,879.5 404.2,877.9 404.3,878.3 404.5,879.7 404.6,879.3 404.8,877 404.9,882.2 405,878.1 405.2,880 405.3,875.3 405.5,877.6 405.6,875.5 405.7,875.7 405.9,871.4 406,867.2 406.2,862.4 406.3,866.7 406.5,862.3 406.6,852.4 406.7,855.5 406.9,857.5 407,856.1 407.2,864.4 407.3,853.3 407.4,857 407.6,860.8 407.7,853.3 407.9,857.5 408,857.7 408.1,852.6 408.3,852.4 408.4,854.8 408.6,854.4 408.7,859.2 408.8,861 409,856.5 409.1,857.4 409.3,861.6 409.4,863.8 409.6,867.8 409.7,869.4 409.8,873.2 410,869.7 410.1,876 410.3,875.6 410.4,877.5 410.5,880.8 410.7,875.8 410.8,880.2 411,881.3 411.1,880.1 411.2,882 411.4,880.6 411.5,882.4 411.7,880 411.8,880.9 411.9,883.3 412.1,879.5 412.2,880.9 412.4,883 412.5,880.7 412.7,880.7 412.8,878.4 412.9,882.8 413.1,880.1 413.2,881.6 413.4,880.5 413.5,881.9 413.6,881.6 413.8,880.7 413.9,883.4 414.1,884.8 414.2,881.6 414.3,882.2 414.5,881.4 414.6,880.5 414.8,881.9 414.9,879.7 415.1,881.6 415.2,881.3 415.3,880.2 415.5,880.5 415.6,881.6 415.8,881.2 415.9,882.6 416,882.3 416.2,881.1 416.3,880 416.5,881.9 416.6,879.8 416.7,877.9 416.9,877.5 417,880.8 417.2,878.9 417.3,879.4 417.4,878.8 417.6,878.3 417.7,878.3 417.9,877 418,877.2 418.2,876.9 418.3,874.5 418.4,872.3 418.6,868.8 418.7,868.5 418.9,865.4 419,861.5 419.1,865.2 419.3,861.9 419.4,858.7 419.6,859.5 419.7,862.3 419.8,857.7 420,861.3 420.1,864.7 420.3,859 420.4,868.3 420.5,867 420.7,870.3 420.8,870.4 421,871.3 421.1,875.6 421.3,875.6 421.4,876.9 421.5,879.5 421.7,876.5 421.8,878.9 422,880.2 422.1,881.2 422.2,881 422.4,880.5 422.5,881.6 422.7,879 422.8,885.2 422.9,884.6 423.1,881.7 423.2,884.3 423.4,881.5 423.5,882.5 423.6,880.6 423.8,880.9 423.9,879.5 424.1,880.1 424.2,879.6 424.4,880.8 424.5,880 424.6,880.9 424.8,882.6 424.9,883.6 425.1,883.6 425.2,880.9 425.3,885.4 425.5,881.4 425.6,882.8 425.8,880.5 425.9,881.4 426,882.8 426.2,881.6 426.3,885.2 426.5,881.2 426.6,880.9 426.7,884.5 426.9,880.2 427,881.7 427.2,881.3 427.3,883.7 427.5,880.5 427.6,880.5 427.7,881.4 427.9,882.9 428,880.1 428.2,879.3 428.3,880.5 428.4,879.5 428.6,882 428.7,880.7 428.9,880.2 429,880.5 429.1,876.5 429.3,879.8 429.4,881.2 429.6,878.7 429.7,881.7 429.8,879 430,878 430.1,879.7 430.3,878.8 430.4,879 430.6,875.9 430.7,875.7 430.8,868.5 431,867.5 431.1,865.4 431.3,863.5 431.4,848.4 431.5,843.6 431.7,839.2 431.8,833.7 432,828.5 432.1,827.6 432.2,818 432.4,825.2 432.5,833.3 432.7,833.5 432.8,843.1 432.9,835.7 433.1,839.2 433.2,840.6 433.4,844.6 433.5,857.5 433.7,858.7 433.8,861.5 433.9,865.6 434.1,871.3 434.2,870.7 434.4,872.9 434.5,872.3 434.6,875.6 434.8,876 434.9,876.2 435.1,875.2 435.2,874.8 435.3,872.3 435.5,868.5 435.6,866.2 435.8,861.7 435.9,859.8 436.1,858.9 436.2,862 436.3,856.8 436.5,855 436.6,861.5 436.8,861 436.9,860.2 437,859.9 437.2,857.2 437.3,858.3 437.5,854.2 437.6,858.3 437.7,855.6 437.9,857.4 438,860 438.2,856.5 438.3,860.9 438.4,861.4 438.6,865.2 438.7,864.4 438.9,866.2 439,869.7 439.2,874.9 439.3,871.2 439.4,873.1 439.6,875.5 439.7,876.6 439.9,877.7 440,878.4 440.1,881 440.3,879.9 440.4,879.6 440.6,881.3 440.7,882.1 440.8,877.6 441,879.7 441.1,881.3 441.3,881.6 441.4,885.1 441.5,883.2 441.7,881.3 441.8,878.8 442,884.2 442.1,882 442.3,877.8 442.4,879.7 442.5,880.1 442.7,878.8 442.8,880.8 443,880.8 443.1,879.2 443.2,878.9 443.4,881.9 443.5,877.4 443.7,882.6 443.8,880.6 443.9,874.8 444.1,879.5 444.2,876.9 444.4,879 444.5,876.6 444.6,875.7 444.8,872.7 444.9,867.2 445.1,860.2 445.2,856.8 445.4,848.2 445.5,846.7 445.6,832.3 445.8,827.3 445.9,817.3 446.1,819 446.2,815.9 446.3,810 446.5,815.3 446.6,820.5 446.8,827.1 446.9,828.8 447,830.8 447.2,834.5 447.3,843.7 447.5,848.4 447.6,851.7 447.7,861.1 447.9,860.6 448,866.9 448.2,870.6 448.3,877.8 448.5,878.1 448.6,878.5 448.7,878.8 448.9,880.5 449,878.5 449.2,879.4 449.3,880.4 449.4,883.6 449.6,878.2 449.7,881.1 449.9,879.8 450,882 450.1,881 450.3,880 450.4,880.8 450.6,879.7 450.7,881.6 450.8,878.2 451,884.4 451.1,882.3 451.3,879.9 451.4,881.8 451.6,882.1 451.7,884.1 451.8,879.3 452,884.1 452.1,880 452.3,880.3 452.4,878.8 452.5,877.3 452.7,880.4 452.8,880 453,878.4 453.1,880.3 453.2,874.9 453.4,876.5 453.5,874.9 453.7,877 453.8,874.7 454,876 454.1,875.1 454.2,877.4 454.4,873.7 454.5,877.3 454.7,881.3 454.8,875.9 454.9,878.2 455.1,879.8 455.2,874.5 455.4,879.5 455.5,882.2 455.6,881.4 455.8,880.2 455.9,881.5 456.1,879.4 456.2,879.9 456.3,883 456.5,881.8 456.6,881 456.8,882.7 456.9,882.8 457.1,880.8 457.2,881.5 457.3,884.4 457.5,883.1 457.6,882.9 457.8,882.4 457.9,883.4 458,880.2 458.2,883.7 458.3,883.9 458.5,881.9 458.6,885.7 458.7,883.8 458.9,881.3 459,884.2 459.2,883.5 459.3,880.5 459.4,881.4 459.6,882 459.7,881.7 459.9,883.1 460,881.5 460.2,882.2 460.3,878 460.4,880.9 460.6,882.2 460.7,881.7 460.9,881.4 461,883.5 461.1,882.4 461.3,878.4 461.4,882.9 461.6,881.1 461.7,877.8 461.8,876.2 462,879.6 462.1,873.8 462.3,875.6 462.4,869.6 462.5,869.6 462.7,868.7 462.8,863.5 463,860.8 463.1,861.2 463.3,850.7 463.4,855.3 463.5,849.6 463.7,853.7 463.8,857.7 464,856.4 464.1,854.7 464.2,854 464.4,852.7 464.5,859 464.7,861.9 464.8,866.4 464.9,865.8 465.1,867.3 465.2,874.9 465.4,869.5 465.5,871.7 465.6,871.2 465.8,878.6 465.9,877.9 466.1,878.9 466.2,881.8 466.4,881.6 466.5,882.2 466.6,880.1 466.8,880.5 466.9,879.2 467.1,882.1 467.2,883.8 467.3,881 467.5,881.2 467.6,880.8 467.8,880 467.9,882.9 468,880.8 468.2,883.6 468.3,881.8 468.5,881 468.6,882.3 468.7,881.8 468.9,884.3 469,883.2 469.2,882 469.3,884 469.5,883.5 469.6,878.5 469.7,881.8 469.9,883.5 470,883.8 470.2,880.1 470.3,886.1 470.4,882.8 470.6,881.3 470.7,883.1 470.9,881.4 471,883.8 471.1,882.2 471.3,882.1 471.4,882.1 471.6,881.9 471.7,882 471.9,880.3 472,882.4 472.1,882.8 472.3,882.3 472.4,882.3 472.6,884.1 472.7,884.6 472.8,883.7 473,881 473.1,882.4 473.3,881.8 473.4,876.6 473.5,879 473.7,880.9 473.8,881.4 474,877.7 474.1,881 474.2,877 474.4,877.4 474.5,875.1 474.7,877.7 474.8,873 475,876.4 475.1,870.4 475.2,864.3 475.4,861 475.5,862.8 475.7,850.6 475.8,845.2 475.9,840.6 476.1,836.7 476.2,829.6 476.4,826.3 476.5,817.7 476.6,818.3 476.8,816.5 476.9,819.6 477.1,829.3 477.2,827 477.3,823.1 477.5,837.9 477.6,837 477.8,844.6 477.9,849.3 478.1,850.6 478.2,853.3 478.3,858 478.5,862.7 478.6,865 478.8,873.6 478.9,870.7 479,873.5 479.2,876.2 479.3,877.1 479.5,879.5 479.6,876.7 479.7,880.6 479.9,882.2 480,880 480.2,881.2 480.3,880.5 480.4,878.1 480.6,880.9 480.7,880.5 480.9,877.1 481,883.1 481.2,880.3 481.3,879 481.4,878.4 481.6,877.2 481.7,881.9 481.9,879.7 482,880.7 482.1,881.2 482.3,881.4 482.4,882.3 482.6,878.7 482.7,877.4 482.8,879.7 483,875.3 483.1,876.4 483.3,875.7 483.4,876.8 483.5,866.9 483.7,865.2 483.8,865 484,862.6 484.1,862.7 484.3,856 484.4,856.3 484.5,854.2 484.7,855.3 484.8,860.3 485,861.7 485.1,857.5 485.2,864.3 485.4,860.5 485.5,860.4 485.7,867.4 485.8,864.5 485.9,867.7 486.1,868.4 486.2,872.6 486.4,872.8 486.5,873.2 486.6,871.6 486.8,874.6 486.9,875.7 487.1,879.4 487.2,876.6 487.4,878.5 487.5,877.3 487.6,876.3 487.8,874.5 487.9,874.3 488.1,873.8 488.2,872.5 488.3,867 488.5,868.7 488.6,862.3 488.8,853.3 488.9,851 489,840.2 489.2,831.1 489.3,817.8 489.5,811.5 489.6,814.4 489.7,801 489.9,795.7 490,792.1 490.2,795.4 490.3,792 490.5,799.5 490.6,813.2 490.7,815.2 490.9,825.1 491,815.3 491.2,827.7 491.3,833.6 491.4,844.6 491.6,847.1 491.7,850.4 491.9,858.2 492,862.8 492.1,867.3 492.3,864.8 492.4,873 492.6,876.9 492.7,876.6 492.9,877.4 493,877.8 493.1,878.8 493.3,880.8 493.4,879.6 493.6,878.8 493.7,882.1 493.8,876.6 494,877.2 494.1,883.2 494.3,880.9 494.4,878.6 494.5,878.1 494.7,877.3 494.8,883.4 495,882.1 495.1,881 495.2,879.1 495.4,881.8 495.5,879 495.7,878.7 495.8,877.9 496,881 496.1,877.8 496.2,877.2 496.4,877 496.5,872.1 496.7,873.2 496.8,866.6 496.9,867.6 497.1,857.2 497.2,851.5 497.4,852 497.5,841.2 497.6,833.5 497.8,830.4 497.9,816.8 498.1,811.9 498.2,814.5 498.3,809.6 498.5,807.6 498.6,814.5 498.8,820 498.9,814.5 499.1,828 499.2,826.7 499.3,827.8 499.5,833.3 499.6,846.7 499.8,846.9 499.9,851.5 500,856.7 500.2,859.1 500.3,863.6 500.5,868.1 500.6,870.8 500.7,871.7 500.9,873.2 501,880.6 501.2,874.3 501.3,880 501.4,878.3 501.6,882.9 501.7,881.4 501.9,882.9 502,879.3 502.2,879.9 502.3,881.5 502.4,881.9 502.6,881.2 502.7,883.4 502.9,883 503,883.3 503.1,881 503.3,882.3 503.4,884.4 503.6,882 503.7,881.8 503.8,880.5 504,883.6 504.1,882.2 504.3,879.7 504.4,883.4 504.5,883.5 504.7,882.2 504.8,883.8 505,883.1 505.1,883.9 505.3,884.4 505.4,881.9 505.5,883.8 505.7,884.8 505.8,883.8 506,883.6 506.1,883 506.2,882.1 506.4,880.9 506.5,885.3 506.7,883.9 506.8,886.2 506.9,883.3 507.1,882.9 507.2,884.6 507.4,885 507.5,885.2 507.6,885.9 507.8,882.9 507.9,881.1 508.1,885.5 508.2,881.5 508.4,884.1 508.5,885.9 508.6,883.2 508.8,882.9 508.9,883.4 509.1,884.4 509.2,881.7 509.3,884.5 509.5,883.2 509.6,883.2 509.8,885.4 509.9,886.8 510,886.6 510.2,884.7 510.3,883.7 510.5,886.7 510.6,885.2 510.8,882 510.9,886.8 511,883.6 511.2,883.8 511.3,883.2 511.5,886.4 511.6,883.8 511.7,886.3 511.9,882.4 512,885.5 512.2,883.8 512.3,885.5 512.4,884.1 512.6,886.5 512.7,883.9 512.9,883.5 513,884.4 513.1,882.1 513.3,883.8 513.4,883.3 513.6,883.7 513.7,881.7 513.9,885.3 514,884.8 514.1,884.7 514.3,883.5 514.4,884 514.6,883.2 514.7,884 514.8,885.1 515,884.5 515.1,883.8 515.3,887.6 515.4,882.4 515.5,885.2 515.7,884.9 515.8,884 516,884.7 516.1,886.4 516.2,884.7 516.4,882.4 516.5,882.9 516.7,882.6 516.8,885.2 517,884.7 517.1,882.9 517.2,882.3 517.4,884.3 517.5,885.7 517.7,887.1 517.8,882.3 517.9,886.5 518.1,883.7 518.2,883.1 518.4,880.7 518.5,884.1 518.6,884.5 518.8,883.7 518.9,883.6 519.1,882.4 519.2,883.3 519.3,885.4 519.5,887.3 519.6,883.9 519.8,885.3 519.9,882.3 520.1,886.2 520.2,884 520.3,885.3 520.5,885.5 520.6,881.9 520.8,884 520.9,884.5 521,883.2 521.2,885.4 521.3,884.8 521.5,885.1 521.6,881.4 521.7,883.7 521.9,883.3 522,882.6 522.2,884.5 522.3,884.4 522.4,886.5 522.6,883.5 522.7,883.8 522.9,884.7 523,882.4 523.2,886.7 523.3,883.5 523.4,886.1 523.6,885.7 523.7,884.3 523.9,882.1 524,885.7 524.1,885.4 524.3,885.7 524.4,880.9 524.6,883 524.7,883.2 524.8,880.7 525,883.3 525.1,886.7 525.3,884.2 525.4,885.1 525.5,880.1 525.7,885.1 525.8,882.3 526,883.2 526.1,882.7 526.3,881.4 526.4,881 526.5,881.2 526.7,881.3 526.8,879.2 527,878.7 527.1,877.1 527.2,873.5 527.4,872.5 527.5,869.5 527.7,869.6 527.8,863.2 527.9,868.4 528.1,868.3 528.2,863.1 528.4,867.3 528.5,865.6 528.7,864.1 528.8,867.4 528.9,868.7 529.1,866.5 529.2,868.9 529.4,871.8 529.5,874.3 529.6,873.7 529.8,877.5 529.9,877 530.1,878.5 530.2,877 530.3,877.1 530.5,880.6 530.6,881 530.8,882.7 530.9,883.8 531,882.7 531.2,881.5 531.3,882 531.5,882.1 531.6,883.6 531.8,887.1 531.9,882.1 532,881.6 532.2,882.3 532.3,882.4 532.5,882.2 532.6,880.1 532.7,883.4 532.9,881.6 533,882.8 533.2,883 533.3,884.2 533.4,884.5 533.6,885.7 533.7,883.2 533.9,884.5 534,885.8 534.1,885.2 534.3,885.9 534.4,881.8 534.6,884.5 534.7,884 534.9,885.9 535,885.7 535.1,882.7 535.3,884.5 535.4,883.9 535.6,881.5 535.7,881.2 535.8,883.2 536,883.5 536.1,883.8 536.3,884.6 536.4,881.2 536.5,885.9 536.7,884.3 536.8,887 537,886 537.1,883.6 537.2,883.5 537.4,883.6 537.5,884.6 537.7,885.1 537.8,884.9 538,884.6 538.1,882.5 538.2,881.9 538.4,883.4 538.5,884.8 538.7,885.4 538.8,883.5 538.9,884.3 539.1,886.6 539.2,881.9 539.4,883.9 539.5,884.3 539.6,885 539.8,885 539.9,882.3 540.1,885 540.2,883.4 540.3,882.5 540.5,880.6 540.6,882.4 540.8,883.2 540.9,883.7 541.1,881.6 541.2,881.2 541.3,883.1 541.5,881.2 541.6,882 541.8,884 541.9,882.4 542,878.5 542.2,876.3 542.3,876.4 542.5,876.7 542.6,876 542.7,871.5 542.9,869.8 543,872 543.2,864.3 543.3,865.3 543.4,859.4 543.6,857.7 543.7,855.5 543.9,853.5 544,854 544.2,858.9 544.3,859.3 544.4,854.3 544.6,856.8 544.7,863.3 544.9,865.4 545,858.8 545.1,856.5 545.3,861.3 545.4,865.2 545.6,865.3 545.7,873.1 545.8,870.6 546,866.9 546.1,868.1 546.3,875.3 546.4,868.3 546.5,869.9 546.7,869 546.8,871.3 547,870.6 547.1,872.8 547.3,869.5 547.4,868.1 547.5,872.3 547.7,869.5 547.8,871.8 548,868.8 548.1,869.4 548.2,877.1 548.4,871.7 548.5,871.1 548.7,875.1 548.8,875 548.9,875.7 549.1,878.4 549.2,877.1 549.4,874.8 549.5,877.6 549.7,876.5 549.8,878.1 549.9,878.4 550.1,880.8 550.2,880.2 550.4,878.7 550.5,879.9 550.6,882.1 550.8,883.9 550.9,884.5 551.1,882.9 551.2,882.8 551.3,886.3 551.5,883.3 551.6,883.2 551.8,883.4 551.9,884.7 552,880.6 552.2,882.7 552.3,886 552.5,885.1 552.6,882.9 552.8,883.4 552.9,884 553,884.2 553.2,884.5 553.3,884.9 553.5,885.7 553.6,883.5 553.7,887.9 553.9,885.4 554,882.6 554.2,885.5 554.3,886.1 554.4,881.7 554.6,882.9 554.7,884.6 554.9,885.3 555,884.8 555.1,884.9 555.3,884.8 555.4,885.5 555.6,883.7 555.7,885.3 555.9,887.1 556,886.3 556.1,884.5 556.3,886 556.4,888 556.6,882.4 556.7,883.8 556.8,885.2 557,885.3 557.1,883.8 557.3,882.5 557.4,885.4 557.5,883.9 557.7,885.4 557.8,884 558,886.1 558.1,887.1 558.2,884.3 558.4,884.5 558.5,883.4 558.7,885.3 558.8,882.4 559,884.1 559.1,882 559.2,884.6 559.4,881.8 559.5,884 559.7,883.5 559.8,882 559.9,885.9 560.1,884.4 560.2,879.4 560.4,884.1 560.5,881.8 560.6,879.2 560.8,876.7 560.9,879.3 561.1,877.2 561.2,878.8 561.3,876.8 561.5,873.7 561.6,875 561.8,875.9 561.9,875.3 562.1,876.3 562.2,876.7 562.3,878.1 562.5,879.6 562.6,876.9 562.8,880.5 562.9,877 563,875.5 563.2,877.1 563.3,876.3 563.5,882.5 563.6,880.9 563.7,883.2 563.9,883.5 564,885.4 564.2,884.9 564.3,882 564.4,882.5 564.6,881.9 564.7,882.2 564.9,882.8 565,885.1 565.2,884.2 565.3,883 565.4,882.2 565.6,884.6 565.7,884.7 565.9,884.6 566,881.7 566.1,883.1 566.3,884.3 566.4,884.9 566.6,883.1 566.7,886.1 566.8,883.7 567,884 567.1,883.7 567.3,882.1 567.4,881.2 567.6,876.9 567.7,880 567.8,877.9 568,879.4 568.1,879.8 568.3,872.9 568.4,869.7 568.5,874.5 568.7,871.5 568.8,868.1 569,870 569.1,875.6 569.2,868.5 569.4,871.7 569.5,870.5 569.7,874.7 569.8,871.4 569.9,871.6 570.1,875.6 570.2,873.6 570.4,876.4 570.5,876.7 570.7,878.2 570.8,878 570.9,879.1 571.1,876.4 571.2,879.4 571.4,881.3 571.5,877.1 571.6,878.3 571.8,877.1 571.9,878.3 572.1,875.9 572.2,876.2 572.3,876.4 572.5,872.7 572.6,871.1 572.8,869.6 572.9,866.7 573,871.8 573.2,866.8 573.3,869.5 573.5,868.9 573.6,868 573.8,869.7 573.9,872.2 574,869.8 574.2,872.2 574.3,870.7 574.5,870.7 574.6,874.7 574.7,876.9 574.9,875.5 575,875.1 575.2,877.1 575.3,880.8 575.4,882.6 575.6,882.1 575.7,882.8 575.9,881 576,882.4 576.1,881.6 576.3,883.4 576.4,881 576.6,883.7 576.7,883.1 576.9,884.6 577,883.4 577.1,882.6 577.3,883.1 577.4,882.5 577.6,885.2 577.7,883.7 577.8,882 578,884.1 578.1,884.7 578.3,884.8 578.4,885.2 578.5,884.3 578.7,882.6 578.8,883.9 579,884.6 579.1,885.7 579.2,886.2 579.4,881.3 579.5,885.3 579.7,884.5 579.8,885.3 580,884.4 580.1,885.3 580.2,884.5 580.4,882.7 580.5,885.7 580.7,884 580.8,884.8 580.9,883.7 581.1,885.6 581.2,884.2 581.4,886.1 581.5,887.2 581.6,886.5 581.8,886 581.9,886.3 582.1,885.2 582.2,883.2 582.3,886.3 582.5,884.1 582.6,884.5 582.8,885.7 582.9,886 583.1,884.1 583.2,884 583.3,885.1 583.5,884.8 583.6,884.6 583.8,886.4 583.9,884.4 584,884 584.2,881.9 584.3,886 584.5,885.2 584.6,883.6 584.7,884.3 584.9,883.6 585,882.5 585.2,882.4 585.3,881.4 585.5,879.9 585.6,882.6 585.7,878.2 585.9,882.5 586,875.1 586.2,876.2 586.3,878.9 586.4,876.2 586.6,878.6 586.7,877.9 586.9,877.7 587,878.8 587.1,879.7 587.3,878.8 587.4,880.4 587.6,880.9 587.7,882.1 587.8,883.8 588,878.8 588.1,880.5 588.3,884.3 588.4,881.9 588.6,882.6 588.7,886.5 588.8,884.8 589,884 589.1,881.6 589.3,882.7 589.4,882.6 589.5,884 589.7,883.1 589.8,886.2 590,883.8 590.1,883.6 590.2,886.4 590.4,884.3 590.5,882.6 590.7,882.1 590.8,882.8 590.9,885.6 591.1,884.8 591.2,885.4 591.4,883 591.5,885.8 591.7,886.1 591.8,886.8 591.9,884.3 592.1,884 592.2,885.3 592.4,885.5 592.5,884.6 592.6,882.4 592.8,886 592.9,884.1 593.1,883.5 593.2,883 593.3,881.3 593.5,881.4 593.6,881.5 593.8,878.9 593.9,878.4 594,878.7 594.2,877.5 594.3,878.9 594.5,875.2 594.6,875.8 594.8,875.6 594.9,873.2 595,876 595.2,874.4 595.3,874.1 595.5,873 595.6,875 595.7,874.3 595.9,872.6 596,874.5 596.2,878.6 596.3,880 596.4,878.8 596.6,879.2 596.7,881.7 596.9,881.8 597,882.5 597.1,881.4 597.3,878.8 597.4,879.1 597.6,884 597.7,883.6 597.9,885.4 598,886.1 598.1,884.2 598.3,884.3 598.4,885.4 598.6,883.8 598.7,885.2 598.8,883.4 599,885.6 599.1,883.8 599.3,885.3 599.4,884.9 599.5,884.3 599.7,886.9 599.8,886.1 600,885.3 600.1,885.6 600.2,884.9 600.4,886.3 600.5,887 600.7,885.4 600.8,884.9 601,886.4 601.1,883.7 601.2,884.4 601.4,884.2 601.5,884.3 601.7,886.5 601.8,882.5 601.9,886.3 602.1,884.8 602.2,884.4 602.4,884.9 602.5,885.1 602.6,886.4 602.8,885.8 602.9,885.2 603.1,883.6 603.2,886.1 603.3,884.4 603.5,884.7 603.6,885.1 603.8,886 603.9,885.4 604.1,887.5 604.2,885.1 604.3,884.8 604.5,885.9 604.6,884.5 604.8,884.8 604.9,886.2 605,884.1 605.2,885.9 605.3,882 605.5,886.5 605.6,886.2 605.7,886 605.9,884.9 606,883.6 606.2,885.1 606.3,885.7 606.5,882.7 606.6,883.8 606.7,885.5 606.9,885.3 607,887.2 607.2,885.1 607.3,882.9 607.4,886.7 607.6,887 607.7,884.9 607.9,888.3 608,883.3 608.1,887.1 608.3,886 608.4,885.3 608.6,883.4 608.7,884.5 608.8,887.5 609,887.2 609.1,884.7 609.3,887.7 609.4,885.3 609.6,886 609.7,883.7 609.8,883.1 610,888.1 610.1,884.1 610.3,883.7 610.4,885.5 610.5,885.2 610.7,885.8 610.8,884.4 611,883.1 611.1,881.3 611.2,880.6 611.4,882.5 611.5,882.5 611.7,878.4 611.8,883.1 611.9,879.5 612.1,873.6 612.2,868 612.4,871.8 612.5,867.3 612.7,867.8 612.8,863.2 612.9,861.6 613.1,862.5 613.2,859.6 613.4,861.7 613.5,861.2 613.6,864.4 613.8,868.1 613.9,866.2 614.1,865.6 614.2,870.1 614.3,865.9 614.5,868.4 614.6,870.8 614.8,870.7 614.9,872.7 615,874.9 615.2,872.7 615.3,874.3 615.5,878.2 615.6,879.1 615.8,880.3 615.9,879.9 616,879.6 616.2,883.6 616.3,882.7 616.5,883.7 616.6,883.2 616.7,882.2 616.9,885.7 617,887.4 617.2,885 617.3,887 617.4,882.7 617.6,885.9 617.7,885.4 617.9,884.8 618,884.9 618.1,885.8 618.3,885.2 618.4,884 618.6,885.7 618.7,882.9 618.9,884.9 619,888.5 619.1,884.2 619.3,887.7 619.4,885 619.6,882.5 619.7,884.1 619.8,887 620,886.6 620.1,885.5 620.3,883.7 620.4,886.5 620.5,884.1 620.7,885.2 620.8,885.7 621,885.8 621.1,883.4 621.2,887.6 621.4,887.1 621.5,884.5 621.7,884.4 621.8,887.3 622,886.8 622.1,887.2 622.2,885 622.4,886.5 622.5,883.9 622.7,884.7 622.8,885.4"/>
<rect x="129.5" y="545.5" width="493.3" height="366.5" fill="none" stroke="#000" stroke-width="1.45"/>
<path d="M129.5,894.3h7M129.5,824.5h7M129.5,754.7h7M129.5,684.9h7M129.5,615.1h7M129.5,859.4h4M129.5,789.6h4M129.5,719.8h4M129.5,650.0h4M129.5,580.2h4M164.7,912.0v-4M200.0,912.0v-7M235.2,912.0v-4M270.4,912.0v-7M305.7,912.0v-4M340.9,912.0v-7M376.1,912.0v-4M411.4,912.0v-7M446.6,912.0v-4M481.9,912.0v-7M517.1,912.0v-4M552.3,912.0v-7M587.6,912.0v-4" stroke="#000" stroke-width="1.45" fill="none"/>
<text x="121.7" y="897.8" text-anchor="end" class="t">0</text>
<text x="121.7" y="828.0" text-anchor="end" class="t">400</text>
<text x="121.7" y="758.2" text-anchor="end" class="t">800</text>
<text x="121.7" y="688.4" text-anchor="end" class="t">1200</text>
<text x="121.7" y="618.6" text-anchor="end" class="t">1600</text>
<text x="121.7" y="548.8" text-anchor="end" class="t">2000</text>
<clipPath id="clipcl"><rect x="0" y="0" width="624.4" height="997"/></clipPath>
<g clip-path="url(#clipcl)"><text x="129.5" y="930.9" text-anchor="middle" class="t">10</text><text x="200.0" y="930.9" text-anchor="middle" class="t">20</text><text x="270.4" y="930.9" text-anchor="middle" class="t">30</text><text x="340.9" y="930.9" text-anchor="middle" class="t">40</text><text x="411.4" y="930.9" text-anchor="middle" class="t">50</text><text x="481.9" y="930.9" text-anchor="middle" class="t">60</text><text x="552.3" y="930.9" text-anchor="middle" class="t">70</text><text x="622.8" y="930.9" text-anchor="middle" class="t">80</text></g>
<text x="336.7" y="960.0" class="ax">2Theta/</text>
<circle cx="400.5" cy="948.45" r="1.95" fill="none" stroke="#000" stroke-width="0.85"/>
<text transform="translate(63.0,730.1) rotate(-90)" text-anchor="middle" class="ax">Intensity</text>
<use href="#s_club" x="507.4" y="565.7"/>
<text x="517.5" y="569.8" class="lg">Kotoite,syn</text>
<use href="#s_diamond" x="507.4" y="585.7"/>
<text x="517.5" y="589.4" class="lg">Suanite,syn</text>
<use href="#s_heart" x="507.4" y="605.0"/>
<text x="517.5" y="609.1" class="lg">Periclase,syn</text>
<use href="#s_diamond" x="164.0" y="807.5"/>
<use href="#s_diamond" x="199.0" y="631.0"/>
<use href="#s_club" x="206.9" y="809.1"/>
<use href="#s_diamond" x="212.4" y="797.8"/>
<use href="#s_club" x="240.6" y="811.5"/>
<use href="#s_diamond" x="253.6" y="828.4"/>
<use href="#s_diamond" x="260.4" y="826.3"/>
<use href="#s_diamond" x="270.2" y="776.1"/>
<use href="#s_diamond" x="282.1" y="696.3"/>
<use href="#s_club" x="293.3" y="679.0"/>
<use href="#s_diamond" x="303.4" y="575.0"/>
<use href="#s_diamond" x="309.1" y="706.8"/>
<use href="#s_club" x="316.0" y="819.0"/>
<use href="#s_diamond" x="319.1" y="837.5"/>
<use href="#s_club" x="332.5" y="818.7"/>
<use href="#s_club" x="343.3" y="736.8"/>
<use href="#s_club" x="350.9" y="725.9"/>
<use href="#s_heart" x="361.0" y="759.5"/>
<use href="#s_diamond" x="376.5" y="726.6"/>
<use href="#s_diamond" x="387.6" y="803.4"/>
<use href="#s_diamond" x="398.8" y="807.4"/>
<use href="#s_diamond" x="406.9" y="840.4"/>
<use href="#s_diamond" x="418.4" y="845.6"/>
<use href="#s_club" x="430.8" y="807.7"/>
<use href="#s_diamond" x="436.0" y="840.7"/>
<use href="#s_club" x="445.6" y="799.9"/>
<use href="#s_diamond" x="463.1" y="839.6"/>
<use href="#s_club" x="476.1" y="806.1"/>
<use href="#s_club" x="489.5" y="779.4"/>
<use href="#s_heart" x="497.8" y="795.6"/>
<use href="#s_club" x="527.7" y="850.5"/>
<use href="#s_club" x="544.0" y="840.7"/>
<use href="#s_heart" x="612.6" y="848.0"/>
<clipPath id="clipd"><rect x="753.6" y="545.6" width="492.4" height="366.4"/></clipPath>
<polyline clip-path="url(#clipd)" fill="none" stroke="#000" stroke-width="1.3" stroke-linejoin="round" points="753.6,889.6 753.7,889.3 753.9,888.3 754,888.9 754.2,890.2 754.3,889.3 754.4,889.6 754.6,889.2 754.7,890.2 754.9,889.2 755,889.2 755.1,888.5 755.3,889.2 755.4,889.1 755.6,890.2 755.7,888.2 755.9,890.5 756,888.8 756.1,889.6 756.3,890 756.4,889.9 756.6,889.9 756.7,889.3 756.8,889.6 757,888.8 757.1,890.6 757.3,889.6 757.4,890.1 757.5,889.2 757.7,890.8 757.8,889.9 758,889.6 758.1,890.6 758.2,889.2 758.4,889.7 758.5,889.2 758.7,889.3 758.8,890.4 758.9,890.3 759.1,890 759.2,889.5 759.4,889.5 759.5,890.3 759.6,890.3 759.8,890.4 759.9,890.3 760.1,890.1 760.2,890.1 760.4,888.9 760.5,890.4 760.6,890.3 760.8,889.9 760.9,890.7 761.1,890.4 761.2,890.2 761.3,889.8 761.5,890.9 761.6,889.5 761.8,890.4 761.9,890.2 762,889.8 762.2,890 762.3,889.8 762.5,890.3 762.6,890.4 762.7,890.2 762.9,891 763,889.8 763.2,890.9 763.3,891.2 763.4,889.4 763.6,890.6 763.7,891.2 763.9,889.6 764,890.8 764.2,890 764.3,891.1 764.4,890.8 764.6,891.6 764.7,891.7 764.9,891.2 765,890.8 765.1,890.3 765.3,889.5 765.4,891.3 765.6,890.3 765.7,891.1 765.8,890.9 766,891.6 766.1,891.7 766.3,891.3 766.4,891.5 766.5,890.9 766.7,891.3 766.8,890.3 767,890.9 767.1,890.9 767.2,890.4 767.4,890.8 767.5,891.1 767.7,891.2 767.8,891.2 767.9,890.6 768.1,890.8 768.2,891 768.4,890.8 768.5,891.5 768.7,891 768.8,892 768.9,890.6 769.1,891.3 769.2,891.2 769.4,891 769.5,891.4 769.6,891.5 769.8,890.8 769.9,891.4 770.1,891.9 770.2,891.3 770.3,892.4 770.5,890.7 770.6,891.6 770.8,891.5 770.9,890.4 771,890.5 771.2,891.6 771.3,891.3 771.5,891.1 771.6,890.8 771.7,891.8 771.9,891.7 772,891.1 772.2,891.6 772.3,891.4 772.5,891.5 772.6,892.4 772.7,892.3 772.9,893.2 773,892 773.2,891.3 773.3,892.5 773.4,891.4 773.6,891.5 773.7,892 773.9,892 774,892 774.1,892.5 774.3,892.2 774.4,892.1 774.6,891.8 774.7,891.8 774.8,892.6 775,891.8 775.1,892.6 775.3,892.3 775.4,892.1 775.5,892.3 775.7,892.4 775.8,892.2 776,892.6 776.1,892.7 776.3,892.5 776.4,891.9 776.5,892.5 776.7,891.5 776.8,892.4 777,893.8 777.1,892.7 777.2,891.7 777.4,892.6 777.5,892.8 777.7,893 777.8,892 777.9,892.2 778.1,892.3 778.2,892.5 778.4,892 778.5,892.3 778.6,893.3 778.8,892.4 778.9,892.7 779.1,892.9 779.2,892.5 779.3,892.8 779.5,894.1 779.6,892.2 779.8,892.4 779.9,893 780,893.1 780.2,892.9 780.3,893.6 780.5,892.9 780.6,893.1 780.8,893.2 780.9,893.5 781,893.4 781.2,892.6 781.3,892.5 781.5,892.9 781.6,893.2 781.7,893.6 781.9,892.9 782,892.4 782.2,894 782.3,892.7 782.4,894.3 782.6,893.4 782.7,893.1 782.9,893.9 783,894 783.1,893.2 783.3,892.9 783.4,893.6 783.6,892.7 783.7,893.7 783.8,892.6 784,893.3 784.1,893.3 784.3,893.1 784.4,893.3 784.6,892.6 784.7,892.4 784.8,893.2 785,893.5 785.1,894 785.3,893.8 785.4,893.4 785.5,893.5 785.7,893.5 785.8,893.4 786,893.2 786.1,894 786.2,893.8 786.4,892.7 786.5,892.8 786.7,893.3 786.8,892.2 786.9,892.8 787.1,892.1 787.2,892.2 787.4,890 787.5,889.4 787.6,887.7 787.8,887 787.9,886.8 788.1,886.7 788.2,886.6 788.3,888.3 788.5,889.4 788.6,890.3 788.8,890.8 788.9,891.5 789.1,891.6 789.2,893 789.3,892.7 789.5,893.7 789.6,893.3 789.8,893.6 789.9,893 790,893.5 790.2,894.1 790.3,893.6 790.5,893.8 790.6,894.1 790.7,894.1 790.9,894.5 791,892.9 791.2,894 791.3,893.7 791.4,894.7 791.6,894.7 791.7,894.3 791.9,894.3 792,893.9 792.1,894.7 792.3,894 792.4,893.6 792.6,894.7 792.7,893.9 792.9,894.8 793,894.2 793.1,894.2 793.3,893.6 793.4,894.7 793.6,894.4 793.7,894 793.8,895 794,894.5 794.1,894.9 794.3,894.8 794.4,894.2 794.5,894.3 794.7,893.5 794.8,894 795,894 795.1,894.7 795.2,894.8 795.4,894.6 795.5,895.6 795.7,894 795.8,895 795.9,895.2 796.1,894.9 796.2,894.4 796.4,894.2 796.5,894.9 796.6,894.6 796.8,894.8 796.9,895.2 797.1,894.8 797.2,894.8 797.4,895.5 797.5,894.4 797.6,895.5 797.8,894.8 797.9,895.4 798.1,895.3 798.2,895.2 798.3,894.6 798.5,895.5 798.6,895.1 798.8,894.3 798.9,895.3 799,895 799.2,894.7 799.3,895.3 799.5,894.8 799.6,895.3 799.7,894.8 799.9,895.1 800,895.5 800.2,894.5 800.3,895.2 800.4,895.3 800.6,895.5 800.7,895.4 800.9,895.2 801,895.1 801.2,894.7 801.3,895.8 801.4,895.4 801.6,894.7 801.7,895.2 801.9,895.1 802,894.6 802.1,895.1 802.3,895.1 802.4,895.3 802.6,894.6 802.7,894.9 802.8,895.6 803,895.1 803.1,895.8 803.3,894.9 803.4,895.1 803.5,895.5 803.7,895.6 803.8,896.2 804,895.1 804.1,895.5 804.2,895.6 804.4,895.2 804.5,895.8 804.7,895.7 804.8,895.8 805,896.1 805.1,894.6 805.2,895.6 805.4,895.7 805.5,895.2 805.7,896.6 805.8,895.6 805.9,895.6 806.1,896 806.2,895.4 806.4,896.5 806.5,895.7 806.6,895.3 806.8,896.6 806.9,896.3 807.1,895.8 807.2,895.7 807.3,896 807.5,895.6 807.6,895.7 807.8,896.3 807.9,895.9 808,896.3 808.2,896.7 808.3,896.8 808.5,895.5 808.6,895.9 808.7,895.1 808.9,896.5 809,896.1 809.2,895.8 809.3,896 809.5,895.7 809.6,895.9 809.7,896.2 809.9,896.9 810,896.4 810.2,895.3 810.3,895.7 810.4,895.4 810.6,896.2 810.7,896.1 810.9,896.4 811,895.9 811.1,896 811.3,895.9 811.4,895.3 811.6,896.4 811.7,895.8 811.8,896.6 812,895.6 812.1,896.2 812.3,896.1 812.4,896 812.5,895.4 812.7,896.1 812.8,896.3 813,896.6 813.1,896 813.3,896.4 813.4,896.3 813.5,896.1 813.7,895.8 813.8,896.4 814,895.9 814.1,895.4 814.2,896.7 814.4,895.6 814.5,895.3 814.7,896.4 814.8,895.9 814.9,896.7 815.1,896 815.2,896.3 815.4,896 815.5,896.5 815.6,896.5 815.8,896.3 815.9,896.4 816.1,896.4 816.2,896.2 816.3,896.6 816.5,896.2 816.6,896 816.8,897.1 816.9,896.1 817,896.4 817.2,896.6 817.3,896.7 817.5,896.5 817.6,896.4 817.8,896 817.9,896.6 818,895.7 818.2,896.4 818.3,895.8 818.5,895.6 818.6,896.5 818.7,895.6 818.9,895.1 819,896.2 819.2,895.7 819.3,896 819.4,895.8 819.6,895.9 819.7,896 819.9,895.4 820,895.3 820.1,895.6 820.3,894.9 820.4,894.9 820.6,895 820.7,895.4 820.8,894.1 821,894.1 821.1,895.4 821.3,894.6 821.4,893.8 821.6,892.4 821.7,891.1 821.8,890.2 822,887.2 822.1,883.1 822.3,879.3 822.4,871.2 822.5,864.7 822.7,857.4 822.8,853.2 823,853.6 823.1,856.2 823.2,860.5 823.4,867.3 823.5,874.5 823.7,879.4 823.8,885.1 823.9,889 824.1,890.7 824.2,892.2 824.4,893.1 824.5,893.2 824.6,894 824.8,894.1 824.9,894.5 825.1,895 825.2,894.7 825.3,895.4 825.5,895.3 825.6,895.9 825.8,895.5 825.9,895.7 826.1,895.5 826.2,894.9 826.3,894.7 826.5,895.3 826.6,895.7 826.8,895.4 826.9,895.6 827,896 827.2,895.7 827.3,895.8 827.5,895.9 827.6,895.1 827.7,895.8 827.9,895.8 828,895.2 828.2,895.7 828.3,895.8 828.4,895.6 828.6,894.9 828.7,894.8 828.9,894.7 829,894.8 829.1,894.8 829.3,893.7 829.4,894.4 829.6,893.5 829.7,893.4 829.9,892.3 830,891.1 830.1,888.8 830.3,888.6 830.4,882.2 830.6,878.2 830.7,869.2 830.8,858.2 831,847.5 831.1,833.9 831.3,822.7 831.4,818.7 831.5,821.2 831.7,827.1 831.8,838 832,852 832.1,860.5 832.2,871.2 832.4,880.5 832.5,884.4 832.7,886.3 832.8,888.8 832.9,891 833.1,892.9 833.2,892.9 833.4,892.8 833.5,893.5 833.7,894.1 833.8,894.4 833.9,893.9 834.1,894.4 834.2,894 834.4,893.7 834.5,892.7 834.6,892.6 834.8,891.5 834.9,891 835.1,887.6 835.2,885.8 835.3,884.8 835.5,885.6 835.6,884.7 835.8,885.4 835.9,885.9 836,888.7 836.2,890.4 836.3,892 836.5,892.9 836.6,894.9 836.7,895.3 836.9,895.8 837,895.7 837.2,895.9 837.3,895.8 837.4,896.3 837.6,895.9 837.7,896.3 837.9,895.2 838,896.2 838.2,895 838.3,895.4 838.4,896.5 838.6,895.5 838.7,895.6 838.9,896.4 839,895.4 839.1,895.4 839.3,895 839.4,895 839.6,893.9 839.7,892.5 839.8,891.1 840,888.9 840.1,885.5 840.3,882.3 840.4,877.5 840.5,876.6 840.7,871.8 840.8,873.5 841,875.2 841.1,878.1 841.2,883.3 841.4,884.6 841.5,889.7 841.7,891.1 841.8,892.8 842,893.6 842.1,894.9 842.2,896 842.4,895.6 842.5,896.9 842.7,896.2 842.8,896.5 842.9,895.8 843.1,896.6 843.2,896.7 843.4,896.9 843.5,897 843.6,897 843.8,896.6 843.9,897.3 844.1,897 844.2,897.5 844.3,897 844.5,896.9 844.6,897.5 844.8,897.2 844.9,897 845,896.8 845.2,896.7 845.3,897.2 845.5,897.5 845.6,897.7 845.7,896.9 845.9,896.7 846,897.1 846.2,896.6 846.3,897.4 846.5,897.4 846.6,896.7 846.7,897.6 846.9,897 847,897.1 847.2,897.2 847.3,896.7 847.4,897.6 847.6,897.5 847.7,898.1 847.9,897.7 848,897.5 848.1,897.5 848.3,897.4 848.4,897.2 848.6,897.6 848.7,898.1 848.8,897.3 849,897.2 849.1,897.8 849.3,897.7 849.4,896.8 849.5,897 849.7,897 849.8,897.2 850,897.4 850.1,897.6 850.3,897.2 850.4,897.5 850.5,897.6 850.7,897.4 850.8,897.5 851,897.1 851.1,897.8 851.2,896.6 851.4,897.8 851.5,897.6 851.7,897.1 851.8,897.8 851.9,897.6 852.1,897.5 852.2,898.4 852.4,897.7 852.5,897.8 852.6,897.6 852.8,897.3 852.9,897.3 853.1,897 853.2,897 853.3,897.1 853.5,897.5 853.6,897.1 853.8,897.9 853.9,897.5 854,897 854.2,897.2 854.3,898 854.5,897.7 854.6,897.2 854.8,897.3 854.9,897.1 855,898.1 855.2,898 855.3,897.6 855.5,897.9 855.6,897.5 855.7,897.5 855.9,897.4 856,897.5 856.2,897.3 856.3,897.2 856.4,897.4 856.6,897.9 856.7,897 856.9,897.4 857,897.3 857.1,897.4 857.3,898 857.4,897.2 857.6,897.7 857.7,897.8 857.8,896.9 858,897.5 858.1,897.3 858.3,897 858.4,896.7 858.6,898 858.7,897.5 858.8,897 859,897.5 859.1,898.1 859.3,897.1 859.4,897 859.5,896.8 859.7,896.9 859.8,897.1 860,896.8 860.1,896.8 860.2,896.9 860.4,896.6 860.5,896.4 860.7,896.8 860.8,895.9 860.9,895.8 861.1,895.7 861.2,896.8 861.4,895.5 861.5,895.3 861.6,895.3 861.8,894.2 861.9,894.7 862.1,892.7 862.2,892.1 862.4,891.2 862.5,887.9 862.6,885.1 862.8,880.1 862.9,874.1 863.1,862.6 863.2,849.2 863.3,835.6 863.5,825.9 863.6,813.6 863.8,811.4 863.9,816.5 864,826.5 864.2,839.1 864.3,850.7 864.5,862 864.6,871.1 864.7,878.4 864.9,884.7 865,888.9 865.2,890.6 865.3,892.7 865.4,892.5 865.6,894.4 865.7,894.2 865.9,894.5 866,895.7 866.1,895.2 866.3,895.9 866.4,896.3 866.6,896.6 866.7,896.3 866.9,896.1 867,897.4 867.1,896.5 867.3,896.9 867.4,897.2 867.6,897 867.7,897.1 867.8,897.1 868,896.9 868.1,897.6 868.3,896.6 868.4,897 868.5,897.6 868.7,898.1 868.8,897.4 869,897.6 869.1,897.2 869.2,897.2 869.4,896.8 869.5,897.6 869.7,897.3 869.8,897.7 869.9,897.7 870.1,897.1 870.2,897.7 870.4,897.7 870.5,897.8 870.7,897.5 870.8,897.5 870.9,897.7 871.1,898.1 871.2,897.6 871.4,898 871.5,897.8 871.6,897.6 871.8,897.6 871.9,898.5 872.1,897.1 872.2,897.4 872.3,897.1 872.5,896.9 872.6,898.1 872.8,897.9 872.9,897.7 873,897.4 873.2,897.9 873.3,897.8 873.5,897.4 873.6,898 873.7,897.7 873.9,897.4 874,897.8 874.2,897.5 874.3,897.8 874.4,898.3 874.6,897.9 874.7,897.8 874.9,897.8 875,897.7 875.2,897.5 875.3,897.5 875.4,897.6 875.6,897.7 875.7,897.6 875.9,897.7 876,897.7 876.1,897 876.3,898.1 876.4,897.3 876.6,897.9 876.7,897.5 876.8,896.9 877,897.2 877.1,896.4 877.3,897.2 877.4,896.7 877.5,896.6 877.7,896.1 877.8,895.7 878,895.1 878.1,893.8 878.2,891.7 878.4,889.7 878.5,886.4 878.7,882.2 878.8,877.4 879,872.7 879.1,868.1 879.2,865.1 879.4,867.4 879.5,867.3 879.7,871.8 879.8,876.7 879.9,881.1 880.1,884.6 880.2,888.3 880.4,891.1 880.5,892.3 880.6,893.4 880.8,895.8 880.9,895.5 881.1,896.6 881.2,897.1 881.3,896.9 881.5,896.5 881.6,897.1 881.8,897.3 881.9,896.7 882,897.1 882.2,897.4 882.3,896.7 882.5,897.2 882.6,897.7 882.7,897.8 882.9,897.6 883,897.3 883.2,897 883.3,897 883.5,897.1 883.6,897.3 883.7,896.2 883.9,896 884,895.8 884.2,895.2 884.3,893.9 884.4,893.5 884.6,893.2 884.7,894.3 884.9,893.3 885,895.5 885.1,895.3 885.3,895.4 885.4,896 885.6,897.2 885.7,897 885.8,897 886,897.3 886.1,898 886.3,897.2 886.4,898.3 886.5,897.8 886.7,898.2 886.8,898 887,898 887.1,897.7 887.3,898.4 887.4,897.9 887.5,897.5 887.7,897.9 887.8,897.8 888,897.8 888.1,898.2 888.2,898.1 888.4,898 888.5,897.8 888.7,897.3 888.8,897.4 888.9,898.1 889.1,898.1 889.2,898.3 889.4,898.8 889.5,897.5 889.6,897.8 889.8,898.6 889.9,898 890.1,897.2 890.2,897.8 890.3,897.8 890.5,897.8 890.6,898.2 890.8,898.3 890.9,898.1 891,897.8 891.2,897.9 891.3,897.5 891.5,897.1 891.6,897.5 891.8,897.3 891.9,897.7 892,898 892.2,896.6 892.3,897 892.5,896.7 892.6,897.1 892.7,897.3 892.9,895.6 893,896.3 893.2,894.3 893.3,892.9 893.4,890.3 893.6,887.2 893.7,884.1 893.9,883.3 894,879.3 894.1,881 894.3,879.9 894.4,882.3 894.6,884.8 894.7,886.9 894.8,889.9 895,891.4 895.1,892.8 895.3,894.3 895.4,895.6 895.6,895.8 895.7,896.5 895.8,896.2 896,897 896.1,897.5 896.3,897.5 896.4,897.8 896.5,897.7 896.7,897.7 896.8,897.5 897,897.5 897.1,897.8 897.2,897.7 897.4,898.1 897.5,898 897.7,898.7 897.8,898.1 897.9,898.1 898.1,897 898.2,898.4 898.4,897.9 898.5,898 898.6,898.5 898.8,897.8 898.9,897.9 899.1,898.4 899.2,898.7 899.4,897.9 899.5,898.4 899.6,897.7 899.8,898 899.9,897.7 900.1,898 900.2,897.4 900.3,897.6 900.5,897.3 900.6,897.8 900.8,898.2 900.9,898.3 901,898 901.2,897.7 901.3,898 901.5,896.9 901.6,897.7 901.7,897.5 901.9,897.6 902,898 902.2,897.1 902.3,897.2 902.4,897.1 902.6,897.6 902.7,897.2 902.9,897.1 903,896.5 903.1,897.3 903.3,896.4 903.4,895.9 903.6,896.3 903.7,896 903.9,894.5 904,894 904.1,892.1 904.3,890.1 904.4,886.7 904.6,883.3 904.7,879.5 904.8,871.6 905,867.4 905.1,862.7 905.3,863.1 905.4,862.5 905.5,867.1 905.7,869.9 905.8,874.3 906,880 906.1,884.2 906.2,888 906.4,891.2 906.5,892 906.7,894.5 906.8,895.7 906.9,895.8 907.1,895.9 907.2,896.3 907.4,896.6 907.5,896.8 907.7,897.6 907.8,896.7 907.9,896.4 908.1,897.3 908.2,897.8 908.4,896.9 908.5,897.3 908.6,898.2 908.8,897.6 908.9,897.8 909.1,897.8 909.2,896.6 909.3,897 909.5,897.4 909.6,897.4 909.8,896.8 909.9,897.8 910,897.1 910.2,897.6 910.3,897 910.5,897.2 910.6,897.6 910.7,896.9 910.9,897 911,896.5 911.2,897.3 911.3,897.1 911.4,897.4 911.6,896.6 911.7,897.3 911.9,897 912,896.5 912.2,896.7 912.3,896.7 912.4,896.7 912.6,896.6 912.7,896.4 912.9,896.7 913,897.3 913.1,895.8 913.3,896.7 913.4,895.4 913.6,895.9 913.7,894.8 913.8,895.2 914,895.2 914.1,894.7 914.3,895.4 914.4,894.2 914.5,893.7 914.7,892.5 914.8,892.2 915,890.7 915.1,886.9 915.2,885.3 915.4,883.9 915.5,882.7 915.7,882.9 915.8,883.1 916,882.8 916.1,884.1 916.2,884.3 916.4,886 916.5,887.2 916.7,886.6 916.8,885.9 916.9,885.7 917.1,883.9 917.2,882.2 917.4,878.5 917.5,874.8 917.6,869 917.8,862.2 917.9,847.8 918.1,826.4 918.2,799 918.3,760.7 918.5,714.4 918.6,657.9 918.8,611.3 918.9,578.1 919,575.4 919.2,583 919.3,613.3 919.5,647.9 919.6,682.7 919.7,724.4 919.9,763.3 920,800.6 920.2,827.2 920.3,846.4 920.5,860.2 920.6,871 920.7,874.6 920.9,878.5 921,882.9 921.2,885.2 921.3,886.3 921.4,888 921.6,888.2 921.7,889.9 921.9,889.9 922,891.5 922.1,892.1 922.3,892.4 922.4,892.5 922.6,891.4 922.7,891 922.8,891.1 923,890.8 923.1,892 923.3,890.3 923.4,891.9 923.5,891 923.7,890.9 923.8,892.6 924,892.9 924.1,893.4 924.3,894.7 924.4,895 924.5,895 924.7,894.7 924.8,894.5 925,894.8 925.1,894.3 925.2,894.9 925.4,895.2 925.5,894.3 925.7,894 925.8,894.2 925.9,892.3 926.1,892.3 926.2,890.6 926.4,887.6 926.5,884.8 926.6,878.2 926.8,871 926.9,861.9 927.1,852.6 927.2,844.1 927.3,838.9 927.5,836.5 927.6,837.8 927.8,843.1 927.9,849.2 928.1,855.4 928.2,862.8 928.3,872.7 928.5,878.2 928.6,882.5 928.8,887.6 928.9,890.1 929,891.4 929.2,893 929.3,893.2 929.5,894.4 929.6,894.4 929.7,893.9 929.9,894.7 930,895.9 930.2,895.9 930.3,895.9 930.4,895.5 930.6,896.1 930.7,895.1 930.9,894.5 931,894.3 931.1,894.9 931.3,893.9 931.4,892.8 931.6,891.4 931.7,887.4 931.8,885.4 932,881.5 932.1,875.8 932.3,871.6 932.4,867.8 932.6,867.3 932.7,870.2 932.8,873.9 933,874.1 933.1,877.1 933.3,879.9 933.4,885.8 933.5,888.5 933.7,889.3 933.8,891.1 934,892.6 934.1,894 934.2,893.9 934.4,895 934.5,895.4 934.7,894.8 934.8,894.6 934.9,894 935.1,893.4 935.2,894 935.4,891.8 935.5,889.8 935.6,887.8 935.8,882.9 935.9,876.9 936.1,869.4 936.2,862.9 936.4,855.6 936.5,851.7 936.6,849.4 936.8,852.3 936.9,856.1 937.1,859.1 937.2,865 937.3,871.8 937.5,875.8 937.6,881.3 937.8,885.9 937.9,890 938,891.2 938.2,893.6 938.3,895.3 938.5,895.2 938.6,894.9 938.7,896.2 938.9,896.1 939,896 939.2,896.6 939.3,897 939.4,897 939.6,896.9 939.7,897.4 939.9,897.1 940,897.1 940.1,897.5 940.3,897.2 940.4,897.3 940.6,897.6 940.7,897.6 940.9,897.5 941,897.6 941.1,897.6 941.3,897.9 941.4,897.4 941.6,897.1 941.7,897 941.8,897.3 942,896.4 942.1,895.8 942.3,895.7 942.4,894.1 942.5,893.4 942.7,892.6 942.8,891.7 943,891.9 943.1,893.2 943.2,892.4 943.4,893.6 943.5,893.8 943.7,894.2 943.8,895.3 943.9,896.1 944.1,896.5 944.2,896.8 944.4,897.6 944.5,897.7 944.7,897.5 944.8,897.2 944.9,897.8 945.1,897.6 945.2,898.1 945.4,897.9 945.5,897.9 945.6,898.4 945.8,898 945.9,898 946.1,898.8 946.2,898 946.3,897.9 946.5,897.9 946.6,897.8 946.8,898.3 946.9,898.1 947,897.9 947.2,898.1 947.3,897.9 947.5,897.3 947.6,897.9 947.7,897.5 947.9,896.4 948,896.7 948.2,896.4 948.3,895.1 948.4,894.2 948.6,893.2 948.7,893.4 948.9,892.1 949,892.2 949.2,891.7 949.3,892.8 949.4,893.9 949.6,894.1 949.7,894.7 949.9,895.7 950,896.2 950.1,896.1 950.3,896.8 950.4,897 950.6,897.7 950.7,897.3 950.8,898.2 951,897.1 951.1,897.7 951.3,897.3 951.4,897.1 951.5,897.9 951.7,897.1 951.8,897.4 952,897.1 952.1,897.6 952.2,897.6 952.4,896.9 952.5,897.1 952.7,897.2 952.8,897.5 953,896.6 953.1,897.1 953.2,896.9 953.4,897 953.5,896.6 953.7,896.2 953.8,896.3 953.9,896.1 954.1,896 954.2,894.9 954.4,894.5 954.5,894.9 954.6,894.6 954.8,893.4 954.9,893.4 955.1,891.3 955.2,889.3 955.3,886.4 955.5,880.9 955.6,873.9 955.8,865.7 955.9,854.6 956,839.3 956.2,825.2 956.3,817.7 956.5,812.8 956.6,814.1 956.8,821.5 956.9,827.2 957,830.8 957.2,842.9 957.3,850.4 957.5,862.1 957.6,869.4 957.7,877.3 957.9,882.4 958,887.7 958.2,889.4 958.3,891.6 958.4,892.1 958.6,893 958.7,893.8 958.9,894.3 959,894.6 959.1,894.8 959.3,895.3 959.4,895.4 959.6,895.6 959.7,895.8 959.8,894.9 960,895.9 960.1,894.7 960.3,894.9 960.4,895.7 960.5,895.4 960.7,894.1 960.8,893.8 961,892 961.1,889.6 961.3,887.3 961.4,884.2 961.5,880.3 961.7,875.1 961.8,873.5 962,870.5 962.1,870.8 962.2,874.3 962.4,875.5 962.5,876.3 962.7,880.3 962.8,882.1 962.9,884.5 963.1,888.1 963.2,889.2 963.4,890.8 963.5,892 963.6,891.6 963.8,892.6 963.9,891.5 964.1,892.1 964.2,892.6 964.3,891.7 964.5,891.8 964.6,890.3 964.8,889.6 964.9,889.7 965.1,888.1 965.2,886 965.3,884.2 965.5,881.8 965.6,875.7 965.8,868.2 965.9,859.8 966,840.4 966.2,822.5 966.3,791.2 966.5,758.8 966.6,725.4 966.7,698.6 966.9,691.6 967,694.8 967.2,704.8 967.3,722.8 967.4,736.9 967.6,757 967.7,783.9 967.9,802.4 968,825.9 968.1,844.4 968.3,859.6 968.4,869.8 968.6,877.2 968.7,881.2 968.8,884.2 969,886.5 969.1,888.1 969.3,890.2 969.4,890.4 969.6,891.1 969.7,891.2 969.8,892 970,892.4 970.1,892.4 970.3,892.9 970.4,893 970.5,892.5 970.7,893.2 970.8,893.6 971,892.9 971.1,892.7 971.2,892.7 971.4,893.5 971.5,892.2 971.7,892.4 971.8,892 971.9,891.6 972.1,890.9 972.2,890.3 972.4,889 972.5,888.8 972.6,887.9 972.8,886 972.9,884.5 973.1,881.1 973.2,877.7 973.4,871.1 973.5,862.8 973.6,846.9 973.8,826.8 973.9,801.5 974.1,767.6 974.2,730.6 974.3,701.5 974.5,682.1 974.6,677.5 974.8,689.2 974.9,703.7 975,725.1 975.2,740.2 975.3,763.7 975.5,781.5 975.6,810.8 975.7,831 975.9,846.2 976,860.4 976.2,872 976.3,876.2 976.4,882 976.6,885.9 976.7,887.2 976.9,888.5 977,889.7 977.1,892.1 977.3,890.9 977.4,893.2 977.6,893.1 977.7,892.8 977.9,893.7 978,894.3 978.1,894.8 978.3,894.6 978.4,894.5 978.6,895.5 978.7,895.3 978.8,895.8 979,895.9 979.1,896.7 979.3,895.9 979.4,895.7 979.5,896.1 979.7,895.7 979.8,896.1 980,895.7 980.1,896 980.2,896.1 980.4,895.9 980.5,895.3 980.7,894.6 980.8,894.2 980.9,892.8 981.1,892 981.2,890.5 981.4,888 981.5,887.3 981.7,887 981.8,887.9 981.9,888.5 982.1,888.3 982.2,890.3 982.4,890.5 982.5,890.7 982.6,891.5 982.8,893 982.9,893.9 983.1,894.6 983.2,894.3 983.3,894.1 983.5,893.7 983.6,892.8 983.8,891.4 983.9,889.9 984,886.9 984.2,882 984.3,875.3 984.5,866.7 984.6,861.5 984.7,851.7 984.9,848.9 985,847.3 985.2,849.3 985.3,854.5 985.5,859.7 985.6,862.4 985.7,865.9 985.9,871.6 986,876.8 986.2,882.2 986.3,885.9 986.4,889.3 986.6,890.8 986.7,892.6 986.9,893.4 987,895 987.1,894.9 987.3,895.2 987.4,895.1 987.6,895.1 987.7,894.8 987.8,893.1 988,892.8 988.1,891.6 988.3,888.5 988.4,883.5 988.5,880.1 988.7,876.7 988.8,872.1 989,869.6 989.1,869.5 989.2,872.8 989.4,874.2 989.5,875.6 989.7,878.7 989.8,879.9 990,882.7 990.1,885.4 990.2,888.2 990.4,891.3 990.5,893 990.7,894.2 990.8,895.1 990.9,896.1 991.1,896.9 991.2,896.7 991.4,896.9 991.5,897.3 991.6,897.3 991.8,897.1 991.9,897.9 992.1,898 992.2,898.2 992.3,897.8 992.5,897.7 992.6,898.2 992.8,897.5 992.9,898.3 993,898.1 993.2,898.2 993.3,897.8 993.5,898.4 993.6,897.7 993.8,898.3 993.9,898.7 994,898.5 994.2,898.3 994.3,897.8 994.5,898.5 994.6,898.3 994.7,897.7 994.9,898.3 995,898.5 995.2,898.6 995.3,898.8 995.4,898.2 995.6,898 995.7,898.4 995.9,898.6 996,898.2 996.1,898.3 996.3,898.3 996.4,898.1 996.6,898.2 996.7,898.3 996.8,897.8 997,898.7 997.1,898.4 997.3,898.1 997.4,898.4 997.5,897.4 997.7,898.5 997.8,897.4 998,897.4 998.1,897.3 998.3,897 998.4,897.1 998.5,896.8 998.7,895.5 998.8,895.4 999,894.9 999.1,893.2 999.2,891.2 999.4,887.2 999.5,882.9 999.7,879.5 999.8,874.7 999.9,871.4 1000.1,867.9 1000.2,867.7 1000.4,868.9 1000.5,870.2 1000.6,874.6 1000.8,875.1 1000.9,879.2 1001.1,880.4 1001.2,883.5 1001.3,886.6 1001.5,889.3 1001.6,892 1001.8,893.9 1001.9,894.6 1002.1,896 1002.2,896.2 1002.3,897.2 1002.5,897.1 1002.6,897.3 1002.8,897.9 1002.9,897.8 1003,897.6 1003.2,897.9 1003.3,897.9 1003.5,898.3 1003.6,898.1 1003.7,898.7 1003.9,898.5 1004,897.9 1004.2,898.2 1004.3,898.4 1004.4,898.4 1004.6,898.8 1004.7,898.3 1004.9,898.8 1005,898.7 1005.1,898.3 1005.3,898.7 1005.4,898.7 1005.6,898.6 1005.7,898.5 1005.8,898.2 1006,899.1 1006.1,898.7 1006.3,898.4 1006.4,898.7 1006.6,898.7 1006.7,898.8 1006.8,898.6 1007,898.4 1007.1,898.2 1007.3,898.4 1007.4,898.1 1007.5,898.4 1007.7,898.9 1007.8,898.2 1008,898.9 1008.1,898.3 1008.2,898.2 1008.4,898.5 1008.5,898.1 1008.7,898 1008.8,897.6 1008.9,897.4 1009.1,896.5 1009.2,896.1 1009.4,894.7 1009.5,893.5 1009.6,891.6 1009.8,889.6 1009.9,887.8 1010.1,885.1 1010.2,884.3 1010.4,886 1010.5,886 1010.6,885.2 1010.8,887.3 1010.9,886.5 1011.1,888.8 1011.2,890.1 1011.3,891.9 1011.5,893.2 1011.6,894.3 1011.8,895.1 1011.9,896.3 1012,897 1012.2,897.8 1012.3,897.9 1012.5,898.1 1012.6,898.2 1012.7,898.5 1012.9,898.7 1013,898.5 1013.2,899.2 1013.3,899 1013.4,898.8 1013.6,898.5 1013.7,898.9 1013.9,899 1014,898.5 1014.1,898.8 1014.3,898.4 1014.4,898.8 1014.6,899 1014.7,898.9 1014.9,898.3 1015,898.4 1015.1,898.8 1015.3,898.6 1015.4,899.2 1015.6,898.5 1015.7,898.8 1015.8,898.9 1016,898.9 1016.1,898.8 1016.3,899 1016.4,899 1016.5,899.2 1016.7,898.5 1016.8,899.1 1017,898.9 1017.1,898.6 1017.2,898.6 1017.4,898.5 1017.5,899.1 1017.7,899 1017.8,898.9 1017.9,899.4 1018.1,898.6 1018.2,899.3 1018.4,898.9 1018.5,898.6 1018.7,898.6 1018.8,898.9 1018.9,898.5 1019.1,898.5 1019.2,899.2 1019.4,898.8 1019.5,898.5 1019.6,898.5 1019.8,898.6 1019.9,898.5 1020.1,897.7 1020.2,898.4 1020.3,897.9 1020.5,898.4 1020.6,897.6 1020.8,897 1020.9,896.9 1021,896.1 1021.2,894 1021.3,893.3 1021.5,890.9 1021.6,890.2 1021.7,886.6 1021.9,887.4 1022,886.3 1022.2,886.4 1022.3,886.9 1022.5,887.7 1022.6,887.7 1022.7,888.3 1022.9,889.3 1023,891 1023.2,892.6 1023.3,894.9 1023.4,895.1 1023.6,896.3 1023.7,896.6 1023.9,897.7 1024,898 1024.1,898.2 1024.3,898 1024.4,898.3 1024.6,898.7 1024.7,899 1024.8,898.7 1025,898.8 1025.1,898.8 1025.3,898.7 1025.4,898.5 1025.5,898.5 1025.7,899 1025.8,899 1026,898.4 1026.1,898.9 1026.2,898.6 1026.4,898.8 1026.5,898.7 1026.7,898.4 1026.8,898.9 1027,898.6 1027.1,898.7 1027.2,898.9 1027.4,899 1027.5,899 1027.7,898.5 1027.8,898.6 1027.9,899.1 1028.1,898.7 1028.2,899.4 1028.4,898.8 1028.5,898.3 1028.6,899.2 1028.8,898.7 1028.9,899 1029.1,898.8 1029.2,899.1 1029.3,898.7 1029.5,899.4 1029.6,898.7 1029.8,898.6 1029.9,898.5 1030,897.7 1030.2,898.5 1030.3,898.2 1030.5,898.2 1030.6,897.3 1030.8,897.2 1030.9,897.3 1031,896.3 1031.2,896.2 1031.3,895.5 1031.5,895.6 1031.6,895.8 1031.7,896.2 1031.9,896.8 1032,896.3 1032.2,895.8 1032.3,896.5 1032.4,897 1032.6,896.8 1032.7,896.9 1032.9,896.5 1033,898 1033.1,898 1033.3,898.4 1033.4,898.4 1033.6,898 1033.7,898.5 1033.8,898.9 1034,898.2 1034.1,898.1 1034.3,898.4 1034.4,899 1034.5,899 1034.7,898.3 1034.8,899 1035,898.8 1035.1,899.1 1035.3,898.1 1035.4,898.8 1035.5,898.7 1035.7,898.8 1035.8,898.8 1036,898.9 1036.1,898.2 1036.2,898.7 1036.4,897.9 1036.5,898.7 1036.7,898.1 1036.8,897.8 1036.9,898.3 1037.1,897.7 1037.2,897.6 1037.4,897.4 1037.5,896.5 1037.6,896.2 1037.8,894.4 1037.9,893.5 1038.1,890.7 1038.2,888.5 1038.3,887 1038.5,887.3 1038.6,886.8 1038.8,886 1038.9,887 1039.1,887.7 1039.2,889.2 1039.3,887.9 1039.5,885.9 1039.6,886.3 1039.8,886 1039.9,884.7 1040,882.2 1040.2,882.2 1040.3,884.1 1040.5,884.8 1040.6,885.3 1040.7,885.8 1040.9,888 1041,888.7 1041.2,890.6 1041.3,890.6 1041.4,891.3 1041.6,892.6 1041.7,894.8 1041.9,895 1042,896.5 1042.1,897.3 1042.3,897.1 1042.4,898.2 1042.6,898.1 1042.7,898.4 1042.8,898.3 1043,898.2 1043.1,898.5 1043.3,898.7 1043.4,898.7 1043.6,899.3 1043.7,898.6 1043.8,898 1044,898.5 1044.1,898.3 1044.3,898.7 1044.4,898.7 1044.5,898.6 1044.7,898.5 1044.8,898.5 1045,899 1045.1,898.7 1045.2,899.2 1045.4,898.4 1045.5,898.7 1045.7,898.8 1045.8,899.1 1045.9,898.6 1046.1,898.4 1046.2,898.6 1046.4,898.4 1046.5,899 1046.6,898.4 1046.8,898.7 1046.9,899.5 1047.1,898.6 1047.2,899 1047.4,898.7 1047.5,898.9 1047.6,898.9 1047.8,898.3 1047.9,898.8 1048.1,898.5 1048.2,898.4 1048.3,898.7 1048.5,898.9 1048.6,898.5 1048.8,898.5 1048.9,898.8 1049,898.4 1049.2,898 1049.3,898.1 1049.5,897.9 1049.6,897.9 1049.7,898.2 1049.9,898.2 1050,898.5 1050.2,897.7 1050.3,898.3 1050.4,897.8 1050.6,897.4 1050.7,897.8 1050.9,898.3 1051,898.1 1051.2,897.7 1051.3,897.1 1051.4,897.5 1051.6,897.3 1051.7,897.5 1051.9,896.8 1052,896.7 1052.1,896.3 1052.3,896.7 1052.4,895.8 1052.6,896.3 1052.7,895.7 1052.8,895.2 1053,894.6 1053.1,893.7 1053.3,894.2 1053.4,892.2 1053.5,891 1053.7,889.7 1053.8,886.3 1054,881.6 1054.1,876.2 1054.2,867.8 1054.4,855.3 1054.5,842.8 1054.7,824.4 1054.8,808.8 1054.9,795.1 1055.1,787.4 1055.2,786.9 1055.4,796.4 1055.5,802.1 1055.7,812.7 1055.8,816.8 1055.9,821.3 1056.1,827.5 1056.2,836.8 1056.4,846.3 1056.5,856.2 1056.6,864.5 1056.8,872.4 1056.9,878.6 1057.1,884.9 1057.2,887.2 1057.3,889.3 1057.5,891.5 1057.6,892.8 1057.8,893.3 1057.9,893.7 1058,894.3 1058.2,894.7 1058.3,896.2 1058.5,895.4 1058.6,896.4 1058.7,896.2 1058.9,896.9 1059,896.7 1059.2,897.2 1059.3,897.2 1059.5,896.6 1059.6,897.8 1059.7,897.1 1059.9,897.5 1060,898 1060.2,897.3 1060.3,897.7 1060.4,898 1060.6,897.7 1060.7,898.2 1060.9,897.4 1061,898.5 1061.1,898.2 1061.3,898.7 1061.4,898 1061.6,897.8 1061.7,897.8 1061.8,897.6 1062,898.1 1062.1,898.3 1062.3,897.8 1062.4,898.3 1062.5,898 1062.7,898.3 1062.8,898.4 1063,898.1 1063.1,897.7 1063.2,897.8 1063.4,898 1063.5,898.9 1063.7,898 1063.8,897.9 1064,897.8 1064.1,898.2 1064.2,897.6 1064.4,897.8 1064.5,898.5 1064.7,897.5 1064.8,897.2 1064.9,897.6 1065.1,897.8 1065.2,896.9 1065.4,897.1 1065.5,898 1065.6,896.8 1065.8,896.9 1065.9,896.8 1066.1,897.4 1066.2,897.3 1066.3,896.4 1066.5,895.5 1066.6,895.9 1066.8,895.6 1066.9,895.6 1067,895.1 1067.2,894 1067.3,894.3 1067.5,892.4 1067.6,892.2 1067.8,891.2 1067.9,890 1068,888.2 1068.2,884.9 1068.3,881.1 1068.5,873.3 1068.6,865.8 1068.7,849.1 1068.9,836 1069,820.4 1069.2,799.9 1069.3,785.2 1069.4,778.6 1069.6,778.3 1069.7,787.6 1069.9,796.3 1070,805.2 1070.1,810.6 1070.3,816.6 1070.4,820.2 1070.6,830.8 1070.7,835.6 1070.8,847.5 1071,857.7 1071.1,867.7 1071.3,874.4 1071.4,881 1071.5,885.2 1071.7,888.3 1071.8,890.8 1072,892.4 1072.1,892.8 1072.3,893.5 1072.4,894.5 1072.5,894.4 1072.7,895.3 1072.8,895.5 1073,895.6 1073.1,896 1073.2,896.6 1073.4,897.1 1073.5,897.2 1073.7,897.4 1073.8,896.9 1073.9,898.2 1074.1,896.7 1074.2,897.8 1074.4,897.2 1074.5,897.6 1074.6,897.5 1074.8,898.2 1074.9,897.5 1075.1,897.9 1075.2,897.6 1075.3,898.2 1075.5,897.8 1075.6,898 1075.8,897.6 1075.9,897.3 1076.1,897.5 1076.2,897.1 1076.3,896.8 1076.5,896.8 1076.6,896.6 1076.8,897 1076.9,895.6 1077,895.7 1077.2,895.8 1077.3,895.5 1077.5,895.9 1077.6,895.9 1077.7,895.7 1077.9,896.7 1078,896.4 1078.2,896.3 1078.3,897.2 1078.4,897.3 1078.6,896.6 1078.7,896.6 1078.9,897.5 1079,897.5 1079.1,898.2 1079.3,897.7 1079.4,898.2 1079.6,898.3 1079.7,898.3 1079.9,898.7 1080,898.8 1080.1,898.6 1080.3,899 1080.4,898.8 1080.6,899.5 1080.7,899 1080.8,898.6 1081,898.4 1081.1,898.6 1081.3,899 1081.4,898.7 1081.5,899.1 1081.7,899.1 1081.8,898.5 1082,898.9 1082.1,898.9 1082.2,898.7 1082.4,898.5 1082.5,898.7 1082.7,898.8 1082.8,898.6 1082.9,898.7 1083.1,898.8 1083.2,899.4 1083.4,898.9 1083.5,898.7 1083.6,898.9 1083.8,898 1083.9,897.8 1084.1,897.9 1084.2,898.6 1084.4,898.1 1084.5,898 1084.6,897.8 1084.8,898.1 1084.9,896.8 1085.1,895.9 1085.2,895.3 1085.3,893.5 1085.5,893.1 1085.6,890.9 1085.8,888.8 1085.9,888.6 1086,887.4 1086.2,888 1086.3,887.8 1086.5,889.9 1086.6,890 1086.7,891.1 1086.9,890.7 1087,891.7 1087.2,892 1087.3,892.6 1087.4,894 1087.6,894.9 1087.7,895.7 1087.9,896.6 1088,896.9 1088.2,897.8 1088.3,897.8 1088.4,898.2 1088.6,898.4 1088.7,898.7 1088.9,899 1089,898.7 1089.1,898.3 1089.3,898.7 1089.4,898.1 1089.6,898.9 1089.7,898.7 1089.8,899.1 1090,898.3 1090.1,899.1 1090.3,898.5 1090.4,898.6 1090.5,897.9 1090.7,898.2 1090.8,898.4 1091,898.6 1091.1,898 1091.2,898.7 1091.4,898.9 1091.5,898.2 1091.7,898.5 1091.8,898.6 1091.9,898.2 1092.1,898.1 1092.2,898.7 1092.4,897.8 1092.5,897.3 1092.7,897.9 1092.8,898.1 1092.9,897.2 1093.1,896.9 1093.2,895.9 1093.4,894.9 1093.5,893.9 1093.6,891.3 1093.8,890.7 1093.9,887.2 1094.1,883.6 1094.2,880.6 1094.3,879 1094.5,878.1 1094.6,880.4 1094.8,882.8 1094.9,882.3 1095,883.4 1095.2,885.1 1095.3,886.3 1095.5,886.5 1095.6,886.6 1095.7,888.3 1095.9,889.4 1096,891 1096.2,892.8 1096.3,894.8 1096.5,895.2 1096.6,896.2 1096.7,896.8 1096.9,897.1 1097,897.5 1097.2,897.9 1097.3,897.6 1097.4,898 1097.6,897.8 1097.7,897.5 1097.9,897.5 1098,898.4 1098.1,898 1098.3,898.1 1098.4,897.5 1098.6,897.8 1098.7,897.1 1098.8,897.5 1099,897 1099.1,897.2 1099.3,896.8 1099.4,896.2 1099.5,895.2 1099.7,895.3 1099.8,892.9 1100,891.5 1100.1,887.7 1100.2,885.1 1100.4,879.7 1100.5,873.6 1100.7,868.8 1100.8,867.9 1101,864.8 1101.1,868.3 1101.2,870.7 1101.4,873.2 1101.5,875.7 1101.7,876.9 1101.8,877.7 1101.9,877.9 1102.1,879.6 1102.2,882.2 1102.4,885.2 1102.5,887.9 1102.6,889.9 1102.8,891.6 1102.9,893.4 1103.1,894.9 1103.2,895.4 1103.3,896.4 1103.5,896.5 1103.6,896.5 1103.8,896.9 1103.9,896.3 1104,896.3 1104.2,896.6 1104.3,895.8 1104.5,895.3 1104.6,894.3 1104.8,893.1 1104.9,891.3 1105,890.4 1105.2,889.3 1105.3,888.4 1105.5,888.6 1105.6,888.9 1105.7,891.1 1105.9,891.2 1106,892.9 1106.2,892.3 1106.3,893.1 1106.4,893.3 1106.6,893.2 1106.7,894.3 1106.9,894.7 1107,896.5 1107.1,895.5 1107.3,897.6 1107.4,897.3 1107.6,896.7 1107.7,898 1107.8,897.1 1108,897.4 1108.1,897.8 1108.3,897.9 1108.4,897.9 1108.6,897.7 1108.7,897.4 1108.8,897.3 1109,898.4 1109.1,897.3 1109.3,897.4 1109.4,897.9 1109.5,897.1 1109.7,897 1109.8,896.8 1110,897.1 1110.1,896.6 1110.2,896.2 1110.4,896.7 1110.5,896.4 1110.7,896.1 1110.8,895.1 1110.9,895.1 1111.1,894.9 1111.2,894.4 1111.4,893.6 1111.5,891.6 1111.6,889.4 1111.8,886.4 1111.9,883.8 1112.1,878 1112.2,870.2 1112.3,860 1112.5,848.7 1112.6,832 1112.8,821.3 1112.9,814.7 1113.1,815.9 1113.2,814.9 1113.3,823.6 1113.5,832.5 1113.6,838.1 1113.8,843.4 1113.9,843.6 1114,846 1114.2,847.2 1114.3,852.6 1114.5,860.4 1114.6,867.4 1114.7,872.5 1114.9,878.7 1115,884.3 1115.2,888.2 1115.3,890.6 1115.4,892 1115.6,894.1 1115.7,893.9 1115.9,895.3 1116,895.9 1116.1,895.8 1116.3,895.4 1116.4,896.6 1116.6,896.7 1116.7,897.2 1116.9,896.8 1117,896.9 1117.1,897.1 1117.3,897.4 1117.4,897.2 1117.6,897.1 1117.7,897.5 1117.8,897.5 1118,897.7 1118.1,897.6 1118.3,897 1118.4,897.7 1118.5,897.3 1118.7,896.9 1118.8,897.4 1119,896.9 1119.1,896.7 1119.2,897.3 1119.4,896.2 1119.5,896.6 1119.7,895.8 1119.8,895.8 1119.9,895 1120.1,893 1120.2,889.9 1120.4,886.4 1120.5,882.3 1120.6,878.2 1120.8,872.8 1120.9,867.7 1121.1,863.3 1121.2,862.2 1121.4,863 1121.5,865.1 1121.6,868.7 1121.8,872.8 1121.9,875.4 1122.1,876.1 1122.2,873.8 1122.3,876.7 1122.5,876.2 1122.6,878.6 1122.8,881.7 1122.9,885.8 1123,887 1123.2,890.3 1123.3,892.4 1123.5,893.6 1123.6,894 1123.7,893.2 1123.9,894.5 1124,893.5 1124.2,892 1124.3,889.9 1124.4,888.5 1124.6,885.9 1124.7,882.9 1124.9,879.9 1125,879.5 1125.2,880.1 1125.3,881.3 1125.4,883.3 1125.6,884.5 1125.7,886.8 1125.9,886.9 1126,887.5 1126.1,886.9 1126.3,887.4 1126.4,889.1 1126.6,889.9 1126.7,892.2 1126.8,893 1127,895 1127.1,896.1 1127.3,897.2 1127.4,897.5 1127.5,897.7 1127.7,898.5 1127.8,898 1128,897.9 1128.1,898.1 1128.2,898.3 1128.4,898.3 1128.5,898.7 1128.7,898.7 1128.8,898.4 1128.9,898.7 1129.1,898.4 1129.2,898.9 1129.4,898.6 1129.5,898.4 1129.7,898.9 1129.8,898.4 1129.9,898.4 1130.1,899.6 1130.2,898.2 1130.4,899.4 1130.5,898.2 1130.6,899.2 1130.8,899.6 1130.9,899.4 1131.1,898.9 1131.2,899.3 1131.3,899.2 1131.5,898.7 1131.6,899.4 1131.8,898.9 1131.9,898.7 1132,899.6 1132.2,899.4 1132.3,899 1132.5,899.1 1132.6,899 1132.7,899.7 1132.9,899.4 1133,899 1133.2,899 1133.3,898.8 1133.5,899.3 1133.6,899.4 1133.7,899.4 1133.9,899.4 1134,899.8 1134.2,898.7 1134.3,899.3 1134.4,899.4 1134.6,899.4 1134.7,899 1134.9,899.2 1135,899.4 1135.1,898.9 1135.3,899.1 1135.4,899.3 1135.6,899.2 1135.7,898.9 1135.8,899 1136,899.2 1136.1,898.9 1136.3,899.8 1136.4,899 1136.5,899.4 1136.7,899.4 1136.8,899.3 1137,898.7 1137.1,899.2 1137.2,899.2 1137.4,899 1137.5,899.8 1137.7,899.2 1137.8,899 1138,899.5 1138.1,899 1138.2,899.4 1138.4,899.6 1138.5,898.9 1138.7,899.1 1138.8,898.9 1138.9,899.1 1139.1,899.4 1139.2,898.8 1139.4,898.9 1139.5,898.9 1139.6,899.1 1139.8,899.3 1139.9,898.5 1140.1,898.6 1140.2,898.7 1140.3,898.8 1140.5,898 1140.6,898.5 1140.8,898.3 1140.9,897 1141,897.2 1141.2,896.7 1141.3,896.5 1141.5,895.5 1141.6,895.9 1141.8,895.6 1141.9,896 1142,895.6 1142.2,896.3 1142.3,895.9 1142.5,895.9 1142.6,895.8 1142.7,895.7 1142.9,896.7 1143,897 1143.2,896.6 1143.3,897.3 1143.4,896.6 1143.6,897 1143.7,898 1143.9,897.8 1144,897.7 1144.1,898.6 1144.3,898.6 1144.4,898.6 1144.6,898.2 1144.7,898.6 1144.8,898.9 1145,898.8 1145.1,898.9 1145.3,898.9 1145.4,898.8 1145.6,898.9 1145.7,898.8 1145.8,899 1146,899.1 1146.1,899.1 1146.3,899.5 1146.4,899.2 1146.5,898.5 1146.7,899 1146.8,898.8 1147,898.7 1147.1,899.1 1147.2,899.1 1147.4,898.8 1147.5,899.2 1147.7,898.6 1147.8,898.7 1147.9,898.8 1148.1,898.7 1148.2,898.6 1148.4,898.7 1148.5,899.5 1148.6,898.5 1148.8,898.9 1148.9,898.7 1149.1,898.6 1149.2,898.5 1149.3,898.8 1149.5,898.7 1149.6,898 1149.8,897.7 1149.9,897.3 1150.1,897.6 1150.2,896.7 1150.3,895.6 1150.5,895 1150.6,893.6 1150.8,890.4 1150.9,889.8 1151,886.3 1151.2,883 1151.3,879.1 1151.5,873.5 1151.6,874.3 1151.7,873.2 1151.9,874.6 1152,876.9 1152.2,878 1152.3,880.9 1152.4,881.2 1152.6,881.7 1152.7,883.3 1152.9,882.3 1153,884.6 1153.1,884.9 1153.3,886.3 1153.4,889.5 1153.6,890.9 1153.7,892.4 1153.9,893.9 1154,895.2 1154.1,895.4 1154.3,896.9 1154.4,896.9 1154.6,896.9 1154.7,898.1 1154.8,898.2 1155,898.6 1155.1,898.1 1155.3,898 1155.4,899.1 1155.5,898.9 1155.7,898.8 1155.8,898 1156,898.9 1156.1,898.7 1156.2,899.2 1156.4,898.6 1156.5,899.2 1156.7,898.9 1156.8,899.2 1156.9,899 1157.1,899 1157.2,898.9 1157.4,898.9 1157.5,898.5 1157.6,899.2 1157.8,898.6 1157.9,898.9 1158.1,899.1 1158.2,898.9 1158.4,899 1158.5,898.8 1158.6,898.8 1158.8,898.9 1158.9,899 1159.1,899.5 1159.2,898.8 1159.3,898.7 1159.5,898.9 1159.6,898.9 1159.8,899.3 1159.9,898.9 1160,898.8 1160.2,899.4 1160.3,899.1 1160.5,899.2 1160.6,898.6 1160.7,899.1 1160.9,899.5 1161,898.9 1161.2,898.6 1161.3,899 1161.4,899 1161.6,898.8 1161.7,898.4 1161.9,898.9 1162,898.9 1162.2,898.6 1162.3,899 1162.4,899.2 1162.6,898.6 1162.7,898.7 1162.9,898.4 1163,898.4 1163.1,898.2 1163.3,898.7 1163.4,898.1 1163.6,898.4 1163.7,897.9 1163.8,897.9 1164,897 1164.1,897.6 1164.3,897.7 1164.4,896.2 1164.5,895.6 1164.7,894.7 1164.8,892.7 1165,890 1165.1,888.8 1165.2,886.8 1165.4,883.1 1165.5,881.4 1165.7,881.2 1165.8,881.8 1165.9,881.8 1166.1,884 1166.2,885.1 1166.4,885.8 1166.5,884.9 1166.7,883.5 1166.8,883 1166.9,879.9 1167.1,880.3 1167.2,876.3 1167.4,874.8 1167.5,869.6 1167.6,866.3 1167.8,867 1167.9,865.5 1168.1,866 1168.2,870.1 1168.3,872.8 1168.5,875.9 1168.6,877.4 1168.8,879.5 1168.9,880.4 1169,880.3 1169.2,880 1169.3,880.6 1169.5,882.3 1169.6,883.5 1169.7,886.9 1169.9,888.9 1170,890.7 1170.2,892.9 1170.3,893.5 1170.5,894.8 1170.6,895.5 1170.7,896.7 1170.9,896.7 1171,896.6 1171.2,896.5 1171.3,897.1 1171.4,896.9 1171.6,896.9 1171.7,896.5 1171.9,894.7 1172,894.1 1172.1,892.5 1172.3,890.7 1172.4,889.5 1172.6,887.8 1172.7,887.2 1172.8,886.4 1173,886 1173.1,886.4 1173.3,887.9 1173.4,890 1173.5,891 1173.7,890.8 1173.8,891.1 1174,891.2 1174.1,891.3 1174.3,891.1 1174.4,892.1 1174.5,892.4 1174.7,893.8 1174.8,895 1175,896.4 1175.1,896.6 1175.2,897 1175.4,897.7 1175.5,898.4 1175.7,898.9 1175.8,898.6 1175.9,898.1 1176.1,899 1176.2,898.9 1176.4,898.8 1176.5,898.6 1176.6,899.2 1176.8,899 1176.9,898.9 1177.1,899.4 1177.2,899 1177.3,899.4 1177.5,899.1 1177.6,899 1177.8,899.1 1177.9,899.5 1178,899 1178.2,899 1178.3,899.2 1178.5,899 1178.6,899.4 1178.8,899.5 1178.9,899.3 1179,899.1 1179.2,899 1179.3,899.5 1179.5,899.2 1179.6,899.2 1179.7,899.4 1179.9,899.8 1180,899.8 1180.2,899.1 1180.3,899.7 1180.4,899.8 1180.6,899.7 1180.7,899.4 1180.9,899 1181,899.2 1181.1,899.5 1181.3,899.4 1181.4,899.2 1181.6,899.3 1181.7,899.8 1181.8,899 1182,899.1 1182.1,899.6 1182.3,899.4 1182.4,899.2 1182.6,899.2 1182.7,899.3 1182.8,899.2 1183,898.7 1183.1,899.3 1183.3,898.9 1183.4,899.1 1183.5,899.5 1183.7,898.9 1183.8,899 1184,898.7 1184.1,898.5 1184.2,898.5 1184.4,898.6 1184.5,898.4 1184.7,898.1 1184.8,898.3 1184.9,898.1 1185.1,897.1 1185.2,897.3 1185.4,896.5 1185.5,895.1 1185.6,894.8 1185.8,894.1 1185.9,894.1 1186.1,893.2 1186.2,893.8 1186.3,893.8 1186.5,893.6 1186.6,894.1 1186.8,893.5 1186.9,894.5 1187.1,895.2 1187.2,894.5 1187.3,894.8 1187.5,894.8 1187.6,896 1187.8,896.1 1187.9,897 1188,896.4 1188.2,896.9 1188.3,897.4 1188.5,897.1 1188.6,898.1 1188.7,898.3 1188.9,898.7 1189,898.9 1189.2,898.8 1189.3,898.9 1189.4,899.1 1189.6,899.4 1189.7,899.5 1189.9,899.3 1190,899.2 1190.1,899.5 1190.3,899.4 1190.4,899.4 1190.6,899.6 1190.7,899.7 1190.9,899.4 1191,898.9 1191.1,899.2 1191.3,899.4 1191.4,899.6 1191.6,899.6 1191.7,899.1 1191.8,899.7 1192,898.9 1192.1,899.4 1192.3,899.3 1192.4,899.5 1192.5,899.1 1192.7,899.1 1192.8,899.6 1193,898.9 1193.1,899.3 1193.2,899.8 1193.4,899.3 1193.5,899.3 1193.7,899.3 1193.8,899.1 1193.9,899.1 1194.1,899.7 1194.2,899.4 1194.4,899.4 1194.5,899.3 1194.6,899.8 1194.8,899.3 1194.9,899.3 1195.1,898.8 1195.2,899.5 1195.4,899.4 1195.5,899.1 1195.6,899.2 1195.8,899 1195.9,898.8 1196.1,899.4 1196.2,899.1 1196.3,898.9 1196.5,899.2 1196.6,898.3 1196.8,898.8 1196.9,898.8 1197,899.2 1197.2,898.8 1197.3,899 1197.5,897.9 1197.6,897.9 1197.7,897.1 1197.9,896.2 1198,895.2 1198.2,894.2 1198.3,892.2 1198.4,891.5 1198.6,890.4 1198.7,889 1198.9,887.2 1199,887.1 1199.2,889.1 1199.3,890.2 1199.4,890.8 1199.6,892.5 1199.7,892.6 1199.9,893.2 1200,892.3 1200.1,893.3 1200.3,892.4 1200.4,892.4 1200.6,891.6 1200.7,891.4 1200.8,891.6 1201,890.2 1201.1,890.6 1201.3,890.3 1201.4,889.1 1201.5,887.7 1201.7,887.6 1201.8,887.1 1202,889.1 1202.1,891 1202.2,892.2 1202.4,892.1 1202.5,894.3 1202.7,893.2 1202.8,893 1203,893.4 1203.1,893.1 1203.2,892.8 1203.4,893.2 1203.5,894 1203.7,895 1203.8,896.3 1203.9,897.3 1204.1,898.2 1204.2,897.4 1204.4,898 1204.5,899 1204.6,898.5 1204.8,899 1204.9,899.2 1205.1,899.4 1205.2,898.6 1205.3,899.6 1205.5,899.6 1205.6,899.1 1205.8,899.1 1205.9,899.2 1206,899.7 1206.2,899.4 1206.3,899.6 1206.5,899.6 1206.6,898.9 1206.7,899.4 1206.9,899.3 1207,899.7 1207.2,899.6 1207.3,899.4 1207.5,899.2 1207.6,899.6 1207.7,899.1 1207.9,898.9 1208,900 1208.2,899.6 1208.3,899.4 1208.4,899.6 1208.6,899.1 1208.7,899.5 1208.9,899.5 1209,900 1209.1,899.3 1209.3,899.7 1209.4,899.5 1209.6,899.7 1209.7,899.8 1209.8,899.7 1210,900 1210.1,899.7 1210.3,899.3 1210.4,899.4 1210.5,899.9 1210.7,899.4 1210.8,899.7 1211,899.8 1211.1,899.5 1211.3,899.5 1211.4,899.8 1211.5,899.4 1211.7,899.7 1211.8,899.1 1212,900.1 1212.1,899.7 1212.2,899.7 1212.4,899.9 1212.5,900 1212.7,899.3 1212.8,899.6 1212.9,900 1213.1,899.8 1213.2,899.8 1213.4,899.6 1213.5,899.9 1213.6,899.3 1213.8,899.7 1213.9,899.3 1214.1,899.5 1214.2,899.8 1214.3,899.7 1214.5,899.6 1214.6,899.6 1214.8,899.6 1214.9,899.5 1215,899.4 1215.2,900 1215.3,900.1 1215.5,899.9 1215.6,899.4 1215.8,899.7 1215.9,899.9 1216,899.6 1216.2,899.5 1216.3,900 1216.5,900 1216.6,899.7 1216.7,899.7 1216.9,899.9 1217,899.1 1217.2,899.4 1217.3,899.7 1217.4,899.5 1217.6,900 1217.7,899.5 1217.9,899.8 1218,899.9 1218.1,900.1 1218.3,899.5 1218.4,899.7 1218.6,899.9 1218.7,899.4 1218.8,899.8 1219,899.6 1219.1,899.8 1219.3,899.6 1219.4,900 1219.6,899.8 1219.7,899.7 1219.8,899.9 1220,899.9 1220.1,899.5 1220.3,899.8 1220.4,899.4 1220.5,899.6 1220.7,899.7 1220.8,900.1 1221,899.3 1221.1,899.3 1221.2,899.6 1221.4,899.7 1221.5,899.7 1221.7,899.8 1221.8,899.8 1221.9,899.6 1222.1,900.1 1222.2,899.7 1222.4,899.6 1222.5,900.2 1222.6,899.9 1222.8,900.1 1222.9,900.1 1223.1,899.6 1223.2,900 1223.3,899 1223.5,899.8 1223.6,900 1223.8,899.8 1223.9,899.7 1224.1,899.7 1224.2,899.7 1224.3,899.7 1224.5,899.5 1224.6,899.4 1224.8,899.7 1224.9,899.6 1225,899.9 1225.2,899.9 1225.3,899.8 1225.5,899.4 1225.6,899.9 1225.7,899.7 1225.9,899.7 1226,899.5 1226.2,899.9 1226.3,899.8 1226.4,899.4 1226.6,899.7 1226.7,899.9 1226.9,899.4 1227,899.7 1227.1,899.9 1227.3,899.5 1227.4,899.3 1227.6,899.8 1227.7,900 1227.9,900.3 1228,899.2 1228.1,899.9 1228.3,899.8 1228.4,900 1228.6,899.8 1228.7,900 1228.8,899.3 1229,899.5 1229.1,899.9 1229.3,900 1229.4,899.6 1229.5,899.9 1229.7,899.4 1229.8,899.6 1230,899.7 1230.1,900 1230.2,899.6 1230.4,900 1230.5,899.4 1230.7,900.2 1230.8,899.8 1230.9,899.1 1231.1,899.8 1231.2,899.5 1231.4,899.4 1231.5,899.6 1231.7,899.7 1231.8,899.4 1231.9,899.4 1232.1,899.8 1232.2,899.2 1232.4,899.3 1232.5,899.9 1232.6,899.4 1232.8,899.4 1232.9,899.5 1233.1,899.7 1233.2,899.8 1233.3,899.4 1233.5,899.9 1233.6,899.6 1233.8,899.9 1233.9,899.6 1234,899.3 1234.2,899.7 1234.3,899 1234.5,898.8 1234.6,898.9 1234.7,898.6 1234.9,898.2 1235,898 1235.2,898.4 1235.3,897.2 1235.4,896.6 1235.6,895.2 1235.7,894.7 1235.9,892.5 1236,891.4 1236.2,890 1236.3,890.4 1236.4,890.3 1236.6,892 1236.7,892.1 1236.9,893.1 1237,894.6 1237.1,894.6 1237.3,895.5 1237.4,894.7 1237.6,895 1237.7,894.6 1237.8,893.5 1238,894.1 1238.1,894.1 1238.3,894.9 1238.4,896.1 1238.5,896.2 1238.7,897.3 1238.8,898 1239,898.5 1239.1,899 1239.2,898.8 1239.4,899.1 1239.5,899.1 1239.7,899.3 1239.8,899.2 1240,899.6 1240.1,899.4 1240.2,899.2 1240.4,899.1 1240.5,899.5 1240.7,899.8 1240.8,899.2 1240.9,899.2 1241.1,899.7 1241.2,899.2 1241.4,899.5 1241.5,899.8 1241.6,899.6 1241.8,899.9 1241.9,899.7 1242.1,899.7 1242.2,899.7 1242.3,899.4 1242.5,900 1242.6,900.4 1242.8,899.5 1242.9,899.8 1243,899.4 1243.2,899.5 1243.3,899.3 1243.5,900.2 1243.6,899.3 1243.7,899.7 1243.9,899.8 1244,899.3 1244.2,899.4 1244.3,900.1 1244.5,899.9 1244.6,899.3 1244.7,900.1 1244.9,899.6 1245,899.6 1245.2,899.8 1245.3,899.9 1245.4,899.5 1245.6,899.8 1245.7,900 1245.9,899.6 1246,900.1"/>
<rect x="753.6" y="545.6" width="492.4" height="366.4" fill="none" stroke="#000" stroke-width="1.45"/>
<path d="M753.6,902.7h7M753.6,855.0h7M753.6,807.4h7M753.6,759.7h7M753.6,712.0h7M753.6,664.4h7M753.6,616.7h7M753.6,569.0h7M753.6,878.9h4M753.6,831.2h4M753.6,783.5h4M753.6,735.9h4M753.6,688.2h4M753.6,640.5h4M753.6,592.8h4M788.8,912.0v-4M823.9,912.0v-7M859.1,912.0v-4M894.3,912.0v-7M929.5,912.0v-4M964.6,912.0v-7M999.8,912.0v-4M1035.0,912.0v-7M1070.1,912.0v-4M1105.3,912.0v-7M1140.5,912.0v-4M1175.7,912.0v-7M1210.8,912.0v-4" stroke="#000" stroke-width="1.45" fill="none"/>
<text x="745.8" y="906.2" text-anchor="end" class="t">0</text>
<text x="745.8" y="858.5" text-anchor="end" class="t">1000</text>
<text x="745.8" y="810.9" text-anchor="end" class="t">2000</text>
<text x="745.8" y="763.2" text-anchor="end" class="t">3000</text>
<text x="745.8" y="715.5" text-anchor="end" class="t">4000</text>
<text x="745.8" y="667.9" text-anchor="end" class="t">5000</text>
<text x="745.8" y="620.2" text-anchor="end" class="t">6000</text>
<text x="745.8" y="572.5" text-anchor="end" class="t">7000</text>
<text x="753.6" y="930.9" text-anchor="middle" class="t">10</text>
<text x="823.9" y="930.9" text-anchor="middle" class="t">20</text>
<text x="894.3" y="930.9" text-anchor="middle" class="t">30</text>
<text x="964.6" y="930.9" text-anchor="middle" class="t">40</text>
<text x="1035.0" y="930.9" text-anchor="middle" class="t">50</text>
<text x="1105.3" y="930.9" text-anchor="middle" class="t">60</text>
<text x="1175.7" y="930.9" text-anchor="middle" class="t">70</text>
<text x="1246.0" y="930.9" text-anchor="middle" class="t">80</text>
<text x="960.8" y="960.0" class="ax">2Theta/</text>
<circle cx="1024.6" cy="948.45" r="1.95" fill="none" stroke="#000" stroke-width="0.85"/>
<text transform="translate(687.1,730.2) rotate(-90)" text-anchor="middle" class="ax">Intensity</text>
<use href="#s_club" x="1130.6" y="565.7"/>
<text x="1140.7" y="569.8" class="lg">Kotoite,syn</text>
<use href="#s_diamond" x="1130.6" y="585.8"/>
<text x="1140.7" y="589.5" class="lg">Suanite,syn</text>
<use href="#s_heart" x="1130.6" y="605.1"/>
<text x="1140.7" y="609.1" class="lg">Periclase,syn</text>
<use href="#s_diamond" x="823.5" y="840.6"/>
<use href="#s_club" x="831.3" y="805.7"/>
<use href="#s_club" x="840.2" y="859.1"/>
<use href="#s_club" x="864.7" y="801.2"/>
<use href="#s_club" x="879.2" y="854.3"/>
<use href="#s_diamond" x="894.7" y="868.8"/>
<use href="#s_diamond" x="905.1" y="849.1"/>
<use href="#s_club" x="919.6" y="564.9"/>
<use href="#s_diamond" x="927.8" y="825.0"/>
<use href="#s_diamond" x="931.1" y="855.4"/>
<use href="#s_club" x="938.2" y="838.7"/>
<use href="#s_club" x="956.0" y="802.3"/>
<use href="#s_club" x="966.4" y="682.1"/>
<use href="#s_club" x="974.5" y="668.0"/>
<use href="#s_heart" x="992.0" y="844.3"/>
<use href="#s_diamond" x="1001.6" y="857.3"/>
<use href="#s_diamond" x="1010.9" y="873.2"/>
<use href="#s_diamond" x="1022.4" y="875.8"/>
<use href="#s_club" x="1039.9" y="870.2"/>
<use href="#s_club" x="1055.4" y="776.4"/>
<use href="#s_club" x="1069.5" y="766.3"/>
<use href="#s_club" x="1100.7" y="855.8"/>
<use href="#s_club" x="1113.3" y="802.3"/>
<use href="#s_heart" x="1122.0" y="850.9"/>
<use href="#s_club" x="1151.7" y="863.9"/>
<use href="#s_club" x="1167.2" y="856.1"/>
<use href="#s_heart" x="1201.0" y="876.5"/>
<use href="#s_heart" x="1236.3" y="879.5"/>
</svg></body></html>
